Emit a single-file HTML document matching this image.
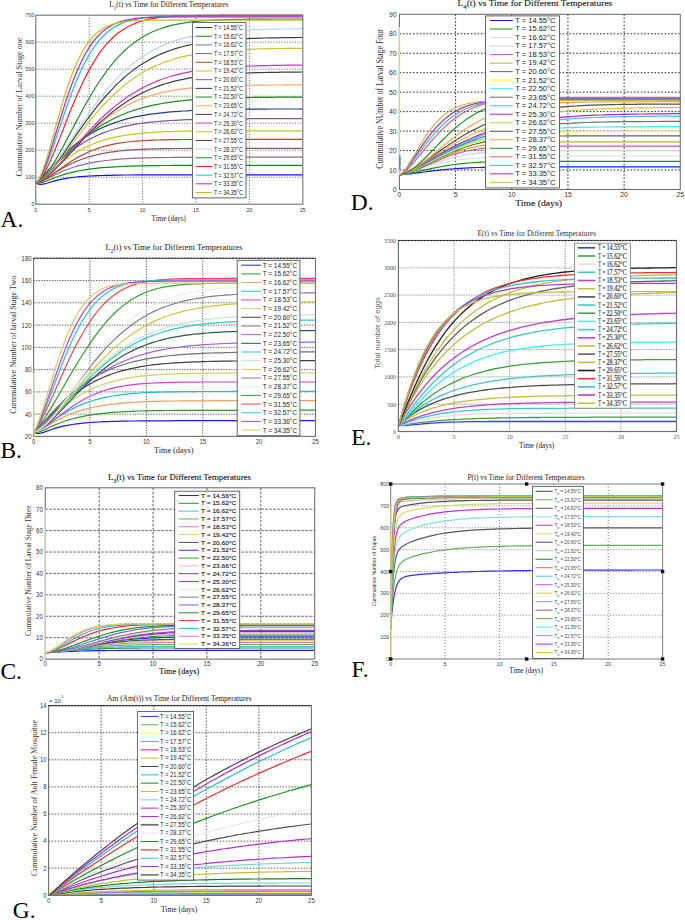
<!DOCTYPE html>
<html><head><meta charset="utf-8"><style>
html,body{margin:0;padding:0;background:#fff;}
svg{display:block;}
</style></head><body>
<svg width="685" height="920" viewBox="0 0 685 920" style="shape-rendering:auto">
<rect width="685" height="920" fill="#fff"/>
<path d="M89.2 15.2V204.2M142.6 15.2V204.2M196 15.2V204.2M249.4 15.2V204.2M35.8 177.2H302.8M35.8 150.2H302.8M35.8 123.2H302.8M35.8 96.2H302.8M35.8 69.2H302.8M35.8 42.2H302.8" stroke="#333" stroke-width="0.8" stroke-dasharray="1,1.7" fill="none"/>
<polyline points="35.8,182.6 36.9,183.4 37.9,183.9 39.0,184.2 40.1,184.3 41.1,184.3 42.2,184.2 43.3,184.0 44.3,183.8 45.4,183.6 46.5,183.3 50.8,182.0 55.0,180.8 59.3,179.7 63.6,178.8 67.8,178.1 72.1,177.5 76.4,177.0 80.7,176.6 84.9,176.3 89.2,176.0 93.5,175.8 97.7,175.6 102.0,175.5 106.3,175.4 110.6,175.3 114.8,175.2 119.1,175.1 123.4,175.0 127.6,175.0 131.9,175.0 136.2,174.9 140.5,174.9 144.7,174.9 149.0,174.9 153.3,174.8 157.6,174.8 161.8,174.8 166.1,174.8 170.4,174.8 174.6,174.8 178.9,174.8 183.2,174.8 187.5,174.8 191.7,174.8 196.0,174.8 200.3,174.8 204.5,174.8 208.8,174.8 213.1,174.8 217.4,174.8 221.6,174.8 225.9,174.8 230.2,174.8 234.4,174.8 238.7,174.8 243.0,174.8 247.3,174.8 251.5,174.8 255.8,174.8 260.1,174.8 264.4,174.8 268.6,174.8 272.9,174.8 277.2,174.8 281.4,174.8 285.7,174.8 290.0,174.8 294.3,174.8 298.5,174.8 302.8,174.8" stroke="#1010ff" stroke-width="1.2" fill="none" stroke-linejoin="round"/>
<polyline points="35.8,182.6 36.9,183.0 37.9,183.1 39.0,183.1 40.1,182.9 41.1,182.7 42.2,182.5 43.3,182.1 44.3,181.8 45.4,181.4 46.5,181.0 50.8,179.2 55.0,177.5 59.3,176.0 63.6,174.6 67.8,173.4 72.1,172.3 76.4,171.4 80.7,170.5 84.9,169.8 89.2,169.2 93.5,168.6 97.7,168.1 102.0,167.7 106.3,167.4 110.6,167.1 114.8,166.8 119.1,166.6 123.4,166.4 127.6,166.2 131.9,166.1 136.2,165.9 140.5,165.8 144.7,165.8 149.0,165.7 153.3,165.6 157.6,165.6 161.8,165.5 166.1,165.5 170.4,165.5 174.6,165.4 178.9,165.4 183.2,165.4 187.5,165.4 191.7,165.4 196.0,165.4 200.3,165.4 204.5,165.4 208.8,165.3 213.1,165.3 217.4,165.3 221.6,165.3 225.9,165.3 230.2,165.3 234.4,165.3 238.7,165.3 243.0,165.3 247.3,165.3 251.5,165.3 255.8,165.3 260.1,165.3 264.4,165.3 268.6,165.3 272.9,165.3 277.2,165.3 281.4,165.3 285.7,165.3 290.0,165.3 294.3,165.3 298.5,165.3 302.8,165.3" stroke="#109010" stroke-width="1.2" fill="none" stroke-linejoin="round"/>
<polyline points="35.8,182.6 36.9,182.7 37.9,182.6 39.0,182.3 40.1,182.0 41.1,181.6 42.2,181.2 43.3,180.7 44.3,180.2 45.4,179.7 46.5,179.1 50.8,176.9 55.0,174.7 59.3,172.7 63.6,170.8 67.8,169.2 72.1,167.7 76.4,166.3 80.7,165.1 84.9,164.1 89.2,163.1 93.5,162.3 97.7,161.6 102.0,161.0 106.3,160.5 110.6,160.0 114.8,159.6 119.1,159.2 123.4,158.9 127.6,158.7 131.9,158.4 136.2,158.2 140.5,158.1 144.7,157.9 149.0,157.8 153.3,157.7 157.6,157.6 161.8,157.6 166.1,157.5 170.4,157.5 174.6,157.4 178.9,157.4 183.2,157.4 187.5,157.3 191.7,157.3 196.0,157.3 200.3,157.3 204.5,157.3 208.8,157.3 213.1,157.3 217.4,157.3 221.6,157.2 225.9,157.2 230.2,157.2 234.4,157.2 238.7,157.2 243.0,157.2 247.3,157.2 251.5,157.2 255.8,157.2 260.1,157.2 264.4,157.2 268.6,157.2 272.9,157.2 277.2,157.2 281.4,157.2 285.7,157.2 290.0,157.2 294.3,157.2 298.5,157.2 302.8,157.2" stroke="#8c6c8c" stroke-width="1.2" fill="none" stroke-linejoin="round"/>
<polyline points="35.8,182.6 36.9,182.6 37.9,182.4 39.0,182.0 40.1,181.6 41.1,181.1 42.2,180.6 43.3,180.0 44.3,179.4 45.4,178.8 46.5,178.1 50.8,175.4 55.0,172.7 59.3,170.1 63.6,167.7 67.8,165.4 72.1,163.3 76.4,161.4 80.7,159.7 84.9,158.2 89.2,156.8 93.5,155.6 97.7,154.6 102.0,153.6 106.3,152.8 110.6,152.1 114.8,151.6 119.1,151.0 123.4,150.6 127.6,150.2 131.9,149.9 136.2,149.6 140.5,149.4 144.7,149.2 149.0,149.1 153.3,148.9 157.6,148.8 161.8,148.7 166.1,148.7 170.4,148.6 174.6,148.5 178.9,148.5 183.2,148.5 187.5,148.4 191.7,148.4 196.0,148.4 200.3,148.4 204.5,148.4 208.8,148.4 213.1,148.3 217.4,148.3 221.6,148.3 225.9,148.3 230.2,148.3 234.4,148.3 238.7,148.3 243.0,148.3 247.3,148.3 251.5,148.3 255.8,148.3 260.1,148.3 264.4,148.3 268.6,148.3 272.9,148.3 277.2,148.3 281.4,148.3 285.7,148.3 290.0,148.3 294.3,148.3 298.5,148.3 302.8,148.3" stroke="#8a5a5a" stroke-width="1.2" fill="none" stroke-linejoin="round"/>
<polyline points="35.8,182.6 36.9,182.6 37.9,182.4 39.0,182.1 40.1,181.7 41.1,181.3 42.2,180.8 43.3,180.3 44.3,179.7 45.4,179.0 46.5,178.4 50.8,175.6 55.0,172.6 59.3,169.5 63.6,166.5 67.8,163.6 72.1,160.8 76.4,158.2 80.7,155.9 84.9,153.7 89.2,151.7 93.5,150.0 97.7,148.4 102.0,147.0 106.3,145.9 110.6,144.8 114.8,143.9 119.1,143.2 123.4,142.5 127.6,142.0 131.9,141.5 136.2,141.1 140.5,140.8 144.7,140.5 149.0,140.3 153.3,140.1 157.6,140.0 161.8,139.9 166.1,139.8 170.4,139.7 174.6,139.6 178.9,139.6 183.2,139.5 187.5,139.5 191.7,139.5 196.0,139.5 200.3,139.4 204.5,139.4 208.8,139.4 213.1,139.4 217.4,139.4 221.6,139.4 225.9,139.4 230.2,139.4 234.4,139.4 238.7,139.4 243.0,139.4 247.3,139.4 251.5,139.4 255.8,139.4 260.1,139.4 264.4,139.4 268.6,139.4 272.9,139.4 277.2,139.4 281.4,139.4 285.7,139.4 290.0,139.4 294.3,139.4 298.5,139.4 302.8,139.4" stroke="#b04a28" stroke-width="1.2" fill="none" stroke-linejoin="round"/>
<polyline points="35.8,182.6 36.9,182.2 37.9,181.6 39.0,180.9 40.1,180.2 41.1,179.4 42.2,178.6 43.3,177.8 44.3,176.9 45.4,176.1 46.5,175.2 50.8,171.5 55.0,167.9 59.3,164.4 63.6,161.1 67.8,157.9 72.1,155.0 76.4,152.3 80.7,149.8 84.9,147.6 89.2,145.5 93.5,143.7 97.7,142.1 102.0,140.6 106.3,139.3 110.6,138.2 114.8,137.2 119.1,136.3 123.4,135.5 127.6,134.9 131.9,134.3 136.2,133.8 140.5,133.3 144.7,132.9 149.0,132.6 153.3,132.3 157.6,132.1 161.8,131.9 166.1,131.7 170.4,131.6 174.6,131.4 178.9,131.3 183.2,131.2 187.5,131.2 191.7,131.1 196.0,131.0 200.3,131.0 204.5,131.0 208.8,130.9 213.1,130.9 217.4,130.9 221.6,130.9 225.9,130.8 230.2,130.8 234.4,130.8 238.7,130.8 243.0,130.8 247.3,130.8 251.5,130.8 255.8,130.8 260.1,130.8 264.4,130.8 268.6,130.8 272.9,130.8 277.2,130.8 281.4,130.8 285.7,130.8 290.0,130.8 294.3,130.8 298.5,130.8 302.8,130.8" stroke="#c8c818" stroke-width="1.2" fill="none" stroke-linejoin="round"/>
<polyline points="35.8,182.6 36.9,182.0 37.9,181.2 39.0,180.4 40.1,179.5 41.1,178.5 42.2,177.5 43.3,176.5 44.3,175.5 45.4,174.4 46.5,173.4 50.8,169.2 55.0,165.1 59.3,161.1 63.6,157.3 67.8,153.8 72.1,150.4 76.4,147.3 80.7,144.5 84.9,141.8 89.2,139.4 93.5,137.2 97.7,135.2 102.0,133.4 106.3,131.8 110.6,130.3 114.8,129.0 119.1,127.8 123.4,126.7 127.6,125.8 131.9,124.9 136.2,124.2 140.5,123.5 144.7,122.9 149.0,122.4 153.3,121.9 157.6,121.5 161.8,121.1 166.1,120.8 170.4,120.5 174.6,120.3 178.9,120.1 183.2,119.9 187.5,119.7 191.7,119.6 196.0,119.4 200.3,119.3 204.5,119.2 208.8,119.2 213.1,119.1 217.4,119.0 221.6,119.0 225.9,118.9 230.2,118.9 234.4,118.8 238.7,118.8 243.0,118.8 247.3,118.8 251.5,118.7 255.8,118.7 260.1,118.7 264.4,118.7 268.6,118.7 272.9,118.7 277.2,118.7 281.4,118.7 285.7,118.6 290.0,118.6 294.3,118.6 298.5,118.6 302.8,118.6" stroke="#7a5a8a" stroke-width="1.2" fill="none" stroke-linejoin="round"/>
<polyline points="35.8,182.6 36.9,181.9 37.9,181.0 39.0,180.0 40.1,179.0 41.1,177.9 42.2,176.8 43.3,175.6 44.3,174.5 45.4,173.3 46.5,172.2 50.8,167.6 55.0,163.0 59.3,158.7 63.6,154.5 67.8,150.6 72.1,146.9 76.4,143.5 80.7,140.3 84.9,137.4 89.2,134.7 93.5,132.2 97.7,129.9 102.0,127.8 106.3,125.9 110.6,124.2 114.8,122.6 119.1,121.2 123.4,119.9 127.6,118.7 131.9,117.7 136.2,116.7 140.5,115.9 144.7,115.1 149.0,114.4 153.3,113.8 157.6,113.3 161.8,112.8 166.1,112.3 170.4,111.9 174.6,111.6 178.9,111.3 183.2,111.0 187.5,110.8 191.7,110.5 196.0,110.3 200.3,110.2 204.5,110.0 208.8,109.9 213.1,109.8 217.4,109.7 221.6,109.6 225.9,109.5 230.2,109.4 234.4,109.3 238.7,109.3 243.0,109.2 247.3,109.2 251.5,109.2 255.8,109.1 260.1,109.1 264.4,109.1 268.6,109.0 272.9,109.0 277.2,109.0 281.4,109.0 285.7,109.0 290.0,109.0 294.3,109.0 298.5,109.0 302.8,108.9" stroke="#223c8c" stroke-width="1.2" fill="none" stroke-linejoin="round"/>
<polyline points="35.8,182.6 36.9,182.2 37.9,181.5 39.0,180.8 40.1,179.9 41.1,179.1 42.2,178.1 43.3,177.2 44.3,176.2 45.4,175.2 46.5,174.1 50.8,169.9 55.0,165.5 59.3,161.0 63.6,156.7 67.8,152.5 72.1,148.4 76.4,144.4 80.7,140.7 84.9,137.2 89.2,133.8 93.5,130.7 97.7,127.8 102.0,125.1 106.3,122.5 110.6,120.2 114.8,118.0 119.1,116.0 123.4,114.2 127.6,112.5 131.9,111.0 136.2,109.6 140.5,108.3 144.7,107.2 149.0,106.1 153.3,105.2 157.6,104.3 161.8,103.5 166.1,102.8 170.4,102.2 174.6,101.6 178.9,101.1 183.2,100.7 187.5,100.2 191.7,99.9 196.0,99.5 200.3,99.3 204.5,99.0 208.8,98.8 213.1,98.6 217.4,98.4 221.6,98.2 225.9,98.1 230.2,97.9 234.4,97.8 238.7,97.7 243.0,97.6 247.3,97.6 251.5,97.5 255.8,97.4 260.1,97.4 264.4,97.3 268.6,97.3 272.9,97.3 277.2,97.2 281.4,97.2 285.7,97.2 290.0,97.2 294.3,97.1 298.5,97.1 302.8,97.1" stroke="#1a8a1a" stroke-width="1.2" fill="none" stroke-linejoin="round"/>
<polyline points="35.8,182.6 36.9,182.4 37.9,182.1 39.0,181.6 40.1,181.1 41.1,180.5 42.2,179.8 43.3,179.1 44.3,178.3 45.4,177.5 46.5,176.7 50.8,173.0 55.0,168.9 59.3,164.6 63.6,160.1 67.8,155.5 72.1,150.9 76.4,146.4 80.7,141.9 84.9,137.6 89.2,133.5 93.5,129.5 97.7,125.7 102.0,122.1 106.3,118.7 110.6,115.6 114.8,112.6 119.1,109.9 123.4,107.4 127.6,105.1 131.9,102.9 136.2,101.0 140.5,99.2 144.7,97.6 149.0,96.2 153.3,94.9 157.6,93.7 161.8,92.6 166.1,91.7 170.4,90.8 174.6,90.1 178.9,89.4 183.2,88.8 187.5,88.3 191.7,87.9 196.0,87.5 200.3,87.1 204.5,86.8 208.8,86.5 213.1,86.3 217.4,86.1 221.6,85.9 225.9,85.8 230.2,85.6 234.4,85.5 238.7,85.4 243.0,85.3 247.3,85.3 251.5,85.2 255.8,85.1 260.1,85.1 264.4,85.1 268.6,85.0 272.9,85.0 277.2,85.0 281.4,85.0 285.7,84.9 290.0,84.9 294.3,84.9 298.5,84.9 302.8,84.9" stroke="#ffa868" stroke-width="1.2" fill="none" stroke-linejoin="round"/>
<polyline points="35.8,182.6 36.9,182.4 37.9,182.1 39.0,181.6 40.1,181.1 41.1,180.6 42.2,179.9 43.3,179.2 44.3,178.5 45.4,177.7 46.5,176.9 50.8,173.3 55.0,169.3 59.3,165.1 63.6,160.6 67.8,156.0 72.1,151.4 76.4,146.7 80.7,142.1 84.9,137.6 89.2,133.2 93.5,128.9 97.7,124.8 102.0,120.9 106.3,117.1 110.6,113.5 114.8,110.1 119.1,106.9 123.4,103.9 127.6,101.1 131.9,98.5 136.2,96.0 140.5,93.8 144.7,91.7 149.0,89.8 153.3,88.0 157.6,86.4 161.8,84.9 166.1,83.5 170.4,82.3 174.6,81.2 178.9,80.2 183.2,79.3 187.5,78.4 191.7,77.7 196.0,77.0 200.3,76.4 204.5,75.9 208.8,75.4 213.1,75.0 217.4,74.6 221.6,74.3 225.9,74.0 230.2,73.7 234.4,73.5 238.7,73.3 243.0,73.1 247.3,73.0 251.5,72.8 255.8,72.7 260.1,72.6 264.4,72.5 268.6,72.4 272.9,72.3 277.2,72.3 281.4,72.2 285.7,72.2 290.0,72.1 294.3,72.1 298.5,72.1 302.8,72.0" stroke="#404040" stroke-width="1.2" fill="none" stroke-linejoin="round"/>
<polyline points="35.8,182.6 36.9,182.4 37.9,182.1 39.0,181.6 40.1,181.1 41.1,180.5 42.2,179.8 43.3,179.1 44.3,178.3 45.4,177.5 46.5,176.7 50.8,172.9 55.0,168.8 59.3,164.3 63.6,159.6 67.8,154.8 72.1,150.0 76.4,145.1 80.7,140.3 84.9,135.5 89.2,130.9 93.5,126.4 97.7,122.0 102.0,117.8 106.3,113.8 110.6,110.0 114.8,106.4 119.1,103.0 123.4,99.8 127.6,96.8 131.9,94.0 136.2,91.4 140.5,88.9 144.7,86.7 149.0,84.6 153.3,82.7 157.6,80.9 161.8,79.3 166.1,77.8 170.4,76.5 174.6,75.3 178.9,74.2 183.2,73.2 187.5,72.3 191.7,71.4 196.0,70.7 200.3,70.0 204.5,69.4 208.8,68.9 213.1,68.4 217.4,68.0 221.6,67.6 225.9,67.3 230.2,67.0 234.4,66.7 238.7,66.5 243.0,66.3 247.3,66.1 251.5,66.0 255.8,65.8 260.1,65.7 264.4,65.6 268.6,65.5 272.9,65.4 277.2,65.3 281.4,65.3 285.7,65.2 290.0,65.2 294.3,65.1 298.5,65.1 302.8,65.1" stroke="#cc33cc" stroke-width="1.2" fill="none" stroke-linejoin="round"/>
<polyline points="35.8,182.6 36.9,182.4 37.9,182.0 39.0,181.4 40.1,180.8 41.1,180.1 42.2,179.3 43.3,178.4 44.3,177.5 45.4,176.5 46.5,175.5 50.8,171.1 55.0,166.2 59.3,160.9 63.6,155.4 67.8,149.7 72.1,144.0 76.4,138.3 80.7,132.6 84.9,127.1 89.2,121.7 93.5,116.4 97.7,111.4 102.0,106.6 106.3,102.0 110.6,97.6 114.8,93.5 119.1,89.6 123.4,86.0 127.6,82.6 131.9,79.4 136.2,76.5 140.5,73.8 144.7,71.3 149.0,69.0 153.3,66.9 157.6,65.0 161.8,63.2 166.1,61.6 170.4,60.2 174.6,58.8 178.9,57.7 183.2,56.6 187.5,55.6 191.7,54.8 196.0,54.0 200.3,53.3 204.5,52.7 208.8,52.1 213.1,51.6 217.4,51.2 221.6,50.8 225.9,50.5 230.2,50.2 234.4,49.9 238.7,49.7 243.0,49.5 247.3,49.3 251.5,49.1 255.8,49.0 260.1,48.9 264.4,48.8 268.6,48.7 272.9,48.6 277.2,48.5 281.4,48.5 285.7,48.4 290.0,48.4 294.3,48.4 298.5,48.3 302.8,48.3" stroke="#c8c828" stroke-width="1.2" fill="none" stroke-linejoin="round"/>
<polyline points="35.8,182.6 36.9,182.4 37.9,181.9 39.0,181.3 40.1,180.6 41.1,179.9 42.2,179.0 43.3,178.1 44.3,177.1 45.4,176.1 46.5,175.0 50.8,170.2 55.0,164.8 59.3,159.1 63.6,153.2 67.8,147.1 72.1,140.9 76.4,134.7 80.7,128.6 84.9,122.6 89.2,116.8 93.5,111.1 97.7,105.7 102.0,100.5 106.3,95.5 110.6,90.8 114.8,86.3 119.1,82.1 123.4,78.2 127.6,74.6 131.9,71.1 136.2,68.0 140.5,65.1 144.7,62.4 149.0,59.9 153.3,57.6 157.6,55.5 161.8,53.6 166.1,51.9 170.4,50.3 174.6,48.9 178.9,47.6 183.2,46.5 187.5,45.4 191.7,44.5 196.0,43.6 200.3,42.9 204.5,42.2 208.8,41.6 213.1,41.1 217.4,40.6 221.6,40.2 225.9,39.9 230.2,39.5 234.4,39.3 238.7,39.0 243.0,38.8 247.3,38.6 251.5,38.4 255.8,38.3 260.1,38.1 264.4,38.0 268.6,37.9 272.9,37.9 277.2,37.8 281.4,37.7 285.7,37.7 290.0,37.6 294.3,37.6 298.5,37.5 302.8,37.5" stroke="#404040" stroke-width="1.2" fill="none" stroke-linejoin="round"/>
<polyline points="35.8,182.6 36.9,182.3 37.9,181.9 39.0,181.2 40.1,180.5 41.1,179.7 42.2,178.8 43.3,177.8 44.3,176.8 45.4,175.7 46.5,174.5 50.8,169.4 55.0,163.8 59.3,157.7 63.6,151.4 67.8,144.9 72.1,138.4 76.4,131.9 80.7,125.4 84.9,119.0 89.2,112.9 93.5,106.9 97.7,101.1 102.0,95.6 106.3,90.3 110.6,85.3 114.8,80.6 119.1,76.2 123.4,72.0 127.6,68.1 131.9,64.5 136.2,61.2 140.5,58.1 144.7,55.2 149.0,52.6 153.3,50.2 157.6,48.0 161.8,45.9 166.1,44.1 170.4,42.5 174.6,40.9 178.9,39.6 183.2,38.4 187.5,37.3 191.7,36.3 196.0,35.4 200.3,34.6 204.5,33.9 208.8,33.3 213.1,32.7 217.4,32.2 221.6,31.8 225.9,31.4 230.2,31.0 234.4,30.7 238.7,30.5 243.0,30.2 247.3,30.0 251.5,29.8 255.8,29.7 260.1,29.6 264.4,29.4 268.6,29.3 272.9,29.2 277.2,29.2 281.4,29.1 285.7,29.0 290.0,29.0 294.3,28.9 298.5,28.9 302.8,28.9" stroke="#b8d4fa" stroke-width="1.2" fill="none" stroke-linejoin="round"/>
<polyline points="35.8,182.6 36.9,182.4 37.9,181.9 39.0,181.3 40.1,180.5 41.1,179.6 42.2,178.6 43.3,177.6 44.3,176.4 45.4,175.1 46.5,173.8 50.8,167.8 55.0,161.0 59.3,153.5 63.6,145.7 67.8,137.6 72.1,129.5 76.4,121.4 80.7,113.3 84.9,105.5 89.2,98.0 93.5,90.8 97.7,84.0 102.0,77.6 106.3,71.6 110.6,66.0 114.8,60.9 119.1,56.2 123.4,51.8 127.6,47.9 131.9,44.4 136.2,41.2 140.5,38.3 144.7,35.8 149.0,33.5 153.3,31.5 157.6,29.8 161.8,28.2 166.1,26.9 170.4,25.7 174.6,24.7 178.9,23.8 183.2,23.1 187.5,22.4 191.7,21.9 196.0,21.4 200.3,21.0 204.5,20.6 208.8,20.4 213.1,20.1 217.4,19.9 221.6,19.8 225.9,19.6 230.2,19.5 234.4,19.4 238.7,19.3 243.0,19.3 247.3,19.2 251.5,19.2 255.8,19.1 260.1,19.1 264.4,19.1 268.6,19.1 272.9,19.0 277.2,19.0 281.4,19.0 285.7,19.0 290.0,19.0 294.3,19.0 298.5,19.0 302.8,19.0" stroke="#229022" stroke-width="1.2" fill="none" stroke-linejoin="round"/>
<polyline points="35.8,182.6 36.9,182.2 37.9,181.5 39.0,180.5 40.1,179.3 41.1,178.0 42.2,176.4 43.3,174.7 44.3,172.9 45.4,171.0 46.5,168.9 50.8,159.9 55.0,149.8 59.3,139.1 63.6,128.2 67.8,117.3 72.1,106.7 76.4,96.6 80.7,87.0 84.9,78.1 89.2,69.9 93.5,62.4 97.7,55.7 102.0,49.7 106.3,44.4 110.6,39.8 114.8,35.8 119.1,32.3 123.4,29.4 127.6,26.8 131.9,24.7 136.2,22.9 140.5,21.5 144.7,20.2 149.0,19.2 153.3,18.4 157.6,17.7 161.8,17.2 166.1,16.8 170.4,16.4 174.6,16.2 178.9,15.9 183.2,15.8 187.5,15.6 191.7,15.5 196.0,15.5 200.3,15.4 204.5,15.3 208.8,15.3 213.1,15.3 217.4,15.3 221.6,15.2 225.9,15.2 230.2,15.2 234.4,15.2 238.7,15.2 243.0,15.2 247.3,15.2 251.5,15.2 255.8,15.2 260.1,15.2 264.4,15.2 268.6,15.2 272.9,15.2 277.2,15.2 281.4,15.2 285.7,15.2 290.0,15.2 294.3,15.2 298.5,15.2 302.8,15.2" stroke="#ff2020" stroke-width="1.2" fill="none" stroke-linejoin="round"/>
<polyline points="35.8,182.6 36.9,182.1 37.9,181.2 39.0,179.9 40.1,178.4 41.1,176.6 42.2,174.6 43.3,172.5 44.3,170.1 45.4,167.7 46.5,165.1 50.8,153.7 55.0,141.4 59.3,128.6 63.6,115.8 67.8,103.5 72.1,91.9 76.4,81.1 80.7,71.3 84.9,62.5 89.2,54.8 93.5,48.0 97.7,42.2 102.0,37.3 106.3,33.2 110.6,29.7 114.8,26.9 119.1,24.6 123.4,22.7 127.6,21.2 131.9,20.0 136.2,19.1 140.5,18.3 144.7,17.7 149.0,17.3 153.3,17.0 157.6,16.7 161.8,16.5 166.1,16.4 170.4,16.3 174.6,16.2 178.9,16.2 183.2,16.1 187.5,16.1 191.7,16.1 196.0,16.0 200.3,16.0 204.5,16.0 208.8,16.0 213.1,16.0 217.4,16.0 221.6,16.0 225.9,16.0 230.2,16.0 234.4,16.0 238.7,16.0 243.0,16.0 247.3,16.0 251.5,16.0 255.8,16.0 260.1,16.0 264.4,16.0 268.6,16.0 272.9,16.0 277.2,16.0 281.4,16.0 285.7,16.0 290.0,16.0 294.3,16.0 298.5,16.0 302.8,16.0" stroke="#20c0c8" stroke-width="1.2" fill="none" stroke-linejoin="round"/>
<polyline points="35.8,182.6 36.9,182.1 37.9,181.0 39.0,179.5 40.1,177.7 41.1,175.7 42.2,173.4 43.3,171.0 44.3,168.3 45.4,165.5 46.5,162.6 50.8,149.8 55.0,136.0 59.3,122.0 63.6,108.3 67.8,95.4 72.1,83.4 76.4,72.5 80.7,62.9 84.9,54.5 89.2,47.4 93.5,41.3 97.7,36.2 102.0,32.1 106.3,28.7 110.6,26.0 114.8,23.8 119.1,22.1 123.4,20.8 127.6,19.8 131.9,19.0 136.2,18.4 140.5,18.0 144.7,17.7 149.0,17.4 153.3,17.2 157.6,17.1 161.8,17.0 166.1,17.0 170.4,16.9 174.6,16.9 178.9,16.9 183.2,16.9 187.5,16.8 191.7,16.8 196.0,16.8 200.3,16.8 204.5,16.8 208.8,16.8 213.1,16.8 217.4,16.8 221.6,16.8 225.9,16.8 230.2,16.8 234.4,16.8 238.7,16.8 243.0,16.8 247.3,16.8 251.5,16.8 255.8,16.8 260.1,16.8 264.4,16.8 268.6,16.8 272.9,16.8 277.2,16.8 281.4,16.8 285.7,16.8 290.0,16.8 294.3,16.8 298.5,16.8 302.8,16.8" stroke="#c020c8" stroke-width="1.2" fill="none" stroke-linejoin="round"/>
<polyline points="35.8,182.6 36.9,182.0 37.9,180.7 39.0,179.0 40.1,176.9 41.1,174.5 42.2,171.8 43.3,168.9 44.3,165.8 45.4,162.6 46.5,159.2 50.8,144.6 55.0,129.2 59.3,113.9 63.6,99.4 67.8,86.0 72.1,74.1 76.4,63.6 80.7,54.7 84.9,47.3 89.2,41.1 93.5,36.2 97.7,32.3 102.0,29.2 106.3,26.8 110.6,25.0 114.8,23.6 119.1,22.6 123.4,21.9 127.6,21.3 131.9,20.9 136.2,20.7 140.5,20.5 144.7,20.3 149.0,20.2 153.3,20.2 157.6,20.1 161.8,20.1 166.1,20.1 170.4,20.1 174.6,20.1 178.9,20.1 183.2,20.1 187.5,20.1 191.7,20.1 196.0,20.1 200.3,20.1 204.5,20.1 208.8,20.1 213.1,20.1 217.4,20.1 221.6,20.1 225.9,20.1 230.2,20.1 234.4,20.1 238.7,20.1 243.0,20.1 247.3,20.1 251.5,20.1 255.8,20.1 260.1,20.1 264.4,20.1 268.6,20.1 272.9,20.1 277.2,20.1 281.4,20.1 285.7,20.1 290.0,20.1 294.3,20.1 298.5,20.1 302.8,20.1" stroke="#c0c020" stroke-width="1.2" fill="none" stroke-linejoin="round"/>
<rect x="35.8" y="15.2" width="267" height="189" fill="none" stroke="#707070" stroke-width="1.1"/>
<text x="34.3" y="206.36" font-family='"Liberation Sans", sans-serif' font-size="6" text-anchor="end" fill="#333" textLength="2.9" lengthAdjust="spacingAndGlyphs">0</text>
<text x="34.3" y="179.36" font-family='"Liberation Sans", sans-serif' font-size="6" text-anchor="end" fill="#333" textLength="8.7" lengthAdjust="spacingAndGlyphs">100</text>
<text x="34.3" y="152.36" font-family='"Liberation Sans", sans-serif' font-size="6" text-anchor="end" fill="#333" textLength="8.7" lengthAdjust="spacingAndGlyphs">200</text>
<text x="34.3" y="125.36" font-family='"Liberation Sans", sans-serif' font-size="6" text-anchor="end" fill="#333" textLength="8.7" lengthAdjust="spacingAndGlyphs">300</text>
<text x="34.3" y="98.36" font-family='"Liberation Sans", sans-serif' font-size="6" text-anchor="end" fill="#333" textLength="8.7" lengthAdjust="spacingAndGlyphs">400</text>
<text x="34.3" y="71.36" font-family='"Liberation Sans", sans-serif' font-size="6" text-anchor="end" fill="#333" textLength="8.7" lengthAdjust="spacingAndGlyphs">500</text>
<text x="34.3" y="44.36" font-family='"Liberation Sans", sans-serif' font-size="6" text-anchor="end" fill="#333" textLength="8.7" lengthAdjust="spacingAndGlyphs">600</text>
<text x="34.3" y="17.36" font-family='"Liberation Sans", sans-serif' font-size="6" text-anchor="end" fill="#333" textLength="8.7" lengthAdjust="spacingAndGlyphs">700</text>
<text x="35.8" y="211.66" font-family='"Liberation Sans", sans-serif' font-size="6" text-anchor="middle" fill="#333" textLength="2.9" lengthAdjust="spacingAndGlyphs">0</text>
<text x="89.2" y="211.66" font-family='"Liberation Sans", sans-serif' font-size="6" text-anchor="middle" fill="#333" textLength="2.9" lengthAdjust="spacingAndGlyphs">5</text>
<text x="142.6" y="211.66" font-family='"Liberation Sans", sans-serif' font-size="6" text-anchor="middle" fill="#333" textLength="5.8" lengthAdjust="spacingAndGlyphs">10</text>
<text x="196" y="211.66" font-family='"Liberation Sans", sans-serif' font-size="6" text-anchor="middle" fill="#333" textLength="5.8" lengthAdjust="spacingAndGlyphs">15</text>
<text x="249.4" y="211.66" font-family='"Liberation Sans", sans-serif' font-size="6" text-anchor="middle" fill="#333" textLength="5.8" lengthAdjust="spacingAndGlyphs">20</text>
<text x="302.8" y="211.66" font-family='"Liberation Sans", sans-serif' font-size="6" text-anchor="middle" fill="#333" textLength="5.8" lengthAdjust="spacingAndGlyphs">25</text>
<rect x="192.4" y="22.4" width="53.6" height="175.5" fill="#fff" stroke="#555" stroke-width="0.9"/>
<line x1="195.5" y1="27.6" x2="212.2" y2="27.6" stroke="#1010ff" stroke-width="1"/>
<text x="213.9" y="30.05" font-family='"Liberation Sans", sans-serif' font-size="6.8" text-anchor="start" fill="#222" textLength="29" lengthAdjust="spacingAndGlyphs">T = 14.55°C</text>
<line x1="195.5" y1="36.28" x2="212.2" y2="36.28" stroke="#109010" stroke-width="1"/>
<text x="213.9" y="38.73" font-family='"Liberation Sans", sans-serif' font-size="6.8" text-anchor="start" fill="#222" textLength="29" lengthAdjust="spacingAndGlyphs">T = 15.62°C</text>
<line x1="195.5" y1="44.96" x2="212.2" y2="44.96" stroke="#8c6c8c" stroke-width="1"/>
<text x="213.9" y="47.41" font-family='"Liberation Sans", sans-serif' font-size="6.8" text-anchor="start" fill="#222" textLength="29" lengthAdjust="spacingAndGlyphs">T = 16.62°C</text>
<line x1="195.5" y1="53.64" x2="212.2" y2="53.64" stroke="#8a5a5a" stroke-width="1"/>
<text x="213.9" y="56.09" font-family='"Liberation Sans", sans-serif' font-size="6.8" text-anchor="start" fill="#222" textLength="29" lengthAdjust="spacingAndGlyphs">T = 17.57°C</text>
<line x1="195.5" y1="62.32" x2="212.2" y2="62.32" stroke="#b04a28" stroke-width="1"/>
<text x="213.9" y="64.77" font-family='"Liberation Sans", sans-serif' font-size="6.8" text-anchor="start" fill="#222" textLength="29" lengthAdjust="spacingAndGlyphs">T = 18.53°C</text>
<line x1="195.5" y1="71" x2="212.2" y2="71" stroke="#c8c818" stroke-width="1"/>
<text x="213.9" y="73.45" font-family='"Liberation Sans", sans-serif' font-size="6.8" text-anchor="start" fill="#222" textLength="29" lengthAdjust="spacingAndGlyphs">T = 19.42°C</text>
<line x1="195.5" y1="79.68" x2="212.2" y2="79.68" stroke="#7a5a8a" stroke-width="1"/>
<text x="213.9" y="82.13" font-family='"Liberation Sans", sans-serif' font-size="6.8" text-anchor="start" fill="#222" textLength="29" lengthAdjust="spacingAndGlyphs">T = 20.60°C</text>
<line x1="195.5" y1="88.36" x2="212.2" y2="88.36" stroke="#223c8c" stroke-width="1"/>
<text x="213.9" y="90.81" font-family='"Liberation Sans", sans-serif' font-size="6.8" text-anchor="start" fill="#222" textLength="29" lengthAdjust="spacingAndGlyphs">T = 21.52°C</text>
<line x1="195.5" y1="97.04" x2="212.2" y2="97.04" stroke="#1a8a1a" stroke-width="1"/>
<text x="213.9" y="99.49" font-family='"Liberation Sans", sans-serif' font-size="6.8" text-anchor="start" fill="#222" textLength="29" lengthAdjust="spacingAndGlyphs">T = 22.50°C</text>
<line x1="195.5" y1="105.72" x2="212.2" y2="105.72" stroke="#ffa868" stroke-width="1"/>
<text x="213.9" y="108.17" font-family='"Liberation Sans", sans-serif' font-size="6.8" text-anchor="start" fill="#222" textLength="29" lengthAdjust="spacingAndGlyphs">T = 23.65°C</text>
<line x1="195.5" y1="114.4" x2="212.2" y2="114.4" stroke="#404040" stroke-width="1"/>
<text x="213.9" y="116.85" font-family='"Liberation Sans", sans-serif' font-size="6.8" text-anchor="start" fill="#222" textLength="29" lengthAdjust="spacingAndGlyphs">T = 24.72°C</text>
<line x1="195.5" y1="123.08" x2="212.2" y2="123.08" stroke="#cc33cc" stroke-width="1"/>
<text x="213.9" y="125.53" font-family='"Liberation Sans", sans-serif' font-size="6.8" text-anchor="start" fill="#222" textLength="29" lengthAdjust="spacingAndGlyphs">T = 25.30°C</text>
<line x1="195.5" y1="131.76" x2="212.2" y2="131.76" stroke="#c8c828" stroke-width="1"/>
<text x="213.9" y="134.21" font-family='"Liberation Sans", sans-serif' font-size="6.8" text-anchor="start" fill="#222" textLength="29" lengthAdjust="spacingAndGlyphs">T = 26.62°C</text>
<line x1="195.5" y1="140.44" x2="212.2" y2="140.44" stroke="#404040" stroke-width="1"/>
<text x="213.9" y="142.89" font-family='"Liberation Sans", sans-serif' font-size="6.8" text-anchor="start" fill="#222" textLength="29" lengthAdjust="spacingAndGlyphs">T = 27.55°C</text>
<line x1="195.5" y1="149.12" x2="212.2" y2="149.12" stroke="#b8d4fa" stroke-width="1"/>
<text x="213.9" y="151.57" font-family='"Liberation Sans", sans-serif' font-size="6.8" text-anchor="start" fill="#222" textLength="29" lengthAdjust="spacingAndGlyphs">T = 28.37°C</text>
<line x1="195.5" y1="157.8" x2="212.2" y2="157.8" stroke="#229022" stroke-width="1"/>
<text x="213.9" y="160.25" font-family='"Liberation Sans", sans-serif' font-size="6.8" text-anchor="start" fill="#222" textLength="29" lengthAdjust="spacingAndGlyphs">T = 29.65°C</text>
<line x1="195.5" y1="166.48" x2="212.2" y2="166.48" stroke="#ff2020" stroke-width="1"/>
<text x="213.9" y="168.93" font-family='"Liberation Sans", sans-serif' font-size="6.8" text-anchor="start" fill="#222" textLength="29" lengthAdjust="spacingAndGlyphs">T = 31.55°C</text>
<line x1="195.5" y1="175.16" x2="212.2" y2="175.16" stroke="#20c0c8" stroke-width="1"/>
<text x="213.9" y="177.61" font-family='"Liberation Sans", sans-serif' font-size="6.8" text-anchor="start" fill="#222" textLength="29" lengthAdjust="spacingAndGlyphs">T = 32.57°C</text>
<line x1="195.5" y1="183.84" x2="212.2" y2="183.84" stroke="#c020c8" stroke-width="1"/>
<text x="213.9" y="186.29" font-family='"Liberation Sans", sans-serif' font-size="6.8" text-anchor="start" fill="#222" textLength="29" lengthAdjust="spacingAndGlyphs">T = 33.35°C</text>
<line x1="195.5" y1="192.52" x2="212.2" y2="192.52" stroke="#c0c020" stroke-width="1"/>
<text x="213.9" y="194.97" font-family='"Liberation Sans", sans-serif' font-size="6.8" text-anchor="start" fill="#222" textLength="29" lengthAdjust="spacingAndGlyphs">T = 34.35°C</text>
<text x="168.8" y="6.7" font-family='"Liberation Serif", serif' font-size="8.6" font-weight="normal" text-anchor="middle" fill="#222" textLength="119.2" lengthAdjust="spacingAndGlyphs">L<tspan font-size="6.19" dy="3.27">1</tspan><tspan dy="-3.27">(t) vs Time for Different Temperatures</tspan></text>
<text x="168.7" y="220.9" font-family='"Liberation Serif", serif' font-size="7.2" text-anchor="middle" fill="#222" textLength="34.2" lengthAdjust="spacingAndGlyphs">Time (days)</text>
<text transform="translate(21.5,107) rotate(-90)" font-family='"Liberation Serif", serif' font-size="7.6" text-anchor="middle" fill="#333" textLength="138.9" lengthAdjust="spacingAndGlyphs">Cummulative Number of Larval Stage one</text>
<text x="0.5" y="227.1" font-family='"Liberation Serif", serif' font-size="23.4" text-anchor="start" fill="#000">A.</text>
<path d="M89.98 258.3V436.4M146.36 258.3V436.4M202.74 258.3V436.4M259.12 258.3V436.4M33.6 414.14H315.5M33.6 391.88H315.5M33.6 369.61H315.5M33.6 347.35H315.5M33.6 325.09H315.5M33.6 302.82H315.5M33.6 280.56H315.5" stroke="#333" stroke-width="0.8" stroke-dasharray="1.3,1.3" fill="none"/>
<polyline points="33.6,431.9 34.7,432.7 35.9,433.1 37.0,433.4 38.1,433.4 39.2,433.4 40.4,433.2 41.5,432.9 42.6,432.6 43.7,432.3 44.9,431.9 49.4,430.3 53.9,428.7 58.4,427.4 62.9,426.2 67.4,425.3 71.9,424.5 76.4,423.9 81.0,423.3 85.5,422.9 90.0,422.5 94.5,422.2 99.0,422.0 103.5,421.7 108.0,421.6 112.5,421.4 117.0,421.3 121.6,421.2 126.1,421.1 130.6,421.0 135.1,421.0 139.6,420.9 144.1,420.9 148.6,420.9 153.1,420.8 157.6,420.8 162.1,420.8 166.7,420.8 171.2,420.8 175.7,420.7 180.2,420.7 184.7,420.7 189.2,420.7 193.7,420.7 198.2,420.7 202.7,420.7 207.3,420.7 211.8,420.7 216.3,420.7 220.8,420.7 225.3,420.7 229.8,420.7 234.3,420.7 238.8,420.7 243.3,420.7 247.8,420.7 252.4,420.7 256.9,420.7 261.4,420.7 265.9,420.7 270.4,420.7 274.9,420.7 279.4,420.7 283.9,420.7 288.4,420.7 292.9,420.7 297.5,420.7 302.0,420.7 306.5,420.7 311.0,420.7 315.5,420.7" stroke="#1a1aff" stroke-width="1.2" fill="none" stroke-linejoin="round"/>
<polyline points="33.6,431.9 34.7,432.3 35.9,432.4 37.0,432.3 38.1,432.2 39.2,431.9 40.4,431.5 41.5,431.1 42.6,430.6 43.7,430.2 44.9,429.6 49.4,427.5 53.9,425.4 58.4,423.5 62.9,421.8 67.4,420.3 71.9,419.0 76.4,417.8 81.0,416.8 85.5,415.9 90.0,415.1 94.5,414.4 99.0,413.8 103.5,413.3 108.0,412.8 112.5,412.4 117.0,412.1 121.6,411.8 126.1,411.6 130.6,411.4 135.1,411.2 139.6,411.0 144.1,410.9 148.6,410.8 153.1,410.7 157.6,410.6 162.1,410.6 166.7,410.5 171.2,410.5 175.7,410.4 180.2,410.4 184.7,410.4 189.2,410.3 193.7,410.3 198.2,410.3 202.7,410.3 207.3,410.3 211.8,410.3 216.3,410.3 220.8,410.3 225.3,410.3 229.8,410.3 234.3,410.3 238.8,410.3 243.3,410.3 247.8,410.2 252.4,410.2 256.9,410.2 261.4,410.2 265.9,410.2 270.4,410.2 274.9,410.2 279.4,410.2 283.9,410.2 288.4,410.2 292.9,410.2 297.5,410.2 302.0,410.2 306.5,410.2 311.0,410.2 315.5,410.2" stroke="#2a9a2a" stroke-width="1.2" fill="none" stroke-linejoin="round"/>
<polyline points="33.6,431.9 34.7,432.0 35.9,431.8 37.0,431.5 38.1,431.0 39.2,430.5 40.4,430.0 41.5,429.4 42.6,428.8 43.7,428.1 44.9,427.4 49.4,424.7 53.9,422.1 58.4,419.6 62.9,417.4 67.4,415.3 71.9,413.5 76.4,411.9 81.0,410.4 85.5,409.1 90.0,408.0 94.5,407.0 99.0,406.1 103.5,405.3 108.0,404.7 112.5,404.1 117.0,403.6 121.6,403.1 126.1,402.8 130.6,402.4 135.1,402.2 139.6,401.9 144.1,401.7 148.6,401.6 153.1,401.4 157.6,401.3 162.1,401.2 166.7,401.1 171.2,401.0 175.7,401.0 180.2,400.9 184.7,400.9 189.2,400.8 193.7,400.8 198.2,400.8 202.7,400.8 207.3,400.8 211.8,400.7 216.3,400.7 220.8,400.7 225.3,400.7 229.8,400.7 234.3,400.7 238.8,400.7 243.3,400.7 247.8,400.7 252.4,400.7 256.9,400.7 261.4,400.7 265.9,400.7 270.4,400.7 274.9,400.7 279.4,400.7 283.9,400.7 288.4,400.7 292.9,400.7 297.5,400.7 302.0,400.7 306.5,400.7 311.0,400.7 315.5,400.7" stroke="#f0a060" stroke-width="1.2" fill="none" stroke-linejoin="round"/>
<polyline points="33.6,431.9 34.7,431.9 35.9,431.6 37.0,431.2 38.1,430.7 39.2,430.1 40.4,429.4 41.5,428.8 42.6,428.0 43.7,427.3 44.9,426.5 49.4,423.4 53.9,420.2 58.4,417.1 62.9,414.3 67.4,411.6 71.9,409.1 76.4,406.9 81.0,404.9 85.5,403.1 90.0,401.5 94.5,400.1 99.0,398.8 103.5,397.7 108.0,396.8 112.5,396.0 117.0,395.3 121.6,394.7 126.1,394.1 130.6,393.7 135.1,393.3 139.6,393.0 144.1,392.7 148.6,392.5 153.1,392.3 157.6,392.2 162.1,392.0 166.7,391.9 171.2,391.8 175.7,391.8 180.2,391.7 184.7,391.6 189.2,391.6 193.7,391.6 198.2,391.5 202.7,391.5 207.3,391.5 211.8,391.5 216.3,391.5 220.8,391.5 225.3,391.5 229.8,391.5 234.3,391.4 238.8,391.4 243.3,391.4 247.8,391.4 252.4,391.4 256.9,391.4 261.4,391.4 265.9,391.4 270.4,391.4 274.9,391.4 279.4,391.4 283.9,391.4 288.4,391.4 292.9,391.4 297.5,391.4 302.0,391.4 306.5,391.4 311.0,391.4 315.5,391.4" stroke="#20c0c8" stroke-width="1.2" fill="none" stroke-linejoin="round"/>
<polyline points="33.6,431.9 34.7,431.8 35.9,431.4 37.0,431.0 38.1,430.5 39.2,430.0 40.4,429.4 41.5,428.8 42.6,428.1 43.7,427.4 44.9,426.6 49.4,423.5 53.9,420.1 58.4,416.6 62.9,413.2 67.4,409.9 71.9,406.7 76.4,403.7 81.0,401.0 85.5,398.5 90.0,396.2 94.5,394.2 99.0,392.4 103.5,390.8 108.0,389.4 112.5,388.2 117.0,387.2 121.6,386.3 126.1,385.6 130.6,384.9 135.1,384.4 139.6,383.9 144.1,383.6 148.6,383.3 153.1,383.0 157.6,382.8 162.1,382.6 166.7,382.5 171.2,382.4 175.7,382.3 180.2,382.2 184.7,382.2 189.2,382.1 193.7,382.1 198.2,382.1 202.7,382.0 207.3,382.0 211.8,382.0 216.3,382.0 220.8,382.0 225.3,382.0 229.8,382.0 234.3,382.0 238.8,382.0 243.3,382.0 247.8,382.0 252.4,382.0 256.9,382.0 261.4,382.0 265.9,382.0 270.4,382.0 274.9,382.0 279.4,382.0 283.9,382.0 288.4,382.0 292.9,382.0 297.5,382.0 302.0,382.0 306.5,382.0 311.0,382.0 315.5,382.0" stroke="#d040d8" stroke-width="1.2" fill="none" stroke-linejoin="round"/>
<polyline points="33.6,431.9 34.7,431.5 35.9,430.8 37.0,430.1 38.1,429.2 39.2,428.4 40.4,427.4 41.5,426.5 42.6,425.5 43.7,424.5 44.9,423.5 49.4,419.4 53.9,415.3 58.4,411.3 62.9,407.5 67.4,403.9 71.9,400.5 76.4,397.5 81.0,394.7 85.5,392.1 90.0,389.8 94.5,387.7 99.0,385.8 103.5,384.2 108.0,382.7 112.5,381.4 117.0,380.3 121.6,379.3 126.1,378.4 130.6,377.6 135.1,376.9 139.6,376.4 144.1,375.9 148.6,375.4 153.1,375.1 157.6,374.7 162.1,374.5 166.7,374.2 171.2,374.0 175.7,373.9 180.2,373.7 184.7,373.6 189.2,373.5 193.7,373.4 198.2,373.3 202.7,373.3 207.3,373.2 211.8,373.2 216.3,373.1 220.8,373.1 225.3,373.1 229.8,373.1 234.3,373.0 238.8,373.0 243.3,373.0 247.8,373.0 252.4,373.0 256.9,373.0 261.4,373.0 265.9,373.0 270.4,373.0 274.9,373.0 279.4,373.0 283.9,373.0 288.4,373.0 292.9,373.0 297.5,373.0 302.0,373.0 306.5,373.0 311.0,373.0 315.5,373.0" stroke="#d0d060" stroke-width="1.2" fill="none" stroke-linejoin="round"/>
<polyline points="33.6,431.9 34.7,431.3 35.9,430.4 37.0,429.5 38.1,428.5 39.2,427.4 40.4,426.3 41.5,425.2 42.6,424.0 43.7,422.9 44.9,421.7 49.4,417.0 53.9,412.5 58.4,408.0 62.9,403.8 67.4,399.8 71.9,396.1 76.4,392.7 81.0,389.5 85.5,386.6 90.0,383.9 94.5,381.4 99.0,379.2 103.5,377.2 108.0,375.4 112.5,373.7 117.0,372.3 121.6,370.9 126.1,369.8 130.6,368.7 135.1,367.8 139.6,366.9 144.1,366.2 148.6,365.5 153.1,364.9 157.6,364.4 162.1,363.9 166.7,363.5 171.2,363.2 175.7,362.9 180.2,362.6 184.7,362.3 189.2,362.1 193.7,361.9 198.2,361.8 202.7,361.6 207.3,361.5 211.8,361.4 216.3,361.3 220.8,361.2 225.3,361.2 229.8,361.1 234.3,361.0 238.8,361.0 243.3,361.0 247.8,360.9 252.4,360.9 256.9,360.9 261.4,360.8 265.9,360.8 270.4,360.8 274.9,360.8 279.4,360.8 283.9,360.8 288.4,360.8 292.9,360.8 297.5,360.7 302.0,360.7 306.5,360.7 311.0,360.7 315.5,360.7" stroke="#404040" stroke-width="1.2" fill="none" stroke-linejoin="round"/>
<polyline points="33.6,431.9 34.7,431.2 35.9,430.2 37.0,429.1 38.1,428.0 39.2,426.8 40.4,425.6 41.5,424.4 42.6,423.1 43.7,421.9 44.9,420.6 49.4,415.6 53.9,410.7 58.4,406.0 62.9,401.4 67.4,397.2 71.9,393.2 76.4,389.5 81.0,386.0 85.5,382.8 90.0,379.8 94.5,377.1 99.0,374.7 103.5,372.4 108.0,370.3 112.5,368.4 117.0,366.7 121.6,365.2 126.1,363.8 130.6,362.5 135.1,361.4 139.6,360.3 144.1,359.4 148.6,358.6 153.1,357.8 157.6,357.2 162.1,356.6 166.7,356.0 171.2,355.5 175.7,355.1 180.2,354.7 184.7,354.4 189.2,354.1 193.7,353.8 198.2,353.6 202.7,353.4 207.3,353.2 211.8,353.0 216.3,352.9 220.8,352.8 225.3,352.6 229.8,352.5 234.3,352.4 238.8,352.4 243.3,352.3 247.8,352.2 252.4,352.2 256.9,352.1 261.4,352.1 265.9,352.1 270.4,352.0 274.9,352.0 279.4,352.0 283.9,352.0 288.4,351.9 292.9,351.9 297.5,351.9 302.0,351.9 306.5,351.9 311.0,351.9 315.5,351.9" stroke="#707070" stroke-width="1.2" fill="none" stroke-linejoin="round"/>
<polyline points="33.6,431.9 34.7,431.5 35.9,430.8 37.0,430.0 38.1,429.2 39.2,428.2 40.4,427.3 41.5,426.3 42.6,425.2 43.7,424.2 44.9,423.1 49.4,418.6 53.9,414.0 58.4,409.3 62.9,404.8 67.4,400.3 71.9,396.0 76.4,391.9 81.0,388.0 85.5,384.3 90.0,380.8 94.5,377.5 99.0,374.4 103.5,371.6 108.0,368.9 112.5,366.4 117.0,364.2 121.6,362.1 126.1,360.2 130.6,358.4 135.1,356.8 139.6,355.3 144.1,354.0 148.6,352.8 153.1,351.7 157.6,350.7 162.1,349.8 166.7,349.0 171.2,348.2 175.7,347.6 180.2,347.0 184.7,346.4 189.2,345.9 193.7,345.5 198.2,345.1 202.7,344.8 207.3,344.5 211.8,344.2 216.3,344.0 220.8,343.7 225.3,343.5 229.8,343.4 234.3,343.2 238.8,343.1 243.3,343.0 247.8,342.9 252.4,342.8 256.9,342.7 261.4,342.6 265.9,342.6 270.4,342.5 274.9,342.5 279.4,342.4 283.9,342.4 288.4,342.3 292.9,342.3 297.5,342.3 302.0,342.3 306.5,342.2 311.0,342.2 315.5,342.2" stroke="#a060f0" stroke-width="1.2" fill="none" stroke-linejoin="round"/>
<polyline points="33.6,431.9 34.7,431.7 35.9,431.4 37.0,430.9 38.1,430.4 39.2,429.7 40.4,429.0 41.5,428.3 42.6,427.5 43.7,426.7 44.9,425.8 49.4,422.0 53.9,417.8 58.4,413.3 62.9,408.6 67.4,403.9 71.9,399.1 76.4,394.4 81.0,389.8 85.5,385.3 90.0,381.0 94.5,376.9 99.0,373.0 103.5,369.3 108.0,365.8 112.5,362.5 117.0,359.4 121.6,356.6 126.1,354.0 130.6,351.6 135.1,349.4 139.6,347.4 144.1,345.5 148.6,343.9 153.1,342.4 157.6,341.0 162.1,339.8 166.7,338.7 171.2,337.7 175.7,336.8 180.2,336.1 184.7,335.4 189.2,334.8 193.7,334.2 198.2,333.8 202.7,333.3 207.3,333.0 211.8,332.7 216.3,332.4 220.8,332.1 225.3,331.9 229.8,331.7 234.3,331.6 238.8,331.4 243.3,331.3 247.8,331.2 252.4,331.1 256.9,331.1 261.4,331.0 265.9,330.9 270.4,330.9 274.9,330.9 279.4,330.8 283.9,330.8 288.4,330.8 292.9,330.8 297.5,330.7 302.0,330.7 306.5,330.7 311.0,330.7 315.5,330.7" stroke="#2a6040" stroke-width="1.2" fill="none" stroke-linejoin="round"/>
<polyline points="33.6,431.9 34.7,431.7 35.9,431.3 37.0,430.7 38.1,430.1 39.2,429.4 40.4,428.6 41.5,427.8 42.6,426.9 43.7,426.0 44.9,425.1 49.4,420.9 53.9,416.4 58.4,411.6 62.9,406.6 67.4,401.6 71.9,396.6 76.4,391.6 81.0,386.8 85.5,382.1 90.0,377.5 94.5,373.1 99.0,369.0 103.5,365.0 108.0,361.2 112.5,357.7 117.0,354.4 121.6,351.3 126.1,348.4 130.6,345.8 135.1,343.3 139.6,341.0 144.1,338.9 148.6,337.0 153.1,335.3 157.6,333.7 162.1,332.2 166.7,330.9 171.2,329.7 175.7,328.6 180.2,327.7 184.7,326.8 189.2,326.0 193.7,325.3 198.2,324.7 202.7,324.1 207.3,323.6 211.8,323.2 216.3,322.8 220.8,322.5 225.3,322.2 229.8,321.9 234.3,321.7 238.8,321.5 243.3,321.3 247.8,321.1 252.4,321.0 256.9,320.9 261.4,320.7 265.9,320.7 270.4,320.6 274.9,320.5 279.4,320.4 283.9,320.4 288.4,320.3 292.9,320.3 297.5,320.3 302.0,320.2 306.5,320.2 311.0,320.2 315.5,320.2" stroke="#30c8c8" stroke-width="1.2" fill="none" stroke-linejoin="round"/>
<polyline points="33.6,431.9 34.7,431.6 35.9,431.1 37.0,430.4 38.1,429.7 39.2,428.9 40.4,428.0 41.5,427.1 42.6,426.1 43.7,425.1 44.9,424.1 49.4,419.6 53.9,414.8 58.4,409.8 62.9,404.7 67.4,399.6 71.9,394.5 76.4,389.4 81.0,384.6 85.5,379.8 90.0,375.2 94.5,370.8 99.0,366.6 103.5,362.7 108.0,358.9 112.5,355.3 117.0,352.0 121.6,348.9 126.1,345.9 130.6,343.2 135.1,340.7 139.6,338.3 144.1,336.1 148.6,334.1 153.1,332.3 157.6,330.6 162.1,329.0 166.7,327.6 171.2,326.3 175.7,325.1 180.2,324.0 184.7,323.0 189.2,322.2 193.7,321.3 198.2,320.6 202.7,320.0 207.3,319.4 211.8,318.8 216.3,318.4 220.8,317.9 225.3,317.5 229.8,317.2 234.3,316.9 238.8,316.6 243.3,316.4 247.8,316.1 252.4,316.0 256.9,315.8 261.4,315.6 265.9,315.5 270.4,315.4 274.9,315.3 279.4,315.2 283.9,315.1 288.4,315.0 292.9,315.0 297.5,314.9 302.0,314.8 306.5,314.8 311.0,314.8 315.5,314.7" stroke="#cce6cc" stroke-width="1.2" fill="none" stroke-linejoin="round"/>
<polyline points="33.6,431.9 34.7,431.7 35.9,431.3 37.0,430.8 38.1,430.2 39.2,429.5 40.4,428.7 41.5,427.9 42.6,427.0 43.7,426.1 44.9,425.1 49.4,420.8 53.9,416.0 58.4,410.9 62.9,405.6 67.4,400.1 71.9,394.5 76.4,389.0 81.0,383.5 85.5,378.2 90.0,372.9 94.5,367.9 99.0,363.0 103.5,358.3 108.0,353.8 112.5,349.6 117.0,345.6 121.6,341.9 126.1,338.4 130.6,335.1 135.1,332.0 139.6,329.2 144.1,326.6 148.6,324.1 153.1,321.9 157.6,319.9 162.1,318.0 166.7,316.3 171.2,314.8 175.7,313.4 180.2,312.1 184.7,310.9 189.2,309.9 193.7,309.0 198.2,308.1 202.7,307.4 207.3,306.7 211.8,306.1 216.3,305.6 220.8,305.1 225.3,304.7 229.8,304.3 234.3,304.0 238.8,303.7 243.3,303.4 247.8,303.2 252.4,303.0 256.9,302.8 261.4,302.7 265.9,302.5 270.4,302.4 274.9,302.3 279.4,302.2 283.9,302.2 288.4,302.1 292.9,302.0 297.5,302.0 302.0,302.0 306.5,301.9 311.0,301.9 315.5,301.9" stroke="#c8c840" stroke-width="1.2" fill="none" stroke-linejoin="round"/>
<polyline points="33.6,431.9 34.7,431.7 35.9,431.3 37.0,430.8 38.1,430.1 39.2,429.4 40.4,428.6 41.5,427.7 42.6,426.7 43.7,425.7 44.9,424.7 49.4,420.0 53.9,414.8 58.4,409.1 62.9,403.2 67.4,397.1 71.9,391.0 76.4,384.8 81.0,378.8 85.5,372.8 90.0,367.0 94.5,361.4 99.0,356.0 103.5,350.9 108.0,346.0 112.5,341.4 117.0,337.0 121.6,333.0 126.1,329.2 130.6,325.7 135.1,322.5 139.6,319.5 144.1,316.7 148.6,314.2 153.1,311.9 157.6,309.8 162.1,307.9 166.7,306.2 171.2,304.7 175.7,303.3 180.2,302.0 184.7,300.9 189.2,299.9 193.7,299.0 198.2,298.3 202.7,297.6 207.3,296.9 211.8,296.4 216.3,295.9 220.8,295.5 225.3,295.1 229.8,294.8 234.3,294.5 238.8,294.3 243.3,294.1 247.8,293.9 252.4,293.7 256.9,293.6 261.4,293.5 265.9,293.4 270.4,293.3 274.9,293.2 279.4,293.2 283.9,293.1 288.4,293.1 292.9,293.0 297.5,293.0 302.0,293.0 306.5,292.9 311.0,292.9 315.5,292.9" stroke="#808080" stroke-width="1.2" fill="none" stroke-linejoin="round"/>
<polyline points="33.6,431.9 34.7,431.8 35.9,431.4 37.0,431.0 38.1,430.4 39.2,429.8 40.4,429.0 41.5,428.2 42.6,427.3 43.7,426.4 44.9,425.4 49.4,420.9 53.9,415.6 58.4,409.9 62.9,403.8 67.4,397.5 71.9,391.0 76.4,384.4 81.0,377.9 85.5,371.4 90.0,365.1 94.5,359.0 99.0,353.1 103.5,347.4 108.0,342.1 112.5,337.0 117.0,332.2 121.6,327.8 126.1,323.7 130.6,319.9 135.1,316.3 139.6,313.1 144.1,310.2 148.6,307.5 153.1,305.1 157.6,302.9 162.1,300.9 166.7,299.1 171.2,297.5 175.7,296.1 180.2,294.9 184.7,293.8 189.2,292.8 193.7,292.0 198.2,291.2 202.7,290.6 207.3,290.0 211.8,289.5 216.3,289.1 220.8,288.7 225.3,288.4 229.8,288.2 234.3,287.9 238.8,287.7 243.3,287.6 247.8,287.4 252.4,287.3 256.9,287.2 261.4,287.1 265.9,287.0 270.4,287.0 274.9,286.9 279.4,286.9 283.9,286.8 288.4,286.8 292.9,286.8 297.5,286.8 302.0,286.8 306.5,286.7 311.0,286.7 315.5,286.7" stroke="#eeeeee" stroke-width="1.2" fill="none" stroke-linejoin="round"/>
<polyline points="33.6,431.9 34.7,431.1 35.9,430.0 37.0,428.7 38.1,427.3 39.2,425.8 40.4,424.3 41.5,422.7 42.6,421.1 43.7,419.5 44.9,417.7 49.4,410.6 53.9,403.1 58.4,395.5 62.9,387.7 67.4,379.9 71.9,372.2 76.4,364.6 81.0,357.2 85.5,350.1 90.0,343.3 94.5,336.9 99.0,330.8 103.5,325.2 108.0,320.0 112.5,315.2 117.0,310.8 121.6,306.9 126.1,303.4 130.6,300.3 135.1,297.5 139.6,295.1 144.1,293.0 148.6,291.3 153.1,289.8 157.6,288.5 162.1,287.4 166.7,286.6 171.2,285.9 175.7,285.3 180.2,284.8 184.7,284.5 189.2,284.2 193.7,283.9 198.2,283.8 202.7,283.6 207.3,283.5 211.8,283.5 216.3,283.4 220.8,283.4 225.3,283.3 229.8,283.3 234.3,283.3 238.8,283.3 243.3,283.3 247.8,283.3 252.4,283.3 256.9,283.3 261.4,283.3 265.9,283.3 270.4,283.3 274.9,283.3 279.4,283.3 283.9,283.3 288.4,283.3 292.9,283.3 297.5,283.3 302.0,283.3 306.5,283.3 311.0,283.3 315.5,283.3" stroke="#30a030" stroke-width="1.2" fill="none" stroke-linejoin="round"/>
<polyline points="33.6,431.9 34.7,430.9 35.9,429.5 37.0,427.8 38.1,426.0 39.2,424.0 40.4,421.9 41.5,419.8 42.6,417.6 43.7,415.3 44.9,413.0 49.4,403.3 53.9,393.2 58.4,383.0 62.9,372.9 67.4,363.0 71.9,353.6 76.4,344.6 81.0,336.3 85.5,328.5 90.0,321.5 94.5,315.1 99.0,309.4 103.5,304.4 108.0,300.0 112.5,296.2 117.0,292.9 121.6,290.1 126.1,287.8 130.6,285.9 135.1,284.3 139.6,283.0 144.1,282.0 148.6,281.2 153.1,280.5 157.6,280.0 162.1,279.6 166.7,279.3 171.2,279.1 175.7,278.9 180.2,278.8 184.7,278.7 189.2,278.6 193.7,278.6 198.2,278.5 202.7,278.5 207.3,278.5 211.8,278.5 216.3,278.5 220.8,278.5 225.3,278.4 229.8,278.4 234.3,278.4 238.8,278.4 243.3,278.4 247.8,278.4 252.4,278.4 256.9,278.4 261.4,278.4 265.9,278.4 270.4,278.4 274.9,278.4 279.4,278.4 283.9,278.4 288.4,278.4 292.9,278.4 297.5,278.4 302.0,278.4 306.5,278.4 311.0,278.4 315.5,278.4" stroke="#f04848" stroke-width="1.2" fill="none" stroke-linejoin="round"/>
<polyline points="33.6,431.9 34.7,430.9 35.9,429.3 37.0,427.4 38.1,425.3 39.2,423.0 40.4,420.6 41.5,418.1 42.6,415.4 43.7,412.7 44.9,409.9 49.4,398.1 53.9,386.0 58.4,374.0 62.9,362.3 67.4,351.3 71.9,341.1 76.4,331.7 81.0,323.3 85.5,315.9 90.0,309.5 94.5,303.9 99.0,299.2 103.5,295.3 108.0,292.0 112.5,289.3 117.0,287.2 121.6,285.4 126.1,284.1 130.6,283.0 135.1,282.2 139.6,281.6 144.1,281.1 148.6,280.8 153.1,280.5 157.6,280.3 162.1,280.2 166.7,280.1 171.2,280.0 175.7,280.0 180.2,279.9 184.7,279.9 189.2,279.9 193.7,279.9 198.2,279.9 202.7,279.9 207.3,279.9 211.8,279.9 216.3,279.9 220.8,279.9 225.3,279.9 229.8,279.9 234.3,279.9 238.8,279.9 243.3,279.9 247.8,279.9 252.4,279.9 256.9,279.9 261.4,279.9 265.9,279.9 270.4,279.9 274.9,279.9 279.4,279.9 283.9,279.9 288.4,279.9 292.9,279.9 297.5,279.9 302.0,279.9 306.5,279.9 311.0,279.9 315.5,279.9" stroke="#30c8c8" stroke-width="1.2" fill="none" stroke-linejoin="round"/>
<polyline points="33.6,431.9 34.7,430.8 35.9,429.0 37.0,426.9 38.1,424.5 39.2,421.9 40.4,419.2 41.5,416.3 42.6,413.3 43.7,410.2 44.9,407.1 49.4,394.0 53.9,380.6 58.4,367.5 62.9,355.1 67.4,343.6 71.9,333.2 76.4,324.0 81.0,315.9 85.5,309.0 90.0,303.2 94.5,298.4 99.0,294.5 103.5,291.3 108.0,288.8 112.5,286.9 117.0,285.4 121.6,284.2 126.1,283.3 130.6,282.7 135.1,282.3 139.6,281.9 144.1,281.7 148.6,281.5 153.1,281.4 157.6,281.3 162.1,281.3 166.7,281.2 171.2,281.2 175.7,281.2 180.2,281.2 184.7,281.2 189.2,281.2 193.7,281.2 198.2,281.2 202.7,281.2 207.3,281.2 211.8,281.2 216.3,281.2 220.8,281.2 225.3,281.2 229.8,281.2 234.3,281.2 238.8,281.2 243.3,281.2 247.8,281.2 252.4,281.2 256.9,281.2 261.4,281.2 265.9,281.2 270.4,281.2 274.9,281.2 279.4,281.2 283.9,281.2 288.4,281.2 292.9,281.2 297.5,281.2 302.0,281.2 306.5,281.2 311.0,281.2 315.5,281.2" stroke="#c040d0" stroke-width="1.2" fill="none" stroke-linejoin="round"/>
<polyline points="33.6,431.9 34.7,430.3 35.9,427.9 37.0,425.2 38.1,422.3 39.2,419.2 40.4,415.9 41.5,412.6 42.6,409.1 43.7,405.6 44.9,402.0 49.4,387.4 53.9,373.0 58.4,359.1 62.9,346.2 67.4,334.5 71.9,324.3 76.4,315.5 81.0,308.1 85.5,302.1 90.0,297.2 94.5,293.4 99.0,290.5 103.5,288.3 108.0,286.7 112.5,285.6 117.0,284.8 121.6,284.2 126.1,283.9 130.6,283.6 135.1,283.5 139.6,283.4 144.1,283.3 148.6,283.3 153.1,283.3 157.6,283.3 162.1,283.2 166.7,283.2 171.2,283.2 175.7,283.2 180.2,283.2 184.7,283.2 189.2,283.2 193.7,283.2 198.2,283.2 202.7,283.2 207.3,283.2 211.8,283.2 216.3,283.2 220.8,283.2 225.3,283.2 229.8,283.2 234.3,283.2 238.8,283.2 243.3,283.2 247.8,283.2 252.4,283.2 256.9,283.2 261.4,283.2 265.9,283.2 270.4,283.2 274.9,283.2 279.4,283.2 283.9,283.2 288.4,283.2 292.9,283.2 297.5,283.2 302.0,283.2 306.5,283.2 311.0,283.2 315.5,283.2" stroke="#d0d060" stroke-width="1.2" fill="none" stroke-linejoin="round"/>
<rect x="33.6" y="258.3" width="281.9" height="178.1" fill="none" stroke="#707070" stroke-width="1.1"/>
<line x1="33.7" y1="372.7" x2="33.7" y2="434" stroke="#d8d870" stroke-width="1.2"/>
<line x1="33.6" y1="258.3" x2="315.5" y2="258.3" stroke="#222" stroke-width="1.1" stroke-dasharray="2,1.2"/>
<text x="31.5" y="438.85" font-family='"Liberation Sans", sans-serif' font-size="6.8" text-anchor="end" fill="#333" textLength="6.6" lengthAdjust="spacingAndGlyphs">20</text>
<text x="31.5" y="416.59" font-family='"Liberation Sans", sans-serif' font-size="6.8" text-anchor="end" fill="#333" textLength="6.6" lengthAdjust="spacingAndGlyphs">40</text>
<text x="31.5" y="394.32" font-family='"Liberation Sans", sans-serif' font-size="6.8" text-anchor="end" fill="#333" textLength="6.6" lengthAdjust="spacingAndGlyphs">60</text>
<text x="31.5" y="372.06" font-family='"Liberation Sans", sans-serif' font-size="6.8" text-anchor="end" fill="#333" textLength="6.6" lengthAdjust="spacingAndGlyphs">80</text>
<text x="31.5" y="349.8" font-family='"Liberation Sans", sans-serif' font-size="6.8" text-anchor="end" fill="#333" textLength="9.9" lengthAdjust="spacingAndGlyphs">100</text>
<text x="31.5" y="327.54" font-family='"Liberation Sans", sans-serif' font-size="6.8" text-anchor="end" fill="#333" textLength="9.9" lengthAdjust="spacingAndGlyphs">120</text>
<text x="31.5" y="305.27" font-family='"Liberation Sans", sans-serif' font-size="6.8" text-anchor="end" fill="#333" textLength="9.9" lengthAdjust="spacingAndGlyphs">140</text>
<text x="31.5" y="283.01" font-family='"Liberation Sans", sans-serif' font-size="6.8" text-anchor="end" fill="#333" textLength="9.9" lengthAdjust="spacingAndGlyphs">160</text>
<text x="31.5" y="260.75" font-family='"Liberation Sans", sans-serif' font-size="6.8" text-anchor="end" fill="#333" textLength="9.9" lengthAdjust="spacingAndGlyphs">180</text>
<text x="33.6" y="444.15" font-family='"Liberation Sans", sans-serif' font-size="6.8" text-anchor="middle" fill="#333" textLength="3.3" lengthAdjust="spacingAndGlyphs">0</text>
<text x="89.98" y="444.15" font-family='"Liberation Sans", sans-serif' font-size="6.8" text-anchor="middle" fill="#333" textLength="3.3" lengthAdjust="spacingAndGlyphs">5</text>
<text x="146.36" y="444.15" font-family='"Liberation Sans", sans-serif' font-size="6.8" text-anchor="middle" fill="#333" textLength="6.6" lengthAdjust="spacingAndGlyphs">10</text>
<text x="202.74" y="444.15" font-family='"Liberation Sans", sans-serif' font-size="6.8" text-anchor="middle" fill="#333" textLength="6.6" lengthAdjust="spacingAndGlyphs">15</text>
<text x="259.12" y="444.15" font-family='"Liberation Sans", sans-serif' font-size="6.8" text-anchor="middle" fill="#333" textLength="6.6" lengthAdjust="spacingAndGlyphs">20</text>
<text x="315.5" y="444.15" font-family='"Liberation Sans", sans-serif' font-size="6.8" text-anchor="middle" fill="#333" textLength="6.6" lengthAdjust="spacingAndGlyphs">25</text>
<rect x="237.2" y="260.3" width="62.7" height="175.4" fill="#fff" stroke="#555" stroke-width="0.9"/>
<line x1="241.2" y1="265.2" x2="260.9" y2="265.2" stroke="#1a1aff" stroke-width="1"/>
<text x="262.8" y="267.65" font-family='"Liberation Sans", sans-serif' font-size="6.8" text-anchor="start" fill="#222" textLength="34.2" lengthAdjust="spacingAndGlyphs">T = 14.55°C</text>
<line x1="241.2" y1="273.88" x2="260.9" y2="273.88" stroke="#2a9a2a" stroke-width="1"/>
<text x="262.8" y="276.33" font-family='"Liberation Sans", sans-serif' font-size="6.8" text-anchor="start" fill="#222" textLength="34.2" lengthAdjust="spacingAndGlyphs">T = 15.62°C</text>
<line x1="241.2" y1="282.56" x2="260.9" y2="282.56" stroke="#f0a060" stroke-width="1"/>
<text x="262.8" y="285.01" font-family='"Liberation Sans", sans-serif' font-size="6.8" text-anchor="start" fill="#222" textLength="34.2" lengthAdjust="spacingAndGlyphs">T = 16.62°C</text>
<line x1="241.2" y1="291.24" x2="260.9" y2="291.24" stroke="#20c0c8" stroke-width="1"/>
<text x="262.8" y="293.69" font-family='"Liberation Sans", sans-serif' font-size="6.8" text-anchor="start" fill="#222" textLength="34.2" lengthAdjust="spacingAndGlyphs">T = 17.57°C</text>
<line x1="241.2" y1="299.92" x2="260.9" y2="299.92" stroke="#d040d8" stroke-width="1"/>
<text x="262.8" y="302.37" font-family='"Liberation Sans", sans-serif' font-size="6.8" text-anchor="start" fill="#222" textLength="34.2" lengthAdjust="spacingAndGlyphs">T = 18.53°C</text>
<line x1="241.2" y1="308.6" x2="260.9" y2="308.6" stroke="#d0d060" stroke-width="1"/>
<text x="262.8" y="311.05" font-family='"Liberation Sans", sans-serif' font-size="6.8" text-anchor="start" fill="#222" textLength="34.2" lengthAdjust="spacingAndGlyphs">T = 19.42°C</text>
<line x1="241.2" y1="317.28" x2="260.9" y2="317.28" stroke="#404040" stroke-width="1"/>
<text x="262.8" y="319.73" font-family='"Liberation Sans", sans-serif' font-size="6.8" text-anchor="start" fill="#222" textLength="34.2" lengthAdjust="spacingAndGlyphs">T = 20.60°C</text>
<line x1="241.2" y1="325.96" x2="260.9" y2="325.96" stroke="#707070" stroke-width="1"/>
<text x="262.8" y="328.41" font-family='"Liberation Sans", sans-serif' font-size="6.8" text-anchor="start" fill="#222" textLength="34.2" lengthAdjust="spacingAndGlyphs">T = 21.52°C</text>
<line x1="241.2" y1="334.64" x2="260.9" y2="334.64" stroke="#a060f0" stroke-width="1"/>
<text x="262.8" y="337.09" font-family='"Liberation Sans", sans-serif' font-size="6.8" text-anchor="start" fill="#222" textLength="34.2" lengthAdjust="spacingAndGlyphs">T = 22.50°C</text>
<line x1="241.2" y1="343.32" x2="260.9" y2="343.32" stroke="#2a6040" stroke-width="1"/>
<text x="262.8" y="345.77" font-family='"Liberation Sans", sans-serif' font-size="6.8" text-anchor="start" fill="#222" textLength="34.2" lengthAdjust="spacingAndGlyphs">T = 23.65°C</text>
<line x1="241.2" y1="352" x2="260.9" y2="352" stroke="#30c8c8" stroke-width="1"/>
<text x="262.8" y="354.45" font-family='"Liberation Sans", sans-serif' font-size="6.8" text-anchor="start" fill="#222" textLength="34.2" lengthAdjust="spacingAndGlyphs">T = 24.72°C</text>
<line x1="241.2" y1="360.68" x2="260.9" y2="360.68" stroke="#cce6cc" stroke-width="1"/>
<text x="262.8" y="363.13" font-family='"Liberation Sans", sans-serif' font-size="6.8" text-anchor="start" fill="#222" textLength="34.2" lengthAdjust="spacingAndGlyphs">T = 25.30°C</text>
<line x1="241.2" y1="369.36" x2="260.9" y2="369.36" stroke="#c8c840" stroke-width="1"/>
<text x="262.8" y="371.81" font-family='"Liberation Sans", sans-serif' font-size="6.8" text-anchor="start" fill="#222" textLength="34.2" lengthAdjust="spacingAndGlyphs">T = 26.62°C</text>
<line x1="241.2" y1="378.04" x2="260.9" y2="378.04" stroke="#808080" stroke-width="1"/>
<text x="262.8" y="380.49" font-family='"Liberation Sans", sans-serif' font-size="6.8" text-anchor="start" fill="#222" textLength="34.2" lengthAdjust="spacingAndGlyphs">T = 27.55°C</text>
<line x1="241.2" y1="386.72" x2="260.9" y2="386.72" stroke="#eeeeee" stroke-width="1"/>
<text x="262.8" y="389.17" font-family='"Liberation Sans", sans-serif' font-size="6.8" text-anchor="start" fill="#222" textLength="34.2" lengthAdjust="spacingAndGlyphs">T = 28.37°C</text>
<line x1="241.2" y1="395.4" x2="260.9" y2="395.4" stroke="#30a030" stroke-width="1"/>
<text x="262.8" y="397.85" font-family='"Liberation Sans", sans-serif' font-size="6.8" text-anchor="start" fill="#222" textLength="34.2" lengthAdjust="spacingAndGlyphs">T = 29.65°C</text>
<line x1="241.2" y1="404.08" x2="260.9" y2="404.08" stroke="#f04848" stroke-width="1"/>
<text x="262.8" y="406.53" font-family='"Liberation Sans", sans-serif' font-size="6.8" text-anchor="start" fill="#222" textLength="34.2" lengthAdjust="spacingAndGlyphs">T = 31.55°C</text>
<line x1="241.2" y1="412.76" x2="260.9" y2="412.76" stroke="#30c8c8" stroke-width="1"/>
<text x="262.8" y="415.21" font-family='"Liberation Sans", sans-serif' font-size="6.8" text-anchor="start" fill="#222" textLength="34.2" lengthAdjust="spacingAndGlyphs">T = 32.57°C</text>
<line x1="241.2" y1="421.44" x2="260.9" y2="421.44" stroke="#c040d0" stroke-width="1"/>
<text x="262.8" y="423.89" font-family='"Liberation Sans", sans-serif' font-size="6.8" text-anchor="start" fill="#222" textLength="34.2" lengthAdjust="spacingAndGlyphs">T = 33.36°C</text>
<line x1="241.2" y1="430.12" x2="260.9" y2="430.12" stroke="#d0d060" stroke-width="1"/>
<text x="262.8" y="432.57" font-family='"Liberation Sans", sans-serif' font-size="6.8" text-anchor="start" fill="#222" textLength="34.2" lengthAdjust="spacingAndGlyphs">T = 34.35°C</text>
<text x="174" y="249.9" font-family='"Liberation Serif", serif' font-size="8.8" font-weight="normal" text-anchor="middle" fill="#222" textLength="137.2" lengthAdjust="spacingAndGlyphs">L<tspan font-size="6.34" dy="3.34">2</tspan><tspan dy="-3.34">(t) vs Time for Different Temperatures</tspan></text>
<text x="173.8" y="453" font-family='"Liberation Serif", serif' font-size="8.2" text-anchor="middle" fill="#222" textLength="39.4" lengthAdjust="spacingAndGlyphs">Time (days)</text>
<text transform="translate(16.4,344.7) rotate(-90)" font-family='"Liberation Serif", serif' font-size="7.8" text-anchor="middle" fill="#333" textLength="138" lengthAdjust="spacingAndGlyphs">Cummulative Number of larval Stage Two</text>
<text x="0.5" y="458.2" font-family='"Liberation Serif", serif' font-size="23.4" text-anchor="start" fill="#000">B.</text>
<path d="M99.18 487.8V659.1M153.06 487.8V659.1M206.94 487.8V659.1M260.82 487.8V659.1M45.3 637.69H314.7M45.3 616.27H314.7M45.3 594.86H314.7M45.3 573.45H314.7M45.3 552.04H314.7M45.3 530.62H314.7M45.3 509.21H314.7" stroke="#333" stroke-width="0.8" stroke-dasharray="2.5,1.5" fill="none"/>
<polyline points="45.3,652.7 46.4,652.6 47.5,652.6 48.5,652.6 49.6,652.5 50.7,652.5 51.8,652.4 52.8,652.3 53.9,652.3 55.0,652.2 56.1,652.2 60.4,651.9 64.7,651.7 69.0,651.5 73.3,651.3 77.6,651.2 81.9,651.0 86.2,650.9 90.6,650.8 94.9,650.7 99.2,650.7 103.5,650.6 107.8,650.5 112.1,650.5 116.4,650.5 120.7,650.4 125.0,650.4 129.4,650.4 133.7,650.4 138.0,650.4 142.3,650.4 146.6,650.3 150.9,650.3 155.2,650.3 159.5,650.3 163.8,650.3 168.1,650.3 172.5,650.3 176.8,650.3 181.1,650.3 185.4,650.3 189.7,650.3 194.0,650.3 198.3,650.3 202.6,650.3 206.9,650.3 211.3,650.3 215.6,650.3 219.9,650.3 224.2,650.3 228.5,650.3 232.8,650.3 237.1,650.3 241.4,650.3 245.7,650.3 250.0,650.3 254.4,650.3 258.7,650.3 263.0,650.3 267.3,650.3 271.6,650.3 275.9,650.3 280.2,650.3 284.5,650.3 288.8,650.3 293.1,650.3 297.5,650.3 301.8,650.3 306.1,650.3 310.4,650.3 314.7,650.3" stroke="#1a1aff" stroke-width="1.2" fill="none" stroke-linejoin="round"/>
<polyline points="45.3,652.7 46.4,652.6 47.5,652.6 48.5,652.5 49.6,652.4 50.7,652.4 51.8,652.3 52.8,652.2 53.9,652.1 55.0,652.0 56.1,651.9 60.4,651.5 64.7,651.0 69.0,650.6 73.3,650.3 77.6,649.9 81.9,649.6 86.2,649.4 90.6,649.1 94.9,648.9 99.2,648.8 103.5,648.6 107.8,648.5 112.1,648.4 116.4,648.3 120.7,648.2 125.0,648.2 129.4,648.1 133.7,648.1 138.0,648.1 142.3,648.0 146.6,648.0 150.9,648.0 155.2,648.0 159.5,648.0 163.8,648.0 168.1,648.0 172.5,648.0 176.8,648.0 181.1,648.0 185.4,648.0 189.7,648.0 194.0,648.0 198.3,648.0 202.6,648.0 206.9,648.0 211.3,648.0 215.6,648.0 219.9,648.0 224.2,648.0 228.5,648.0 232.8,648.0 237.1,648.0 241.4,648.0 245.7,648.0 250.0,648.0 254.4,648.0 258.7,648.0 263.0,648.0 267.3,648.0 271.6,648.0 275.9,648.0 280.2,648.0 284.5,648.0 288.8,648.0 293.1,648.0 297.5,648.0 301.8,648.0 306.1,648.0 310.4,648.0 314.7,648.0" stroke="#2a9a2a" stroke-width="1.2" fill="none" stroke-linejoin="round"/>
<polyline points="45.3,652.7 46.4,652.6 47.5,652.6 48.5,652.5 49.6,652.5 50.7,652.4 51.8,652.3 52.8,652.2 53.9,652.1 55.0,651.9 56.1,651.8 60.4,651.3 64.7,650.8 69.0,650.3 73.3,649.8 77.6,649.4 81.9,648.9 86.2,648.6 90.6,648.2 94.9,647.9 99.2,647.7 103.5,647.5 107.8,647.3 112.1,647.1 116.4,647.0 120.7,646.9 125.0,646.8 129.4,646.7 133.7,646.7 138.0,646.6 142.3,646.6 146.6,646.6 150.9,646.5 155.2,646.5 159.5,646.5 163.8,646.5 168.1,646.5 172.5,646.5 176.8,646.5 181.1,646.5 185.4,646.5 189.7,646.5 194.0,646.5 198.3,646.5 202.6,646.5 206.9,646.5 211.3,646.5 215.6,646.5 219.9,646.5 224.2,646.5 228.5,646.5 232.8,646.5 237.1,646.5 241.4,646.5 245.7,646.5 250.0,646.5 254.4,646.5 258.7,646.5 263.0,646.5 267.3,646.5 271.6,646.5 275.9,646.5 280.2,646.5 284.5,646.5 288.8,646.5 293.1,646.5 297.5,646.5 301.8,646.5 306.1,646.5 310.4,646.5 314.7,646.5" stroke="#40c8d0" stroke-width="1.2" fill="none" stroke-linejoin="round"/>
<polyline points="45.3,652.7 46.4,652.6 47.5,652.6 48.5,652.5 49.6,652.4 50.7,652.3 51.8,652.2 52.8,652.1 53.9,652.0 55.0,651.9 56.1,651.7 60.4,651.2 64.7,650.6 69.0,650.0 73.3,649.4 77.6,648.8 81.9,648.3 86.2,647.8 90.6,647.3 94.9,646.9 99.2,646.6 103.5,646.2 107.8,646.0 112.1,645.7 116.4,645.5 120.7,645.3 125.0,645.2 129.4,645.1 133.7,645.0 138.0,644.9 142.3,644.8 146.6,644.8 150.9,644.7 155.2,644.7 159.5,644.6 163.8,644.6 168.1,644.6 172.5,644.6 176.8,644.6 181.1,644.6 185.4,644.6 189.7,644.6 194.0,644.6 198.3,644.5 202.6,644.5 206.9,644.5 211.3,644.5 215.6,644.5 219.9,644.5 224.2,644.5 228.5,644.5 232.8,644.5 237.1,644.5 241.4,644.5 245.7,644.5 250.0,644.5 254.4,644.5 258.7,644.5 263.0,644.5 267.3,644.5 271.6,644.5 275.9,644.5 280.2,644.5 284.5,644.5 288.8,644.5 293.1,644.5 297.5,644.5 301.8,644.5 306.1,644.5 310.4,644.5 314.7,644.5" stroke="#60b060" stroke-width="1.2" fill="none" stroke-linejoin="round"/>
<polyline points="45.3,652.7 46.4,652.7 47.5,652.6 48.5,652.5 49.6,652.5 50.7,652.4 51.8,652.3 52.8,652.1 53.9,652.0 55.0,651.9 56.1,651.8 60.4,651.2 64.7,650.5 69.0,649.8 73.3,649.1 77.6,648.4 81.9,647.7 86.2,647.1 90.6,646.5 94.9,645.9 99.2,645.4 103.5,645.0 107.8,644.6 112.1,644.2 116.4,643.9 120.7,643.7 125.0,643.4 129.4,643.2 133.7,643.1 138.0,643.0 142.3,642.8 146.6,642.8 150.9,642.7 155.2,642.6 159.5,642.6 163.8,642.5 168.1,642.5 172.5,642.5 176.8,642.5 181.1,642.4 185.4,642.4 189.7,642.4 194.0,642.4 198.3,642.4 202.6,642.4 206.9,642.4 211.3,642.4 215.6,642.4 219.9,642.4 224.2,642.4 228.5,642.4 232.8,642.4 237.1,642.4 241.4,642.4 245.7,642.4 250.0,642.4 254.4,642.4 258.7,642.4 263.0,642.4 267.3,642.4 271.6,642.4 275.9,642.4 280.2,642.4 284.5,642.4 288.8,642.4 293.1,642.4 297.5,642.4 301.8,642.4 306.1,642.4 310.4,642.4 314.7,642.4" stroke="#e070e0" stroke-width="1.2" fill="none" stroke-linejoin="round"/>
<polyline points="45.3,652.7 46.4,652.7 47.5,652.6 48.5,652.5 49.6,652.5 50.7,652.4 51.8,652.3 52.8,652.1 53.9,652.0 55.0,651.9 56.1,651.7 60.4,651.1 64.7,650.4 69.0,649.7 73.3,648.9 77.6,648.2 81.9,647.4 86.2,646.7 90.6,646.0 94.9,645.4 99.2,644.8 103.5,644.3 107.8,643.8 112.1,643.3 116.4,643.0 120.7,642.6 125.0,642.3 129.4,642.0 133.7,641.8 138.0,641.6 142.3,641.5 146.6,641.3 150.9,641.2 155.2,641.1 159.5,641.0 163.8,641.0 168.1,640.9 172.5,640.9 176.8,640.8 181.1,640.8 185.4,640.8 189.7,640.8 194.0,640.7 198.3,640.7 202.6,640.7 206.9,640.7 211.3,640.7 215.6,640.7 219.9,640.7 224.2,640.7 228.5,640.7 232.8,640.7 237.1,640.7 241.4,640.7 245.7,640.7 250.0,640.7 254.4,640.7 258.7,640.7 263.0,640.7 267.3,640.7 271.6,640.7 275.9,640.7 280.2,640.7 284.5,640.7 288.8,640.7 293.1,640.7 297.5,640.7 301.8,640.7 306.1,640.7 310.4,640.7 314.7,640.7" stroke="#d8d860" stroke-width="1.2" fill="none" stroke-linejoin="round"/>
<polyline points="45.3,652.7 46.4,652.7 47.5,652.6 48.5,652.6 49.6,652.5 50.7,652.4 51.8,652.3 52.8,652.2 53.9,652.1 55.0,652.0 56.1,651.9 60.4,651.3 64.7,650.6 69.0,649.9 73.3,649.1 77.6,648.3 81.9,647.5 86.2,646.7 90.6,645.9 94.9,645.2 99.2,644.5 103.5,643.8 107.8,643.2 112.1,642.7 116.4,642.2 120.7,641.8 125.0,641.4 129.4,641.0 133.7,640.7 138.0,640.5 142.3,640.2 146.6,640.1 150.9,639.9 155.2,639.8 159.5,639.7 163.8,639.6 168.1,639.5 172.5,639.4 176.8,639.4 181.1,639.3 185.4,639.3 189.7,639.3 194.0,639.3 198.3,639.2 202.6,639.2 206.9,639.2 211.3,639.2 215.6,639.2 219.9,639.2 224.2,639.2 228.5,639.2 232.8,639.2 237.1,639.2 241.4,639.2 245.7,639.2 250.0,639.2 254.4,639.2 258.7,639.2 263.0,639.2 267.3,639.2 271.6,639.2 275.9,639.2 280.2,639.2 284.5,639.2 288.8,639.2 293.1,639.2 297.5,639.2 301.8,639.2 306.1,639.2 310.4,639.2 314.7,639.2" stroke="#505050" stroke-width="1.2" fill="none" stroke-linejoin="round"/>
<polyline points="45.3,652.7 46.4,652.7 47.5,652.6 48.5,652.6 49.6,652.5 50.7,652.4 51.8,652.3 52.8,652.2 53.9,652.1 55.0,652.0 56.1,651.9 60.4,651.2 64.7,650.5 69.0,649.7 73.3,648.9 77.6,648.0 81.9,647.2 86.2,646.3 90.6,645.4 94.9,644.6 99.2,643.8 103.5,643.0 107.8,642.3 112.1,641.7 116.4,641.1 120.7,640.5 125.0,640.0 129.4,639.6 133.7,639.2 138.0,638.8 142.3,638.5 146.6,638.3 150.9,638.0 155.2,637.8 159.5,637.7 163.8,637.5 168.1,637.4 172.5,637.3 176.8,637.2 181.1,637.1 185.4,637.1 189.7,637.0 194.0,637.0 198.3,637.0 202.6,636.9 206.9,636.9 211.3,636.9 215.6,636.9 219.9,636.9 224.2,636.9 228.5,636.9 232.8,636.8 237.1,636.8 241.4,636.8 245.7,636.8 250.0,636.8 254.4,636.8 258.7,636.8 263.0,636.8 267.3,636.8 271.6,636.8 275.9,636.8 280.2,636.8 284.5,636.8 288.8,636.8 293.1,636.8 297.5,636.8 301.8,636.8 306.1,636.8 310.4,636.8 314.7,636.8" stroke="#3030f0" stroke-width="1.2" fill="none" stroke-linejoin="round"/>
<polyline points="45.3,652.7 46.4,652.7 47.5,652.6 48.5,652.6 49.6,652.5 50.7,652.5 51.8,652.4 52.8,652.3 53.9,652.2 55.0,652.1 56.1,652.0 60.4,651.4 64.7,650.8 69.0,650.0 73.3,649.2 77.6,648.3 81.9,647.4 86.2,646.4 90.6,645.5 94.9,644.6 99.2,643.7 103.5,642.8 107.8,642.0 112.1,641.2 116.4,640.5 120.7,639.8 125.0,639.2 129.4,638.7 133.7,638.2 138.0,637.7 142.3,637.3 146.6,637.0 150.9,636.7 155.2,636.4 159.5,636.2 163.8,636.0 168.1,635.9 172.5,635.7 176.8,635.6 181.1,635.5 185.4,635.4 189.7,635.4 194.0,635.3 198.3,635.3 202.6,635.2 206.9,635.2 211.3,635.2 215.6,635.2 219.9,635.2 224.2,635.2 228.5,635.1 232.8,635.1 237.1,635.1 241.4,635.1 245.7,635.1 250.0,635.1 254.4,635.1 258.7,635.1 263.0,635.1 267.3,635.1 271.6,635.1 275.9,635.1 280.2,635.1 284.5,635.1 288.8,635.1 293.1,635.1 297.5,635.1 301.8,635.1 306.1,635.1 310.4,635.1 314.7,635.1" stroke="#30a030" stroke-width="1.2" fill="none" stroke-linejoin="round"/>
<polyline points="45.3,652.7 46.4,652.7 47.5,652.6 48.5,652.6 49.6,652.5 50.7,652.5 51.8,652.4 52.8,652.3 53.9,652.2 55.0,652.1 56.1,652.0 60.4,651.4 64.7,650.8 69.0,650.0 73.3,649.1 77.6,648.2 81.9,647.3 86.2,646.3 90.6,645.3 94.9,644.3 99.2,643.4 103.5,642.4 107.8,641.5 112.1,640.7 116.4,639.9 120.7,639.2 125.0,638.5 129.4,637.8 133.7,637.3 138.0,636.8 142.3,636.3 146.6,635.9 150.9,635.5 155.2,635.2 159.5,634.9 163.8,634.7 168.1,634.5 172.5,634.3 176.8,634.1 181.1,634.0 185.4,633.9 189.7,633.8 194.0,633.7 198.3,633.7 202.6,633.6 206.9,633.6 211.3,633.5 215.6,633.5 219.9,633.5 224.2,633.5 228.5,633.5 232.8,633.4 237.1,633.4 241.4,633.4 245.7,633.4 250.0,633.4 254.4,633.4 258.7,633.4 263.0,633.4 267.3,633.4 271.6,633.4 275.9,633.4 280.2,633.4 284.5,633.4 288.8,633.4 293.1,633.4 297.5,633.4 301.8,633.4 306.1,633.4 310.4,633.4 314.7,633.4" stroke="#ffb0d0" stroke-width="1.2" fill="none" stroke-linejoin="round"/>
<polyline points="45.3,652.7 46.4,652.7 47.5,652.6 48.5,652.6 49.6,652.5 50.7,652.5 51.8,652.4 52.8,652.3 53.9,652.2 55.0,652.1 56.1,652.0 60.4,651.4 64.7,650.7 69.0,649.9 73.3,649.0 77.6,648.1 81.9,647.1 86.2,646.0 90.6,645.0 94.9,644.0 99.2,642.9 103.5,641.9 107.8,641.0 112.1,640.1 116.4,639.2 120.7,638.4 125.0,637.6 129.4,636.9 133.7,636.3 138.0,635.7 142.3,635.2 146.6,634.7 150.9,634.3 155.2,633.9 159.5,633.6 163.8,633.3 168.1,633.0 172.5,632.8 176.8,632.6 181.1,632.5 185.4,632.3 189.7,632.2 194.0,632.1 198.3,632.0 202.6,632.0 206.9,631.9 211.3,631.9 215.6,631.8 219.9,631.8 224.2,631.8 228.5,631.8 232.8,631.8 237.1,631.7 241.4,631.7 245.7,631.7 250.0,631.7 254.4,631.7 258.7,631.7 263.0,631.7 267.3,631.7 271.6,631.7 275.9,631.7 280.2,631.7 284.5,631.7 288.8,631.7 293.1,631.7 297.5,631.7 301.8,631.7 306.1,631.7 310.4,631.7 314.7,631.7" stroke="#4050a0" stroke-width="1.2" fill="none" stroke-linejoin="round"/>
<polyline points="45.3,652.7 46.4,652.7 47.5,652.6 48.5,652.6 49.6,652.5 50.7,652.5 51.8,652.4 52.8,652.3 53.9,652.2 55.0,652.1 56.1,652.0 60.4,651.4 64.7,650.7 69.0,649.9 73.3,649.1 77.6,648.1 81.9,647.1 86.2,646.1 90.6,645.0 94.9,644.0 99.2,642.9 103.5,641.9 107.8,640.9 112.1,640.0 116.4,639.0 120.7,638.2 125.0,637.4 129.4,636.6 133.7,635.9 138.0,635.2 142.3,634.7 146.6,634.1 150.9,633.6 155.2,633.2 159.5,632.8 163.8,632.5 168.1,632.2 172.5,631.9 176.8,631.7 181.1,631.5 185.4,631.3 189.7,631.2 194.0,631.0 198.3,630.9 202.6,630.8 206.9,630.8 211.3,630.7 215.6,630.6 219.9,630.6 224.2,630.6 228.5,630.5 232.8,630.5 237.1,630.5 241.4,630.5 245.7,630.5 250.0,630.4 254.4,630.4 258.7,630.4 263.0,630.4 267.3,630.4 271.6,630.4 275.9,630.4 280.2,630.4 284.5,630.4 288.8,630.4 293.1,630.4 297.5,630.4 301.8,630.4 306.1,630.4 310.4,630.4 314.7,630.4" stroke="#b030d0" stroke-width="1.2" fill="none" stroke-linejoin="round"/>
<polyline points="45.3,652.7 46.4,652.7 47.5,652.6 48.5,652.6 49.6,652.5 50.7,652.5 51.8,652.4 52.8,652.3 53.9,652.2 55.0,652.1 56.1,651.9 60.4,651.4 64.7,650.6 69.0,649.8 73.3,648.9 77.6,647.9 81.9,646.8 86.2,645.7 90.6,644.6 94.9,643.4 99.2,642.3 103.5,641.2 107.8,640.1 112.1,639.1 116.4,638.1 120.7,637.1 125.0,636.2 129.4,635.4 133.7,634.6 138.0,633.8 142.3,633.2 146.6,632.6 150.9,632.0 155.2,631.5 159.5,631.0 163.8,630.6 168.1,630.3 172.5,630.0 176.8,629.7 181.1,629.4 185.4,629.2 189.7,629.0 194.0,628.9 198.3,628.7 202.6,628.6 206.9,628.5 211.3,628.4 215.6,628.4 219.9,628.3 224.2,628.3 228.5,628.2 232.8,628.2 237.1,628.2 241.4,628.1 245.7,628.1 250.0,628.1 254.4,628.1 258.7,628.1 263.0,628.1 267.3,628.1 271.6,628.1 275.9,628.1 280.2,628.1 284.5,628.1 288.8,628.1 293.1,628.1 297.5,628.1 301.8,628.1 306.1,628.1 310.4,628.1 314.7,628.1" stroke="#d8ecd8" stroke-width="1.2" fill="none" stroke-linejoin="round"/>
<polyline points="45.3,652.7 46.4,652.7 47.5,652.6 48.5,652.6 49.6,652.5 50.7,652.4 51.8,652.4 52.8,652.3 53.9,652.1 55.0,652.0 56.1,651.9 60.4,651.2 64.7,650.4 69.0,649.5 73.3,648.5 77.6,647.4 81.9,646.3 86.2,645.1 90.6,643.9 94.9,642.6 99.2,641.4 103.5,640.3 107.8,639.1 112.1,638.0 116.4,636.9 120.7,635.9 125.0,635.0 129.4,634.1 133.7,633.3 138.0,632.6 142.3,631.9 146.6,631.3 150.9,630.7 155.2,630.2 159.5,629.8 163.8,629.4 168.1,629.0 172.5,628.7 176.8,628.4 181.1,628.2 185.4,628.0 189.7,627.8 194.0,627.7 198.3,627.6 202.6,627.5 206.9,627.4 211.3,627.3 215.6,627.2 219.9,627.2 224.2,627.2 228.5,627.1 232.8,627.1 237.1,627.1 241.4,627.1 245.7,627.0 250.0,627.0 254.4,627.0 258.7,627.0 263.0,627.0 267.3,627.0 271.6,627.0 275.9,627.0 280.2,627.0 284.5,627.0 288.8,627.0 293.1,627.0 297.5,627.0 301.8,627.0 306.1,627.0 310.4,627.0 314.7,627.0" stroke="#808080" stroke-width="1.2" fill="none" stroke-linejoin="round"/>
<polyline points="45.3,652.7 46.4,652.7 47.5,652.6 48.5,652.6 49.6,652.5 50.7,652.4 51.8,652.2 52.8,652.1 53.9,652.0 55.0,651.8 56.1,651.6 60.4,650.8 64.7,649.7 69.0,648.6 73.3,647.3 77.6,645.9 81.9,644.5 86.2,643.0 90.6,641.5 94.9,640.1 99.2,638.7 103.5,637.4 107.8,636.1 112.1,634.9 116.4,633.8 120.7,632.7 125.0,631.8 129.4,631.0 133.7,630.2 138.0,629.5 142.3,628.9 146.6,628.4 150.9,627.9 155.2,627.5 159.5,627.2 163.8,626.9 168.1,626.6 172.5,626.4 176.8,626.2 181.1,626.1 185.4,626.0 189.7,625.9 194.0,625.8 198.3,625.7 202.6,625.7 206.9,625.6 211.3,625.6 215.6,625.6 219.9,625.6 224.2,625.5 228.5,625.5 232.8,625.5 237.1,625.5 241.4,625.5 245.7,625.5 250.0,625.5 254.4,625.5 258.7,625.5 263.0,625.5 267.3,625.5 271.6,625.5 275.9,625.5 280.2,625.5 284.5,625.5 288.8,625.5 293.1,625.5 297.5,625.5 301.8,625.5 306.1,625.5 310.4,625.5 314.7,625.5" stroke="#6070f0" stroke-width="1.2" fill="none" stroke-linejoin="round"/>
<polyline points="45.3,652.7 46.4,652.6 47.5,652.6 48.5,652.5 49.6,652.3 50.7,652.2 51.8,652.0 52.8,651.8 53.9,651.6 55.0,651.3 56.1,651.1 60.4,649.9 64.7,648.6 69.0,647.1 73.3,645.5 77.6,643.9 81.9,642.2 86.2,640.6 90.6,639.0 94.9,637.5 99.2,636.1 103.5,634.8 107.8,633.5 112.1,632.4 116.4,631.4 120.7,630.4 125.0,629.6 129.4,628.9 133.7,628.2 138.0,627.7 142.3,627.2 146.6,626.8 150.9,626.5 155.2,626.2 159.5,625.9 163.8,625.7 168.1,625.5 172.5,625.4 176.8,625.3 181.1,625.2 185.4,625.1 189.7,625.1 194.0,625.0 198.3,625.0 202.6,624.9 206.9,624.9 211.3,624.9 215.6,624.9 219.9,624.9 224.2,624.9 228.5,624.9 232.8,624.9 237.1,624.9 241.4,624.8 245.7,624.8 250.0,624.8 254.4,624.8 258.7,624.8 263.0,624.8 267.3,624.8 271.6,624.8 275.9,624.8 280.2,624.8 284.5,624.8 288.8,624.8 293.1,624.8 297.5,624.8 301.8,624.8 306.1,624.8 310.4,624.8 314.7,624.8" stroke="#209020" stroke-width="1.2" fill="none" stroke-linejoin="round"/>
<polyline points="45.3,652.7 46.4,652.6 47.5,652.4 48.5,652.2 49.6,652.0 50.7,651.7 51.8,651.3 52.8,651.0 53.9,650.6 55.0,650.2 56.1,649.7 60.4,647.8 64.7,645.7 69.0,643.6 73.3,641.4 77.6,639.3 81.9,637.4 86.2,635.5 90.6,633.9 94.9,632.4 99.2,631.0 103.5,629.9 107.8,628.8 112.1,628.0 116.4,627.3 120.7,626.7 125.0,626.2 129.4,625.7 133.7,625.4 138.0,625.1 142.3,624.9 146.6,624.8 150.9,624.6 155.2,624.5 159.5,624.4 163.8,624.4 168.1,624.3 172.5,624.3 176.8,624.3 181.1,624.3 185.4,624.2 189.7,624.2 194.0,624.2 198.3,624.2 202.6,624.2 206.9,624.2 211.3,624.2 215.6,624.2 219.9,624.2 224.2,624.2 228.5,624.2 232.8,624.2 237.1,624.2 241.4,624.2 245.7,624.2 250.0,624.2 254.4,624.2 258.7,624.2 263.0,624.2 267.3,624.2 271.6,624.2 275.9,624.2 280.2,624.2 284.5,624.2 288.8,624.2 293.1,624.2 297.5,624.2 301.8,624.2 306.1,624.2 310.4,624.2 314.7,624.2" stroke="#f03030" stroke-width="1.2" fill="none" stroke-linejoin="round"/>
<polyline points="45.3,652.7 46.4,652.6 47.5,652.4 48.5,652.1 49.6,651.8 50.7,651.4 51.8,650.9 52.8,650.5 53.9,650.0 55.0,649.5 56.1,648.9 60.4,646.5 64.7,644.0 69.0,641.4 73.3,638.9 77.6,636.6 81.9,634.5 86.2,632.7 90.6,631.0 94.9,629.7 99.2,628.5 103.5,627.5 107.8,626.7 112.1,626.1 116.4,625.6 120.7,625.2 125.0,624.9 129.4,624.6 133.7,624.5 138.0,624.3 142.3,624.2 146.6,624.2 150.9,624.1 155.2,624.1 159.5,624.0 163.8,624.0 168.1,624.0 172.5,624.0 176.8,624.0 181.1,624.0 185.4,624.0 189.7,624.0 194.0,624.0 198.3,624.0 202.6,624.0 206.9,624.0 211.3,624.0 215.6,624.0 219.9,624.0 224.2,624.0 228.5,624.0 232.8,624.0 237.1,624.0 241.4,624.0 245.7,624.0 250.0,624.0 254.4,624.0 258.7,624.0 263.0,624.0 267.3,624.0 271.6,624.0 275.9,624.0 280.2,624.0 284.5,624.0 288.8,624.0 293.1,624.0 297.5,624.0 301.8,624.0 306.1,624.0 310.4,624.0 314.7,624.0" stroke="#30c0c0" stroke-width="1.2" fill="none" stroke-linejoin="round"/>
<polyline points="45.3,652.7 46.4,652.5 47.5,652.3 48.5,651.9 49.6,651.5 50.7,651.0 51.8,650.5 52.8,649.9 53.9,649.3 55.0,648.6 56.1,648.0 60.4,645.1 64.7,642.2 69.0,639.3 73.3,636.7 77.6,634.3 81.9,632.2 86.2,630.4 90.6,628.9 94.9,627.6 99.2,626.7 103.5,625.9 107.8,625.3 112.1,624.8 116.4,624.5 120.7,624.2 125.0,624.0 129.4,623.9 133.7,623.8 138.0,623.7 142.3,623.7 146.6,623.6 150.9,623.6 155.2,623.6 159.5,623.6 163.8,623.6 168.1,623.6 172.5,623.6 176.8,623.6 181.1,623.6 185.4,623.6 189.7,623.6 194.0,623.6 198.3,623.6 202.6,623.6 206.9,623.6 211.3,623.6 215.6,623.6 219.9,623.6 224.2,623.6 228.5,623.6 232.8,623.6 237.1,623.6 241.4,623.6 245.7,623.6 250.0,623.6 254.4,623.6 258.7,623.6 263.0,623.6 267.3,623.6 271.6,623.6 275.9,623.6 280.2,623.6 284.5,623.6 288.8,623.6 293.1,623.6 297.5,623.6 301.8,623.6 306.1,623.6 310.4,623.6 314.7,623.6" stroke="#e070e0" stroke-width="1.2" fill="none" stroke-linejoin="round"/>
<polyline points="45.3,652.7 46.4,652.5 47.5,652.2 48.5,651.8 49.6,651.4 50.7,650.8 51.8,650.2 52.8,649.6 53.9,648.9 55.0,648.2 56.1,647.5 60.4,644.4 64.7,641.2 69.0,638.3 73.3,635.5 77.6,633.1 81.9,631.1 86.2,629.4 90.6,628.0 94.9,626.9 99.2,626.1 103.5,625.4 107.8,625.0 112.1,624.6 116.4,624.3 120.7,624.2 125.0,624.0 129.4,623.9 133.7,623.9 138.0,623.8 142.3,623.8 146.6,623.8 150.9,623.8 155.2,623.8 159.5,623.8 163.8,623.8 168.1,623.8 172.5,623.8 176.8,623.8 181.1,623.8 185.4,623.8 189.7,623.8 194.0,623.8 198.3,623.8 202.6,623.8 206.9,623.8 211.3,623.8 215.6,623.8 219.9,623.8 224.2,623.8 228.5,623.8 232.8,623.8 237.1,623.8 241.4,623.8 245.7,623.8 250.0,623.8 254.4,623.8 258.7,623.8 263.0,623.8 267.3,623.8 271.6,623.8 275.9,623.8 280.2,623.8 284.5,623.8 288.8,623.8 293.1,623.8 297.5,623.8 301.8,623.8 306.1,623.8 310.4,623.8 314.7,623.8" stroke="#d8d860" stroke-width="1.2" fill="none" stroke-linejoin="round"/>
<rect x="45.3" y="487.8" width="269.4" height="171.3" fill="none" stroke="#707070" stroke-width="1.1"/>
<line x1="45.4" y1="509" x2="45.4" y2="658.5" stroke="#d8d870" stroke-width="1.2"/>
<text x="42.8" y="661.48" font-family='"Liberation Sans", sans-serif' font-size="6.6" text-anchor="end" fill="#333" textLength="3.4" lengthAdjust="spacingAndGlyphs">0</text>
<text x="42.8" y="640.06" font-family='"Liberation Sans", sans-serif' font-size="6.6" text-anchor="end" fill="#333" textLength="6.8" lengthAdjust="spacingAndGlyphs">10</text>
<text x="42.8" y="618.65" font-family='"Liberation Sans", sans-serif' font-size="6.6" text-anchor="end" fill="#333" textLength="6.8" lengthAdjust="spacingAndGlyphs">20</text>
<text x="42.8" y="597.24" font-family='"Liberation Sans", sans-serif' font-size="6.6" text-anchor="end" fill="#333" textLength="6.8" lengthAdjust="spacingAndGlyphs">30</text>
<text x="42.8" y="575.83" font-family='"Liberation Sans", sans-serif' font-size="6.6" text-anchor="end" fill="#333" textLength="6.8" lengthAdjust="spacingAndGlyphs">40</text>
<text x="42.8" y="554.41" font-family='"Liberation Sans", sans-serif' font-size="6.6" text-anchor="end" fill="#333" textLength="6.8" lengthAdjust="spacingAndGlyphs">50</text>
<text x="42.8" y="533" font-family='"Liberation Sans", sans-serif' font-size="6.6" text-anchor="end" fill="#333" textLength="6.8" lengthAdjust="spacingAndGlyphs">60</text>
<text x="42.8" y="511.59" font-family='"Liberation Sans", sans-serif' font-size="6.6" text-anchor="end" fill="#333" textLength="6.8" lengthAdjust="spacingAndGlyphs">70</text>
<text x="42.8" y="490.18" font-family='"Liberation Sans", sans-serif' font-size="6.6" text-anchor="end" fill="#333" textLength="6.8" lengthAdjust="spacingAndGlyphs">80</text>
<text x="45.3" y="666.18" font-family='"Liberation Sans", sans-serif' font-size="6.6" text-anchor="middle" fill="#333" textLength="3.4" lengthAdjust="spacingAndGlyphs">0</text>
<text x="99.18" y="666.18" font-family='"Liberation Sans", sans-serif' font-size="6.6" text-anchor="middle" fill="#333" textLength="3.4" lengthAdjust="spacingAndGlyphs">5</text>
<text x="153.06" y="666.18" font-family='"Liberation Sans", sans-serif' font-size="6.6" text-anchor="middle" fill="#333" textLength="6.8" lengthAdjust="spacingAndGlyphs">10</text>
<text x="206.94" y="666.18" font-family='"Liberation Sans", sans-serif' font-size="6.6" text-anchor="middle" fill="#333" textLength="6.8" lengthAdjust="spacingAndGlyphs">15</text>
<text x="260.82" y="666.18" font-family='"Liberation Sans", sans-serif' font-size="6.6" text-anchor="middle" fill="#333" textLength="6.8" lengthAdjust="spacingAndGlyphs">20</text>
<text x="314.7" y="666.18" font-family='"Liberation Sans", sans-serif' font-size="6.6" text-anchor="middle" fill="#333" textLength="6.8" lengthAdjust="spacingAndGlyphs">25</text>
<rect x="174.7" y="491.2" width="65" height="157.2" fill="#fff" stroke="#555" stroke-width="0.9"/>
<line x1="178.6" y1="495.5" x2="198.7" y2="495.5" stroke="#1a1aff" stroke-width="1"/>
<text x="201" y="497.66" font-family='"Liberation Sans", sans-serif' font-size="6" text-anchor="start" fill="#111" textLength="35.3" lengthAdjust="spacingAndGlyphs" stroke="#111" stroke-width="0.1">T =  14.56°C</text>
<line x1="178.6" y1="503.32" x2="198.7" y2="503.32" stroke="#2a9a2a" stroke-width="1"/>
<text x="201" y="505.48" font-family='"Liberation Sans", sans-serif' font-size="6" text-anchor="start" fill="#111" textLength="35.3" lengthAdjust="spacingAndGlyphs" stroke="#111" stroke-width="0.1">T =  15.62°C</text>
<line x1="178.6" y1="511.14" x2="198.7" y2="511.14" stroke="#40c8d0" stroke-width="1"/>
<text x="201" y="513.3" font-family='"Liberation Sans", sans-serif' font-size="6" text-anchor="start" fill="#111" textLength="35.3" lengthAdjust="spacingAndGlyphs" stroke="#111" stroke-width="0.1">T =  16.62°C</text>
<line x1="178.6" y1="518.96" x2="198.7" y2="518.96" stroke="#60b060" stroke-width="1"/>
<text x="201" y="521.12" font-family='"Liberation Sans", sans-serif' font-size="6" text-anchor="start" fill="#111" textLength="35.3" lengthAdjust="spacingAndGlyphs" stroke="#111" stroke-width="0.1">T =  17.57°C</text>
<line x1="178.6" y1="526.78" x2="198.7" y2="526.78" stroke="#e070e0" stroke-width="1"/>
<text x="201" y="528.94" font-family='"Liberation Sans", sans-serif' font-size="6" text-anchor="start" fill="#111" textLength="35.3" lengthAdjust="spacingAndGlyphs" stroke="#111" stroke-width="0.1">T =  18.53°C</text>
<line x1="178.6" y1="534.6" x2="198.7" y2="534.6" stroke="#d8d860" stroke-width="1"/>
<text x="201" y="536.76" font-family='"Liberation Sans", sans-serif' font-size="6" text-anchor="start" fill="#111" textLength="35.3" lengthAdjust="spacingAndGlyphs" stroke="#111" stroke-width="0.1">T =  19.42°C</text>
<line x1="178.6" y1="542.42" x2="198.7" y2="542.42" stroke="#505050" stroke-width="1"/>
<text x="201" y="544.58" font-family='"Liberation Sans", sans-serif' font-size="6" text-anchor="start" fill="#111" textLength="35.3" lengthAdjust="spacingAndGlyphs" stroke="#111" stroke-width="0.1">T =  20.60°C</text>
<line x1="178.6" y1="550.24" x2="198.7" y2="550.24" stroke="#3030f0" stroke-width="1"/>
<text x="201" y="552.4" font-family='"Liberation Sans", sans-serif' font-size="6" text-anchor="start" fill="#111" textLength="35.3" lengthAdjust="spacingAndGlyphs" stroke="#111" stroke-width="0.1">T =  21.52°C</text>
<line x1="178.6" y1="558.06" x2="198.7" y2="558.06" stroke="#30a030" stroke-width="1"/>
<text x="201" y="560.22" font-family='"Liberation Sans", sans-serif' font-size="6" text-anchor="start" fill="#111" textLength="35.3" lengthAdjust="spacingAndGlyphs" stroke="#111" stroke-width="0.1">T =  22.50°C</text>
<line x1="178.6" y1="565.88" x2="198.7" y2="565.88" stroke="#ffb0d0" stroke-width="1"/>
<text x="201" y="568.04" font-family='"Liberation Sans", sans-serif' font-size="6" text-anchor="start" fill="#111" textLength="35.3" lengthAdjust="spacingAndGlyphs" stroke="#111" stroke-width="0.1">T =  23.66°C</text>
<line x1="178.6" y1="573.7" x2="198.7" y2="573.7" stroke="#4050a0" stroke-width="1"/>
<text x="201" y="575.86" font-family='"Liberation Sans", sans-serif' font-size="6" text-anchor="start" fill="#111" textLength="35.3" lengthAdjust="spacingAndGlyphs" stroke="#111" stroke-width="0.1">T =  24.72°C</text>
<line x1="178.6" y1="581.52" x2="198.7" y2="581.52" stroke="#b030d0" stroke-width="1"/>
<text x="201" y="583.68" font-family='"Liberation Sans", sans-serif' font-size="6" text-anchor="start" fill="#111" textLength="35.3" lengthAdjust="spacingAndGlyphs" stroke="#111" stroke-width="0.1">T =  25.30°C</text>
<line x1="178.6" y1="589.34" x2="198.7" y2="589.34" stroke="#d8ecd8" stroke-width="1"/>
<text x="201" y="591.5" font-family='"Liberation Sans", sans-serif' font-size="6" text-anchor="start" fill="#111" textLength="35.3" lengthAdjust="spacingAndGlyphs" stroke="#111" stroke-width="0.1">T =  26.62°C</text>
<line x1="178.6" y1="597.16" x2="198.7" y2="597.16" stroke="#808080" stroke-width="1"/>
<text x="201" y="599.32" font-family='"Liberation Sans", sans-serif' font-size="6" text-anchor="start" fill="#111" textLength="35.3" lengthAdjust="spacingAndGlyphs" stroke="#111" stroke-width="0.1">T =  27.55°C</text>
<line x1="178.6" y1="604.98" x2="198.7" y2="604.98" stroke="#6070f0" stroke-width="1"/>
<text x="201" y="607.14" font-family='"Liberation Sans", sans-serif' font-size="6" text-anchor="start" fill="#111" textLength="35.3" lengthAdjust="spacingAndGlyphs" stroke="#111" stroke-width="0.1">T =  28.37°C</text>
<line x1="178.6" y1="612.8" x2="198.7" y2="612.8" stroke="#209020" stroke-width="1"/>
<text x="201" y="614.96" font-family='"Liberation Sans", sans-serif' font-size="6" text-anchor="start" fill="#111" textLength="35.3" lengthAdjust="spacingAndGlyphs" stroke="#111" stroke-width="0.1">T =  29.65°C</text>
<line x1="178.6" y1="620.62" x2="198.7" y2="620.62" stroke="#f03030" stroke-width="1"/>
<text x="201" y="622.78" font-family='"Liberation Sans", sans-serif' font-size="6" text-anchor="start" fill="#111" textLength="35.3" lengthAdjust="spacingAndGlyphs" stroke="#111" stroke-width="0.1">T =  31.55°C</text>
<line x1="178.6" y1="628.44" x2="198.7" y2="628.44" stroke="#30c0c0" stroke-width="1"/>
<text x="201" y="630.6" font-family='"Liberation Sans", sans-serif' font-size="6" text-anchor="start" fill="#111" textLength="35.3" lengthAdjust="spacingAndGlyphs" stroke="#111" stroke-width="0.1">T =  32.57°C</text>
<line x1="178.6" y1="636.26" x2="198.7" y2="636.26" stroke="#e070e0" stroke-width="1"/>
<text x="201" y="638.42" font-family='"Liberation Sans", sans-serif' font-size="6" text-anchor="start" fill="#111" textLength="35.3" lengthAdjust="spacingAndGlyphs" stroke="#111" stroke-width="0.1">T =  33.35°C</text>
<line x1="178.6" y1="644.08" x2="198.7" y2="644.08" stroke="#d8d860" stroke-width="1"/>
<text x="201" y="646.24" font-family='"Liberation Sans", sans-serif' font-size="6" text-anchor="start" fill="#111" textLength="35.3" lengthAdjust="spacingAndGlyphs" stroke="#111" stroke-width="0.1">T =  34.36°C</text>
<text x="179.4" y="480" font-family='"Liberation Serif", serif' font-size="7.4" font-weight="normal" text-anchor="middle" fill="#1a1a1a" stroke="#1a1a1a" stroke-width="0.12" textLength="142.9" lengthAdjust="spacingAndGlyphs">L<tspan font-size="5.33" dy="2.81">3</tspan><tspan dy="-2.81">(t) vs Time for Different Temperatures</tspan></text>
<text x="179.1" y="674" font-family='"Liberation Serif", serif' font-size="7.3" text-anchor="middle" fill="#222" textLength="40.4" lengthAdjust="spacingAndGlyphs" stroke="#222" stroke-width="0.12">Time (days)</text>
<text transform="translate(30.6,570.8) rotate(-90)" font-family='"Liberation Serif", serif' font-size="7.6" text-anchor="middle" fill="#333" textLength="130.5" lengthAdjust="spacingAndGlyphs">Cummulative Number of Larval Stage Three</text>
<text x="0.5" y="678.9" font-family='"Liberation Serif", serif' font-size="23.4" text-anchor="start" fill="#000">C.</text>
<path d="M455.58 14.3V189.5M511.76 14.3V189.5M567.94 14.3V189.5M624.12 14.3V189.5M399.4 170.03H680.3M399.4 150.57H680.3M399.4 131.1H680.3M399.4 111.63H680.3M399.4 92.17H680.3M399.4 72.7H680.3M399.4 53.23H680.3M399.4 33.77H680.3" stroke="#2a2a2a" stroke-width="1.0" stroke-dasharray="1.6,1.8" fill="none"/>
<polyline points="399.4,174.7 400.5,174.7 401.6,174.6 402.8,174.6 403.9,174.5 405.0,174.4 406.1,174.3 407.3,174.2 408.4,174.0 409.5,173.9 410.6,173.8 415.1,173.2 419.6,172.6 424.1,172.0 428.6,171.4 433.1,170.9 437.6,170.3 442.1,169.9 446.6,169.4 451.1,169.0 455.6,168.7 460.1,168.4 464.6,168.1 469.1,167.9 473.6,167.7 478.1,167.5 482.5,167.4 487.0,167.3 491.5,167.2 496.0,167.1 500.5,167.0 505.0,167.0 509.5,167.0 514.0,166.9 518.5,166.9 523.0,166.9 527.5,166.9 532.0,166.9 536.5,166.8 541.0,166.8 545.5,166.8 550.0,166.8 554.5,166.8 559.0,166.8 563.4,166.8 567.9,166.8 572.4,166.8 576.9,166.8 581.4,166.8 585.9,166.8 590.4,166.8 594.9,166.8 599.4,166.8 603.9,166.8 608.4,166.8 612.9,166.8 617.4,166.8 621.9,166.8 626.4,166.8 630.9,166.8 635.4,166.8 639.9,166.8 644.3,166.8 648.8,166.8 653.3,166.8 657.8,166.8 662.3,166.8 666.8,166.8 671.3,166.8 675.8,166.8 680.3,166.8" stroke="#1a1aff" stroke-width="1.2" fill="none" stroke-linejoin="round"/>
<polyline points="399.4,174.7 400.5,174.7 401.6,174.6 402.8,174.5 403.9,174.3 405.0,174.2 406.1,174.0 407.3,173.8 408.4,173.6 409.5,173.4 410.6,173.2 415.1,172.3 419.6,171.2 424.1,170.2 428.6,169.2 433.1,168.2 437.6,167.3 442.1,166.5 446.6,165.7 451.1,165.0 455.6,164.4 460.1,163.9 464.6,163.4 469.1,163.0 473.6,162.7 478.1,162.4 482.5,162.2 487.0,162.0 491.5,161.8 496.0,161.7 500.5,161.6 505.0,161.5 509.5,161.5 514.0,161.4 518.5,161.4 523.0,161.4 527.5,161.3 532.0,161.3 536.5,161.3 541.0,161.3 545.5,161.3 550.0,161.3 554.5,161.3 559.0,161.3 563.4,161.3 567.9,161.3 572.4,161.3 576.9,161.3 581.4,161.3 585.9,161.3 590.4,161.3 594.9,161.3 599.4,161.3 603.9,161.3 608.4,161.3 612.9,161.3 617.4,161.3 621.9,161.3 626.4,161.3 630.9,161.3 635.4,161.3 639.9,161.3 644.3,161.3 648.8,161.3 653.3,161.3 657.8,161.3 662.3,161.3 666.8,161.3 671.3,161.3 675.8,161.3 680.3,161.3" stroke="#209020" stroke-width="1.2" fill="none" stroke-linejoin="round"/>
<polyline points="399.4,174.7 400.5,174.5 401.6,174.3 402.8,174.0 403.9,173.7 405.0,173.4 406.1,173.1 407.3,172.7 408.4,172.4 409.5,172.0 410.6,171.6 415.1,170.2 419.6,168.7 424.1,167.3 428.6,166.0 433.1,164.8 437.6,163.7 442.1,162.7 446.6,161.8 451.1,161.0 455.6,160.3 460.1,159.7 464.6,159.1 469.1,158.7 473.6,158.3 478.1,157.9 482.5,157.6 487.0,157.3 491.5,157.1 496.0,156.9 500.5,156.8 505.0,156.6 509.5,156.5 514.0,156.4 518.5,156.4 523.0,156.3 527.5,156.2 532.0,156.2 536.5,156.2 541.0,156.1 545.5,156.1 550.0,156.1 554.5,156.1 559.0,156.1 563.4,156.0 567.9,156.0 572.4,156.0 576.9,156.0 581.4,156.0 585.9,156.0 590.4,156.0 594.9,156.0 599.4,156.0 603.9,156.0 608.4,156.0 612.9,156.0 617.4,156.0 621.9,156.0 626.4,156.0 630.9,156.0 635.4,156.0 639.9,156.0 644.3,156.0 648.8,156.0 653.3,156.0 657.8,156.0 662.3,156.0 666.8,156.0 671.3,156.0 675.8,156.0 680.3,156.0" stroke="#e0e0e0" stroke-width="1.2" fill="none" stroke-linejoin="round"/>
<polyline points="399.4,174.7 400.5,174.6 401.6,174.5 402.8,174.3 403.9,174.0 405.0,173.7 406.1,173.4 407.3,173.1 408.4,172.8 409.5,172.4 410.6,172.1 415.1,170.5 419.6,168.8 424.1,167.0 428.6,165.3 433.1,163.7 437.6,162.1 442.1,160.6 446.6,159.3 451.1,158.1 455.6,157.0 460.1,156.0 464.6,155.2 469.1,154.4 473.6,153.8 478.1,153.2 482.5,152.8 487.0,152.4 491.5,152.0 496.0,151.8 500.5,151.5 505.0,151.3 509.5,151.2 514.0,151.0 518.5,150.9 523.0,150.9 527.5,150.8 532.0,150.7 536.5,150.7 541.0,150.7 545.5,150.6 550.0,150.6 554.5,150.6 559.0,150.6 563.4,150.6 567.9,150.6 572.4,150.6 576.9,150.6 581.4,150.6 585.9,150.6 590.4,150.6 594.9,150.6 599.4,150.6 603.9,150.6 608.4,150.6 612.9,150.6 617.4,150.6 621.9,150.6 626.4,150.6 630.9,150.6 635.4,150.6 639.9,150.6 644.3,150.6 648.8,150.6 653.3,150.6 657.8,150.6 662.3,150.6 666.8,150.6 671.3,150.6 675.8,150.6 680.3,150.6" stroke="#c8dcc8" stroke-width="1.2" fill="none" stroke-linejoin="round"/>
<polyline points="399.4,174.7 400.5,174.7 401.6,174.5 402.8,174.4 403.9,174.2 405.0,173.9 406.1,173.7 407.3,173.4 408.4,173.1 409.5,172.7 410.6,172.3 415.1,170.7 419.6,168.8 424.1,166.7 428.6,164.7 433.1,162.6 437.6,160.6 442.1,158.7 446.6,156.9 451.1,155.3 455.6,153.9 460.1,152.6 464.6,151.5 469.1,150.5 473.6,149.7 478.1,149.0 482.5,148.4 487.0,148.0 491.5,147.6 496.0,147.3 500.5,147.0 505.0,146.8 509.5,146.7 514.0,146.5 518.5,146.5 523.0,146.4 527.5,146.3 532.0,146.3 536.5,146.3 541.0,146.2 545.5,146.2 550.0,146.2 554.5,146.2 559.0,146.2 563.4,146.2 567.9,146.2 572.4,146.2 576.9,146.2 581.4,146.2 585.9,146.2 590.4,146.2 594.9,146.2 599.4,146.2 603.9,146.2 608.4,146.2 612.9,146.2 617.4,146.2 621.9,146.2 626.4,146.2 630.9,146.2 635.4,146.2 639.9,146.2 644.3,146.2 648.8,146.2 653.3,146.2 657.8,146.2 662.3,146.2 666.8,146.2 671.3,146.2 675.8,146.2 680.3,146.2" stroke="#d050d0" stroke-width="1.2" fill="none" stroke-linejoin="round"/>
<polyline points="399.4,174.7 400.5,174.6 401.6,174.5 402.8,174.3 403.9,174.1 405.0,173.9 406.1,173.6 407.3,173.3 408.4,172.9 409.5,172.5 410.6,172.2 415.1,170.4 419.6,168.4 424.1,166.2 428.6,164.0 433.1,161.8 437.6,159.6 442.1,157.6 446.6,155.6 451.1,153.8 455.6,152.1 460.1,150.6 464.6,149.3 469.1,148.1 473.6,147.1 478.1,146.2 482.5,145.4 487.0,144.8 491.5,144.2 496.0,143.8 500.5,143.4 505.0,143.1 509.5,142.8 514.0,142.6 518.5,142.5 523.0,142.3 527.5,142.2 532.0,142.2 536.5,142.1 541.0,142.0 545.5,142.0 550.0,142.0 554.5,142.0 559.0,141.9 563.4,141.9 567.9,141.9 572.4,141.9 576.9,141.9 581.4,141.9 585.9,141.9 590.4,141.9 594.9,141.9 599.4,141.9 603.9,141.9 608.4,141.9 612.9,141.9 617.4,141.9 621.9,141.9 626.4,141.9 630.9,141.9 635.4,141.9 639.9,141.9 644.3,141.9 648.8,141.9 653.3,141.9 657.8,141.9 662.3,141.9 666.8,141.9 671.3,141.9 675.8,141.9 680.3,141.9" stroke="#b8b820" stroke-width="1.2" fill="none" stroke-linejoin="round"/>
<polyline points="399.4,174.7 400.5,174.6 401.6,174.5 402.8,174.3 403.9,174.0 405.0,173.7 406.1,173.4 407.3,173.1 408.4,172.7 409.5,172.3 410.6,171.9 415.1,170.0 419.6,167.9 424.1,165.7 428.6,163.4 433.1,161.1 437.6,158.8 442.1,156.6 446.6,154.5 451.1,152.5 455.6,150.6 460.1,148.9 464.6,147.3 469.1,145.8 473.6,144.5 478.1,143.3 482.5,142.3 487.0,141.3 491.5,140.5 496.0,139.8 500.5,139.2 505.0,138.6 509.5,138.2 514.0,137.8 518.5,137.4 523.0,137.1 527.5,136.9 532.0,136.7 536.5,136.5 541.0,136.4 545.5,136.3 550.0,136.2 554.5,136.1 559.0,136.0 563.4,136.0 567.9,135.9 572.4,135.9 576.9,135.9 581.4,135.9 585.9,135.8 590.4,135.8 594.9,135.8 599.4,135.8 603.9,135.8 608.4,135.8 612.9,135.8 617.4,135.8 621.9,135.8 626.4,135.8 630.9,135.8 635.4,135.8 639.9,135.8 644.3,135.8 648.8,135.8 653.3,135.8 657.8,135.8 662.3,135.8 666.8,135.8 671.3,135.8 675.8,135.8 680.3,135.8" stroke="#606060" stroke-width="1.2" fill="none" stroke-linejoin="round"/>
<polyline points="399.4,174.7 400.5,174.6 401.6,174.4 402.8,174.1 403.9,173.9 405.0,173.5 406.1,173.2 407.3,172.8 408.4,172.3 409.5,171.9 410.6,171.5 415.1,169.5 419.6,167.3 424.1,165.0 428.6,162.7 433.1,160.4 437.6,158.1 442.1,155.9 446.6,153.7 451.1,151.7 455.6,149.7 460.1,147.9 464.6,146.2 469.1,144.6 473.6,143.2 478.1,141.9 482.5,140.7 487.0,139.6 491.5,138.6 496.0,137.7 500.5,136.9 505.0,136.2 509.5,135.5 514.0,135.0 518.5,134.5 523.0,134.1 527.5,133.7 532.0,133.4 536.5,133.1 541.0,132.8 545.5,132.6 550.0,132.4 554.5,132.3 559.0,132.1 563.4,132.0 567.9,131.9 572.4,131.8 576.9,131.8 581.4,131.7 585.9,131.7 590.4,131.6 594.9,131.6 599.4,131.5 603.9,131.5 608.4,131.5 612.9,131.5 617.4,131.5 621.9,131.5 626.4,131.4 630.9,131.4 635.4,131.4 639.9,131.4 644.3,131.4 648.8,131.4 653.3,131.4 657.8,131.4 662.3,131.4 666.8,131.4 671.3,131.4 675.8,131.4 680.3,131.4" stroke="#ffff20" stroke-width="1.2" fill="none" stroke-linejoin="round"/>
<polyline points="399.4,174.7 400.5,174.6 401.6,174.4 402.8,174.1 403.9,173.8 405.0,173.4 406.1,173.0 407.3,172.6 408.4,172.2 409.5,171.7 410.6,171.2 415.1,169.1 419.6,166.9 424.1,164.6 428.6,162.2 433.1,159.8 437.6,157.4 442.1,155.1 446.6,152.9 451.1,150.7 455.6,148.7 460.1,146.7 464.6,144.9 469.1,143.2 473.6,141.6 478.1,140.1 482.5,138.8 487.0,137.5 491.5,136.4 496.0,135.3 500.5,134.4 505.0,133.5 509.5,132.7 514.0,132.0 518.5,131.4 523.0,130.8 527.5,130.3 532.0,129.9 536.5,129.5 541.0,129.1 545.5,128.8 550.0,128.5 554.5,128.3 559.0,128.1 563.4,127.9 567.9,127.7 572.4,127.6 576.9,127.4 581.4,127.3 585.9,127.2 590.4,127.2 594.9,127.1 599.4,127.0 603.9,127.0 608.4,126.9 612.9,126.9 617.4,126.9 621.9,126.8 626.4,126.8 630.9,126.8 635.4,126.8 639.9,126.8 644.3,126.7 648.8,126.7 653.3,126.7 657.8,126.7 662.3,126.7 666.8,126.7 671.3,126.7 675.8,126.7 680.3,126.7" stroke="#40f0f0" stroke-width="1.2" fill="none" stroke-linejoin="round"/>
<polyline points="399.4,174.7 400.5,174.6 401.6,174.3 402.8,174.0 403.9,173.6 405.0,173.2 406.1,172.8 407.3,172.4 408.4,171.9 409.5,171.4 410.6,170.9 415.1,168.8 419.6,166.5 424.1,164.1 428.6,161.6 433.1,159.2 437.6,156.7 442.1,154.4 446.6,152.0 451.1,149.8 455.6,147.7 460.1,145.6 464.6,143.7 469.1,141.9 473.6,140.1 478.1,138.5 482.5,137.0 487.0,135.6 491.5,134.3 496.0,133.1 500.5,132.0 505.0,130.9 509.5,130.0 514.0,129.1 518.5,128.3 523.0,127.6 527.5,127.0 532.0,126.4 536.5,125.8 541.0,125.3 545.5,124.9 550.0,124.5 554.5,124.1 559.0,123.8 563.4,123.5 567.9,123.3 572.4,123.1 576.9,122.8 581.4,122.7 585.9,122.5 590.4,122.4 594.9,122.2 599.4,122.1 603.9,122.0 608.4,121.9 612.9,121.9 617.4,121.8 621.9,121.7 626.4,121.7 630.9,121.6 635.4,121.6 639.9,121.6 644.3,121.5 648.8,121.5 653.3,121.5 657.8,121.5 662.3,121.4 666.8,121.4 671.3,121.4 675.8,121.4 680.3,121.4" stroke="#707070" stroke-width="1.2" fill="none" stroke-linejoin="round"/>
<polyline points="399.4,174.7 400.5,174.5 401.6,174.2 402.8,173.9 403.9,173.5 405.0,173.1 406.1,172.7 407.3,172.2 408.4,171.7 409.5,171.2 410.6,170.7 415.1,168.4 419.6,166.0 424.1,163.6 428.6,161.1 433.1,158.5 437.6,156.0 442.1,153.6 446.6,151.2 451.1,148.9 455.6,146.6 460.1,144.5 464.6,142.5 469.1,140.5 473.6,138.7 478.1,136.9 482.5,135.3 487.0,133.7 491.5,132.3 496.0,130.9 500.5,129.6 505.0,128.5 509.5,127.4 514.0,126.4 518.5,125.4 523.0,124.6 527.5,123.8 532.0,123.1 536.5,122.4 541.0,121.8 545.5,121.2 550.0,120.7 554.5,120.2 559.0,119.8 563.4,119.4 567.9,119.1 572.4,118.7 576.9,118.4 581.4,118.2 585.9,117.9 590.4,117.7 594.9,117.5 599.4,117.4 603.9,117.2 608.4,117.1 612.9,116.9 617.4,116.8 621.9,116.7 626.4,116.6 630.9,116.6 635.4,116.5 639.9,116.4 644.3,116.4 648.8,116.3 653.3,116.3 657.8,116.2 662.3,116.2 666.8,116.2 671.3,116.1 675.8,116.1 680.3,116.1" stroke="#40c8d0" stroke-width="1.2" fill="none" stroke-linejoin="round"/>
<polyline points="399.4,174.7 400.5,174.5 401.6,174.2 402.8,173.9 403.9,173.5 405.0,173.1 406.1,172.6 407.3,172.1 408.4,171.6 409.5,171.1 410.6,170.5 415.1,168.2 419.6,165.7 424.1,163.2 428.6,160.6 433.1,157.9 437.6,155.3 442.1,152.8 446.6,150.3 451.1,147.9 455.6,145.6 460.1,143.3 464.6,141.2 469.1,139.2 473.6,137.3 478.1,135.4 482.5,133.7 487.0,132.1 491.5,130.6 496.0,129.2 500.5,127.9 505.0,126.6 509.5,125.5 514.0,124.5 518.5,123.5 523.0,122.6 527.5,121.7 532.0,121.0 536.5,120.3 541.0,119.6 545.5,119.1 550.0,118.5 554.5,118.0 559.0,117.6 563.4,117.2 567.9,116.8 572.4,116.5 576.9,116.2 581.4,115.9 585.9,115.6 590.4,115.4 594.9,115.2 599.4,115.0 603.9,114.9 608.4,114.7 612.9,114.6 617.4,114.5 621.9,114.4 626.4,114.3 630.9,114.2 635.4,114.1 639.9,114.0 644.3,114.0 648.8,113.9 653.3,113.9 657.8,113.8 662.3,113.8 666.8,113.8 671.3,113.7 675.8,113.7 680.3,113.7" stroke="#b020d0" stroke-width="1.2" fill="none" stroke-linejoin="round"/>
<polyline points="399.4,174.7 400.5,174.5 401.6,174.2 402.8,173.9 403.9,173.4 405.0,173.0 406.1,172.5 407.3,172.0 408.4,171.4 409.5,170.9 410.6,170.3 415.1,167.8 419.6,165.1 424.1,162.3 428.6,159.5 433.1,156.6 437.6,153.8 442.1,151.0 446.6,148.3 451.1,145.6 455.6,143.1 460.1,140.6 464.6,138.2 469.1,136.0 473.6,133.8 478.1,131.8 482.5,129.9 487.0,128.1 491.5,126.4 496.0,124.9 500.5,123.4 505.0,122.0 509.5,120.7 514.0,119.6 518.5,118.5 523.0,117.5 527.5,116.5 532.0,115.7 536.5,114.9 541.0,114.2 545.5,113.5 550.0,112.9 554.5,112.4 559.0,111.9 563.4,111.4 567.9,111.0 572.4,110.6 576.9,110.3 581.4,110.0 585.9,109.7 590.4,109.4 594.9,109.2 599.4,109.0 603.9,108.8 608.4,108.7 612.9,108.5 617.4,108.4 621.9,108.3 626.4,108.2 630.9,108.1 635.4,108.0 639.9,107.9 644.3,107.8 648.8,107.8 653.3,107.7 657.8,107.7 662.3,107.6 666.8,107.6 671.3,107.6 675.8,107.5 680.3,107.5" stroke="#c8c840" stroke-width="1.2" fill="none" stroke-linejoin="round"/>
<polyline points="399.4,174.7 400.5,174.6 401.6,174.3 402.8,174.0 403.9,173.6 405.0,173.1 406.1,172.7 407.3,172.2 408.4,171.6 409.5,171.0 410.6,170.4 415.1,167.8 419.6,165.0 424.1,162.0 428.6,158.8 433.1,155.7 437.6,152.5 442.1,149.3 446.6,146.2 451.1,143.2 455.6,140.3 460.1,137.5 464.6,134.8 469.1,132.3 473.6,129.9 478.1,127.7 482.5,125.5 487.0,123.6 491.5,121.7 496.0,120.0 500.5,118.5 505.0,117.0 509.5,115.7 514.0,114.5 518.5,113.4 523.0,112.4 527.5,111.5 532.0,110.6 536.5,109.9 541.0,109.2 545.5,108.6 550.0,108.1 554.5,107.6 559.0,107.2 563.4,106.8 567.9,106.4 572.4,106.1 576.9,105.9 581.4,105.6 585.9,105.4 590.4,105.2 594.9,105.1 599.4,104.9 603.9,104.8 608.4,104.7 612.9,104.6 617.4,104.5 621.9,104.4 626.4,104.4 630.9,104.3 635.4,104.3 639.9,104.2 644.3,104.2 648.8,104.2 653.3,104.1 657.8,104.1 662.3,104.1 666.8,104.1 671.3,104.1 675.8,104.1 680.3,104.1" stroke="#505050" stroke-width="1.2" fill="none" stroke-linejoin="round"/>
<polyline points="399.4,174.7 400.5,174.6 401.6,174.4 402.8,174.2 403.9,173.8 405.0,173.5 406.1,173.0 407.3,172.6 408.4,172.0 409.5,171.5 410.6,170.9 415.1,168.2 419.6,165.1 424.1,161.7 428.6,158.2 433.1,154.5 437.6,150.7 442.1,146.9 446.6,143.2 451.1,139.6 455.6,136.2 460.1,132.9 464.6,129.7 469.1,126.8 473.6,124.1 478.1,121.6 482.5,119.2 487.0,117.1 491.5,115.2 496.0,113.5 500.5,111.9 505.0,110.6 509.5,109.3 514.0,108.3 518.5,107.3 523.0,106.5 527.5,105.8 532.0,105.1 536.5,104.6 541.0,104.1 545.5,103.7 550.0,103.4 554.5,103.1 559.0,102.9 563.4,102.7 567.9,102.5 572.4,102.4 576.9,102.3 581.4,102.2 585.9,102.1 590.4,102.0 594.9,102.0 599.4,101.9 603.9,101.9 608.4,101.9 612.9,101.8 617.4,101.8 621.9,101.8 626.4,101.8 630.9,101.8 635.4,101.8 639.9,101.8 644.3,101.8 648.8,101.8 653.3,101.8 657.8,101.7 662.3,101.7 666.8,101.7 671.3,101.7 675.8,101.7 680.3,101.7" stroke="#f0a050" stroke-width="1.2" fill="none" stroke-linejoin="round"/>
<polyline points="399.4,174.7 400.5,174.6 401.6,174.4 402.8,174.2 403.9,173.8 405.0,173.4 406.1,172.9 407.3,172.3 408.4,171.7 409.5,171.1 410.6,170.3 415.1,167.1 419.6,163.2 424.1,159.0 428.6,154.5 433.1,149.8 437.6,145.2 442.1,140.5 446.6,136.1 451.1,131.8 455.6,127.8 460.1,124.1 464.6,120.6 469.1,117.6 473.6,114.8 478.1,112.3 482.5,110.1 487.0,108.2 491.5,106.6 496.0,105.2 500.5,104.0 505.0,103.0 509.5,102.2 514.0,101.5 518.5,100.9 523.0,100.5 527.5,100.1 532.0,99.8 536.5,99.6 541.0,99.4 545.5,99.2 550.0,99.1 554.5,99.0 559.0,98.9 563.4,98.9 567.9,98.8 572.4,98.8 576.9,98.8 581.4,98.8 585.9,98.8 590.4,98.8 594.9,98.7 599.4,98.7 603.9,98.7 608.4,98.7 612.9,98.7 617.4,98.7 621.9,98.7 626.4,98.7 630.9,98.7 635.4,98.7 639.9,98.7 644.3,98.7 648.8,98.7 653.3,98.7 657.8,98.7 662.3,98.7 666.8,98.7 671.3,98.7 675.8,98.7 680.3,98.7" stroke="#209020" stroke-width="1.2" fill="none" stroke-linejoin="round"/>
<polyline points="399.4,174.7 400.5,174.4 401.6,173.9 402.8,173.2 403.9,172.4 405.0,171.5 406.1,170.5 407.3,169.5 408.4,168.4 409.5,167.2 410.6,166.0 415.1,160.9 419.6,155.4 424.1,149.8 428.6,144.4 433.1,139.1 437.6,134.1 442.1,129.4 446.6,125.2 451.1,121.3 455.6,117.9 460.1,114.8 464.6,112.1 469.1,109.7 473.6,107.7 478.1,105.9 482.5,104.4 487.0,103.2 491.5,102.1 496.0,101.2 500.5,100.5 505.0,99.8 509.5,99.3 514.0,98.9 518.5,98.6 523.0,98.3 527.5,98.1 532.0,97.9 536.5,97.8 541.0,97.7 545.5,97.6 550.0,97.5 554.5,97.5 559.0,97.4 563.4,97.4 567.9,97.4 572.4,97.3 576.9,97.3 581.4,97.3 585.9,97.3 590.4,97.3 594.9,97.3 599.4,97.3 603.9,97.3 608.4,97.3 612.9,97.3 617.4,97.3 621.9,97.3 626.4,97.3 630.9,97.3 635.4,97.3 639.9,97.3 644.3,97.3 648.8,97.3 653.3,97.3 657.8,97.3 662.3,97.3 666.8,97.3 671.3,97.3 675.8,97.3 680.3,97.3" stroke="#f06060" stroke-width="1.2" fill="none" stroke-linejoin="round"/>
<polyline points="399.4,174.7 400.5,174.3 401.6,173.7 402.8,172.9 403.9,171.9 405.0,170.8 406.1,169.7 407.3,168.4 408.4,167.1 409.5,165.8 410.6,164.4 415.1,158.5 419.6,152.4 424.1,146.4 428.6,140.6 433.1,135.1 437.6,130.0 442.1,125.4 446.6,121.3 451.1,117.7 455.6,114.6 460.1,111.8 464.6,109.5 469.1,107.5 473.6,105.8 478.1,104.4 482.5,103.3 487.0,102.3 491.5,101.6 496.0,100.9 500.5,100.4 505.0,100.0 509.5,99.7 514.0,99.4 518.5,99.2 523.0,99.1 527.5,99.0 532.0,98.9 536.5,98.8 541.0,98.7 545.5,98.7 550.0,98.7 554.5,98.6 559.0,98.6 563.4,98.6 567.9,98.6 572.4,98.6 576.9,98.6 581.4,98.6 585.9,98.6 590.4,98.6 594.9,98.6 599.4,98.6 603.9,98.6 608.4,98.6 612.9,98.6 617.4,98.6 621.9,98.6 626.4,98.6 630.9,98.6 635.4,98.6 639.9,98.6 644.3,98.6 648.8,98.6 653.3,98.6 657.8,98.6 662.3,98.6 666.8,98.6 671.3,98.6 675.8,98.6 680.3,98.6" stroke="#30c0d0" stroke-width="1.2" fill="none" stroke-linejoin="round"/>
<polyline points="399.4,174.7 400.5,174.3 401.6,173.5 402.8,172.5 403.9,171.4 405.0,170.1 406.1,168.8 407.3,167.4 408.4,165.9 409.5,164.3 410.6,162.7 415.1,156.1 419.6,149.3 424.1,142.8 428.6,136.6 433.1,130.9 437.6,125.9 442.1,121.4 446.6,117.4 451.1,114.1 455.6,111.3 460.1,108.9 464.6,106.9 469.1,105.3 473.6,104.0 478.1,102.9 482.5,102.1 487.0,101.4 491.5,100.9 496.0,100.5 500.5,100.2 505.0,99.9 509.5,99.7 514.0,99.6 518.5,99.5 523.0,99.4 527.5,99.3 532.0,99.3 536.5,99.3 541.0,99.2 545.5,99.2 550.0,99.2 554.5,99.2 559.0,99.2 563.4,99.2 567.9,99.2 572.4,99.2 576.9,99.2 581.4,99.2 585.9,99.2 590.4,99.2 594.9,99.2 599.4,99.2 603.9,99.2 608.4,99.2 612.9,99.2 617.4,99.2 621.9,99.2 626.4,99.2 630.9,99.2 635.4,99.2 639.9,99.2 644.3,99.2 648.8,99.2 653.3,99.2 657.8,99.2 662.3,99.2 666.8,99.2 671.3,99.2 675.8,99.2 680.3,99.2" stroke="#b020d0" stroke-width="1.2" fill="none" stroke-linejoin="round"/>
<polyline points="399.4,174.7 400.5,174.3 401.6,173.4 402.8,172.4 403.9,171.1 405.0,169.7 406.1,168.2 407.3,166.6 408.4,164.9 409.5,163.1 410.6,161.3 415.1,153.7 419.6,146.0 424.1,138.7 428.6,132.0 433.1,126.1 437.6,120.9 442.1,116.6 446.6,113.0 451.1,110.1 455.6,107.7 460.1,105.9 464.6,104.5 469.1,103.4 473.6,102.5 478.1,101.9 482.5,101.5 487.0,101.1 491.5,100.9 496.0,100.7 500.5,100.6 505.0,100.5 509.5,100.5 514.0,100.4 518.5,100.4 523.0,100.4 527.5,100.4 532.0,100.4 536.5,100.4 541.0,100.3 545.5,100.3 550.0,100.3 554.5,100.3 559.0,100.3 563.4,100.3 567.9,100.3 572.4,100.3 576.9,100.3 581.4,100.3 585.9,100.3 590.4,100.3 594.9,100.3 599.4,100.3 603.9,100.3 608.4,100.3 612.9,100.3 617.4,100.3 621.9,100.3 626.4,100.3 630.9,100.3 635.4,100.3 639.9,100.3 644.3,100.3 648.8,100.3 653.3,100.3 657.8,100.3 662.3,100.3 666.8,100.3 671.3,100.3 675.8,100.3 680.3,100.3" stroke="#c0c040" stroke-width="1.2" fill="none" stroke-linejoin="round"/>
<rect x="399.4" y="14.3" width="280.9" height="175.2" fill="none" stroke="#707070" stroke-width="1.1"/>
<line x1="399.5" y1="27" x2="399.5" y2="175" stroke="#d8d870" stroke-width="1.2"/>
<line x1="399.9" y1="154.7" x2="399.9" y2="170.4" stroke="#5050e0" stroke-width="1"/>
<line x1="399.9" y1="158" x2="399.9" y2="165" stroke="#40a040" stroke-width="1"/>
<text x="396.5" y="192.09" font-family='"Liberation Sans", sans-serif' font-size="7.2" text-anchor="end" fill="#333" textLength="3.8" lengthAdjust="spacingAndGlyphs">0</text>
<text x="396.5" y="172.63" font-family='"Liberation Sans", sans-serif' font-size="7.2" text-anchor="end" fill="#333" textLength="7.6" lengthAdjust="spacingAndGlyphs">10</text>
<text x="396.5" y="153.16" font-family='"Liberation Sans", sans-serif' font-size="7.2" text-anchor="end" fill="#333" textLength="7.6" lengthAdjust="spacingAndGlyphs">20</text>
<text x="396.5" y="133.69" font-family='"Liberation Sans", sans-serif' font-size="7.2" text-anchor="end" fill="#333" textLength="7.6" lengthAdjust="spacingAndGlyphs">30</text>
<text x="396.5" y="114.23" font-family='"Liberation Sans", sans-serif' font-size="7.2" text-anchor="end" fill="#333" textLength="7.6" lengthAdjust="spacingAndGlyphs">40</text>
<text x="396.5" y="94.76" font-family='"Liberation Sans", sans-serif' font-size="7.2" text-anchor="end" fill="#333" textLength="7.6" lengthAdjust="spacingAndGlyphs">50</text>
<text x="396.5" y="75.29" font-family='"Liberation Sans", sans-serif' font-size="7.2" text-anchor="end" fill="#333" textLength="7.6" lengthAdjust="spacingAndGlyphs">60</text>
<text x="396.5" y="55.83" font-family='"Liberation Sans", sans-serif' font-size="7.2" text-anchor="end" fill="#333" textLength="7.6" lengthAdjust="spacingAndGlyphs">70</text>
<text x="396.5" y="36.36" font-family='"Liberation Sans", sans-serif' font-size="7.2" text-anchor="end" fill="#333" textLength="7.6" lengthAdjust="spacingAndGlyphs">80</text>
<text x="396.5" y="16.89" font-family='"Liberation Sans", sans-serif' font-size="7.2" text-anchor="end" fill="#333" textLength="7.6" lengthAdjust="spacingAndGlyphs">90</text>
<text x="399.4" y="197.49" font-family='"Liberation Sans", sans-serif' font-size="7.2" text-anchor="middle" fill="#333" textLength="3.8" lengthAdjust="spacingAndGlyphs">0</text>
<text x="455.58" y="197.49" font-family='"Liberation Sans", sans-serif' font-size="7.2" text-anchor="middle" fill="#333" textLength="3.8" lengthAdjust="spacingAndGlyphs">5</text>
<text x="511.76" y="197.49" font-family='"Liberation Sans", sans-serif' font-size="7.2" text-anchor="middle" fill="#333" textLength="7.6" lengthAdjust="spacingAndGlyphs">10</text>
<text x="567.94" y="197.49" font-family='"Liberation Sans", sans-serif' font-size="7.2" text-anchor="middle" fill="#333" textLength="7.6" lengthAdjust="spacingAndGlyphs">15</text>
<text x="624.12" y="197.49" font-family='"Liberation Sans", sans-serif' font-size="7.2" text-anchor="middle" fill="#333" textLength="7.6" lengthAdjust="spacingAndGlyphs">20</text>
<text x="680.3" y="197.49" font-family='"Liberation Sans", sans-serif' font-size="7.2" text-anchor="middle" fill="#333" textLength="7.6" lengthAdjust="spacingAndGlyphs">25</text>
<rect x="485.5" y="15.9" width="74" height="172" fill="#fff" stroke="#555" stroke-width="0.9"/>
<line x1="489.9" y1="20.5" x2="512.8" y2="20.5" stroke="#1a1aff" stroke-width="1"/>
<text x="515.2" y="22.88" font-family='"Liberation Sans", sans-serif' font-size="6.6" text-anchor="start" fill="#222" textLength="40.3" lengthAdjust="spacingAndGlyphs">T =  14.55°C</text>
<line x1="489.9" y1="29.02" x2="512.8" y2="29.02" stroke="#209020" stroke-width="1"/>
<text x="515.2" y="31.4" font-family='"Liberation Sans", sans-serif' font-size="6.6" text-anchor="start" fill="#222" textLength="40.3" lengthAdjust="spacingAndGlyphs">T =  15.62°C</text>
<line x1="489.9" y1="37.54" x2="512.8" y2="37.54" stroke="#e0e0e0" stroke-width="1"/>
<text x="515.2" y="39.92" font-family='"Liberation Sans", sans-serif' font-size="6.6" text-anchor="start" fill="#222" textLength="40.3" lengthAdjust="spacingAndGlyphs">T =  16.62°C</text>
<line x1="489.9" y1="46.06" x2="512.8" y2="46.06" stroke="#c8dcc8" stroke-width="1"/>
<text x="515.2" y="48.44" font-family='"Liberation Sans", sans-serif' font-size="6.6" text-anchor="start" fill="#222" textLength="40.3" lengthAdjust="spacingAndGlyphs">T =  17.57°C</text>
<line x1="489.9" y1="54.58" x2="512.8" y2="54.58" stroke="#d050d0" stroke-width="1"/>
<text x="515.2" y="56.96" font-family='"Liberation Sans", sans-serif' font-size="6.6" text-anchor="start" fill="#222" textLength="40.3" lengthAdjust="spacingAndGlyphs">T =  18.53°C</text>
<line x1="489.9" y1="63.1" x2="512.8" y2="63.1" stroke="#b8b820" stroke-width="1"/>
<text x="515.2" y="65.48" font-family='"Liberation Sans", sans-serif' font-size="6.6" text-anchor="start" fill="#222" textLength="40.3" lengthAdjust="spacingAndGlyphs">T =  19.42°C</text>
<line x1="489.9" y1="71.62" x2="512.8" y2="71.62" stroke="#606060" stroke-width="1"/>
<text x="515.2" y="74" font-family='"Liberation Sans", sans-serif' font-size="6.6" text-anchor="start" fill="#222" textLength="40.3" lengthAdjust="spacingAndGlyphs">T =  20.60°C</text>
<line x1="489.9" y1="80.14" x2="512.8" y2="80.14" stroke="#ffff20" stroke-width="1"/>
<text x="515.2" y="82.52" font-family='"Liberation Sans", sans-serif' font-size="6.6" text-anchor="start" fill="#222" textLength="40.3" lengthAdjust="spacingAndGlyphs">T =  21.52°C</text>
<line x1="489.9" y1="88.66" x2="512.8" y2="88.66" stroke="#40f0f0" stroke-width="1"/>
<text x="515.2" y="91.04" font-family='"Liberation Sans", sans-serif' font-size="6.6" text-anchor="start" fill="#222" textLength="40.3" lengthAdjust="spacingAndGlyphs">T =  22.50°C</text>
<line x1="489.9" y1="97.18" x2="512.8" y2="97.18" stroke="#707070" stroke-width="1"/>
<text x="515.2" y="99.56" font-family='"Liberation Sans", sans-serif' font-size="6.6" text-anchor="start" fill="#222" textLength="40.3" lengthAdjust="spacingAndGlyphs">T =  23.65°C</text>
<line x1="489.9" y1="105.7" x2="512.8" y2="105.7" stroke="#40c8d0" stroke-width="1"/>
<text x="515.2" y="108.08" font-family='"Liberation Sans", sans-serif' font-size="6.6" text-anchor="start" fill="#222" textLength="40.3" lengthAdjust="spacingAndGlyphs">T =  24.72°C</text>
<line x1="489.9" y1="114.22" x2="512.8" y2="114.22" stroke="#b020d0" stroke-width="1"/>
<text x="515.2" y="116.6" font-family='"Liberation Sans", sans-serif' font-size="6.6" text-anchor="start" fill="#222" textLength="40.3" lengthAdjust="spacingAndGlyphs">T =  25.30°C</text>
<line x1="489.9" y1="122.74" x2="512.8" y2="122.74" stroke="#c8c840" stroke-width="1"/>
<text x="515.2" y="125.12" font-family='"Liberation Sans", sans-serif' font-size="6.6" text-anchor="start" fill="#222" textLength="40.3" lengthAdjust="spacingAndGlyphs">T =  26.62°C</text>
<line x1="489.9" y1="131.26" x2="512.8" y2="131.26" stroke="#505050" stroke-width="1"/>
<text x="515.2" y="133.64" font-family='"Liberation Sans", sans-serif' font-size="6.6" text-anchor="start" fill="#222" textLength="40.3" lengthAdjust="spacingAndGlyphs">T =  27.55°C</text>
<line x1="489.9" y1="139.78" x2="512.8" y2="139.78" stroke="#f0a050" stroke-width="1"/>
<text x="515.2" y="142.16" font-family='"Liberation Sans", sans-serif' font-size="6.6" text-anchor="start" fill="#222" textLength="40.3" lengthAdjust="spacingAndGlyphs">T =  28.37°C</text>
<line x1="489.9" y1="148.3" x2="512.8" y2="148.3" stroke="#209020" stroke-width="1"/>
<text x="515.2" y="150.68" font-family='"Liberation Sans", sans-serif' font-size="6.6" text-anchor="start" fill="#222" textLength="40.3" lengthAdjust="spacingAndGlyphs">T =  29.65°C</text>
<line x1="489.9" y1="156.82" x2="512.8" y2="156.82" stroke="#f06060" stroke-width="1"/>
<text x="515.2" y="159.2" font-family='"Liberation Sans", sans-serif' font-size="6.6" text-anchor="start" fill="#222" textLength="40.3" lengthAdjust="spacingAndGlyphs">T =  31.55°C</text>
<line x1="489.9" y1="165.34" x2="512.8" y2="165.34" stroke="#30c0d0" stroke-width="1"/>
<text x="515.2" y="167.72" font-family='"Liberation Sans", sans-serif' font-size="6.6" text-anchor="start" fill="#222" textLength="40.3" lengthAdjust="spacingAndGlyphs">T =  32.57°C</text>
<line x1="489.9" y1="173.86" x2="512.8" y2="173.86" stroke="#b020d0" stroke-width="1"/>
<text x="515.2" y="176.24" font-family='"Liberation Sans", sans-serif' font-size="6.6" text-anchor="start" fill="#222" textLength="40.3" lengthAdjust="spacingAndGlyphs">T =  33.35°C</text>
<line x1="489.9" y1="182.38" x2="512.8" y2="182.38" stroke="#c0c040" stroke-width="1"/>
<text x="515.2" y="184.76" font-family='"Liberation Sans", sans-serif' font-size="6.6" text-anchor="start" fill="#222" textLength="40.3" lengthAdjust="spacingAndGlyphs">T =  34.35°C</text>
<text x="534.9" y="6.4" font-family='"Liberation Serif", serif' font-size="7.8" font-weight="normal" text-anchor="middle" fill="#1a1a1a" stroke="#1a1a1a" stroke-width="0.12" textLength="154.8" lengthAdjust="spacingAndGlyphs">L<tspan font-size="5.62" dy="2.96">4</tspan><tspan dy="-2.96">(t) vs Time for Different Temperatures</tspan></text>
<text x="538.6" y="205.7" font-family='"Liberation Serif", serif' font-size="7.6" text-anchor="middle" fill="#222" textLength="46.7" lengthAdjust="spacingAndGlyphs" stroke="#222" stroke-width="0.12">Time (days)</text>
<text transform="translate(383,99) rotate(-90)" font-family='"Liberation Serif", serif' font-size="9.4" text-anchor="middle" fill="#333" textLength="139.7" lengthAdjust="spacingAndGlyphs">Cummulative NUmber of Larval Stage Four</text>
<text x="350.8" y="210" font-family='"Liberation Serif", serif' font-size="23.4" text-anchor="start" fill="#000">D.</text>
<path d="M454.02 240.5V431.5M509.64 240.5V431.5M565.26 240.5V431.5M620.88 240.5V431.5M398.4 404.21H676.5M398.4 376.93H676.5M398.4 349.64H676.5M398.4 322.36H676.5M398.4 295.07H676.5M398.4 267.79H676.5" stroke="#888" stroke-width="0.8" stroke-dasharray="1.5,1" fill="none"/>
<polyline points="398.4,425.8 399.5,425.7 400.6,425.7 401.7,425.6 402.8,425.6 404.0,425.5 405.1,425.4 406.2,425.3 407.3,425.3 408.4,425.2 409.5,425.1 414.0,424.7 418.4,424.3 422.9,423.9 427.3,423.5 431.8,423.2 436.2,422.9 440.7,422.6 445.1,422.4 449.6,422.2 454.0,422.1 458.5,421.9 462.9,421.8 467.4,421.7 471.8,421.7 476.3,421.6 480.7,421.6 485.2,421.6 489.6,421.5 494.1,421.5 498.5,421.5 503.0,421.5 507.4,421.5 511.9,421.5 516.3,421.5 520.8,421.5 525.2,421.5 529.7,421.5 534.1,421.5 538.6,421.5 543.0,421.5 547.5,421.5 551.9,421.5 556.4,421.5 560.8,421.5 565.3,421.5 569.7,421.5 574.2,421.5 578.6,421.5 583.1,421.5 587.5,421.5 592.0,421.5 596.4,421.5 600.9,421.5 605.3,421.5 609.8,421.5 614.2,421.5 618.7,421.5 623.1,421.5 627.6,421.5 632.0,421.5 636.5,421.5 640.9,421.5 645.4,421.5 649.8,421.5 654.3,421.5 658.7,421.5 663.2,421.5 667.6,421.5 672.1,421.5 676.5,421.5" stroke="#3a3af0" stroke-width="1.3" fill="none" stroke-linejoin="round"/>
<polyline points="398.4,425.8 399.5,425.6 400.6,425.4 401.7,425.3 402.8,425.1 404.0,424.9 405.1,424.7 406.2,424.5 407.3,424.4 408.4,424.2 409.5,424.0 414.0,423.4 418.4,422.8 422.9,422.3 427.3,421.8 431.8,421.3 436.2,420.9 440.7,420.5 445.1,420.2 449.6,419.9 454.0,419.6 458.5,419.4 462.9,419.1 467.4,418.9 471.8,418.8 476.3,418.6 480.7,418.4 485.2,418.3 489.6,418.2 494.1,418.1 498.5,418.0 503.0,417.9 507.4,417.8 511.9,417.8 516.3,417.7 520.8,417.6 525.2,417.6 529.7,417.5 534.1,417.5 538.6,417.5 543.0,417.4 547.5,417.4 551.9,417.4 556.4,417.4 560.8,417.3 565.3,417.3 569.7,417.3 574.2,417.3 578.6,417.3 583.1,417.3 587.5,417.3 592.0,417.2 596.4,417.2 600.9,417.2 605.3,417.2 609.8,417.2 614.2,417.2 618.7,417.2 623.1,417.2 627.6,417.2 632.0,417.2 636.5,417.2 640.9,417.2 645.4,417.2 649.8,417.2 654.3,417.2 658.7,417.2 663.2,417.2 667.6,417.2 672.1,417.2 676.5,417.2" stroke="#40a040" stroke-width="1.3" fill="none" stroke-linejoin="round"/>
<polyline points="398.4,425.8 399.5,425.6 400.6,425.3 401.7,425.1 402.8,424.8 404.0,424.5 405.1,424.2 406.2,423.9 407.3,423.6 408.4,423.3 409.5,423.0 414.0,421.9 418.4,420.8 422.9,419.9 427.3,419.0 431.8,418.2 436.2,417.5 440.7,416.9 445.1,416.4 449.6,415.9 454.0,415.5 458.5,415.1 462.9,414.8 467.4,414.6 471.8,414.4 476.3,414.2 480.7,414.0 485.2,413.9 489.6,413.8 494.1,413.7 498.5,413.6 503.0,413.5 507.4,413.5 511.9,413.4 516.3,413.4 520.8,413.4 525.2,413.3 529.7,413.3 534.1,413.3 538.6,413.3 543.0,413.3 547.5,413.3 551.9,413.2 556.4,413.2 560.8,413.2 565.3,413.2 569.7,413.2 574.2,413.2 578.6,413.2 583.1,413.2 587.5,413.2 592.0,413.2 596.4,413.2 600.9,413.2 605.3,413.2 609.8,413.2 614.2,413.2 618.7,413.2 623.1,413.2 627.6,413.2 632.0,413.2 636.5,413.2 640.9,413.2 645.4,413.2 649.8,413.2 654.3,413.2 658.7,413.2 663.2,413.2 667.6,413.2 672.1,413.2 676.5,413.2" stroke="#e0e0e0" stroke-width="1.3" fill="none" stroke-linejoin="round"/>
<polyline points="398.4,425.8 399.5,425.4 400.6,425.0 401.7,424.5 402.8,424.1 404.0,423.7 405.1,423.3 406.2,422.8 407.3,422.4 408.4,422.0 409.5,421.6 414.0,420.1 418.4,418.7 422.9,417.5 427.3,416.3 431.8,415.3 436.2,414.5 440.7,413.7 445.1,413.0 449.6,412.4 454.0,411.8 458.5,411.4 462.9,410.9 467.4,410.6 471.8,410.3 476.3,410.0 480.7,409.7 485.2,409.5 489.6,409.4 494.1,409.2 498.5,409.1 503.0,408.9 507.4,408.8 511.9,408.7 516.3,408.7 520.8,408.6 525.2,408.5 529.7,408.5 534.1,408.4 538.6,408.4 543.0,408.4 547.5,408.3 551.9,408.3 556.4,408.3 560.8,408.3 565.3,408.3 569.7,408.2 574.2,408.2 578.6,408.2 583.1,408.2 587.5,408.2 592.0,408.2 596.4,408.2 600.9,408.2 605.3,408.2 609.8,408.2 614.2,408.2 618.7,408.2 623.1,408.2 627.6,408.2 632.0,408.2 636.5,408.2 640.9,408.2 645.4,408.2 649.8,408.2 654.3,408.2 658.7,408.2 663.2,408.2 667.6,408.2 672.1,408.2 676.5,408.2" stroke="#40c8c8" stroke-width="1.3" fill="none" stroke-linejoin="round"/>
<polyline points="398.4,425.8 399.5,425.2 400.6,424.6 401.7,424.1 402.8,423.5 404.0,423.0 405.1,422.4 406.2,421.9 407.3,421.4 408.4,420.9 409.5,420.4 414.0,418.6 418.4,416.9 422.9,415.4 427.3,414.1 431.8,412.9 436.2,411.8 440.7,410.8 445.1,409.9 449.6,409.1 454.0,408.4 458.5,407.7 462.9,407.2 467.4,406.6 471.8,406.2 476.3,405.8 480.7,405.4 485.2,405.0 489.6,404.7 494.1,404.5 498.5,404.2 503.0,404.0 507.4,403.8 511.9,403.6 516.3,403.5 520.8,403.3 525.2,403.2 529.7,403.1 534.1,403.0 538.6,402.9 543.0,402.8 547.5,402.7 551.9,402.6 556.4,402.6 560.8,402.5 565.3,402.5 569.7,402.4 574.2,402.4 578.6,402.4 583.1,402.3 587.5,402.3 592.0,402.3 596.4,402.3 600.9,402.2 605.3,402.2 609.8,402.2 614.2,402.2 618.7,402.2 623.1,402.2 627.6,402.2 632.0,402.2 636.5,402.1 640.9,402.1 645.4,402.1 649.8,402.1 654.3,402.1 658.7,402.1 663.2,402.1 667.6,402.1 672.1,402.1 676.5,402.1" stroke="#c040d0" stroke-width="1.3" fill="none" stroke-linejoin="round"/>
<polyline points="398.4,425.8 399.5,424.8 400.6,423.9 401.7,423.0 402.8,422.2 404.0,421.4 405.1,420.7 406.2,420.0 407.3,419.3 408.4,418.6 409.5,418.0 414.0,415.6 418.4,413.5 422.9,411.6 427.3,409.9 431.8,408.4 436.2,407.1 440.7,405.9 445.1,404.8 449.6,403.9 454.0,403.0 458.5,402.2 462.9,401.5 467.4,400.9 471.8,400.3 476.3,399.8 480.7,399.4 485.2,399.0 489.6,398.6 494.1,398.2 498.5,397.9 503.0,397.7 507.4,397.4 511.9,397.2 516.3,397.0 520.8,396.8 525.2,396.6 529.7,396.5 534.1,396.3 538.6,396.2 543.0,396.1 547.5,396.0 551.9,395.9 556.4,395.8 560.8,395.8 565.3,395.7 569.7,395.6 574.2,395.6 578.6,395.5 583.1,395.5 587.5,395.4 592.0,395.4 596.4,395.4 600.9,395.3 605.3,395.3 609.8,395.3 614.2,395.3 618.7,395.2 623.1,395.2 627.6,395.2 632.0,395.2 636.5,395.2 640.9,395.2 645.4,395.1 649.8,395.1 654.3,395.1 658.7,395.1 663.2,395.1 667.6,395.1 672.1,395.1 676.5,395.1" stroke="#c0c040" stroke-width="1.3" fill="none" stroke-linejoin="round"/>
<polyline points="398.4,425.8 399.5,424.6 400.6,423.6 401.7,422.6 402.8,421.6 404.0,420.6 405.1,419.7 406.2,418.8 407.3,417.9 408.4,417.1 409.5,416.3 414.0,413.2 418.4,410.4 422.9,407.9 427.3,405.7 431.8,403.6 436.2,401.8 440.7,400.1 445.1,398.6 449.6,397.3 454.0,396.0 458.5,394.9 462.9,393.9 467.4,392.9 471.8,392.1 476.3,391.3 480.7,390.6 485.2,390.0 489.6,389.4 494.1,388.9 498.5,388.4 503.0,388.0 507.4,387.6 511.9,387.3 516.3,386.9 520.8,386.6 525.2,386.4 529.7,386.1 534.1,385.9 538.6,385.7 543.0,385.5 547.5,385.4 551.9,385.2 556.4,385.1 560.8,384.9 565.3,384.8 569.7,384.7 574.2,384.6 578.6,384.5 583.1,384.4 587.5,384.4 592.0,384.3 596.4,384.2 600.9,384.2 605.3,384.1 609.8,384.1 614.2,384.1 618.7,384.0 623.1,384.0 627.6,384.0 632.0,383.9 636.5,383.9 640.9,383.9 645.4,383.9 649.8,383.8 654.3,383.8 658.7,383.8 663.2,383.8 667.6,383.8 672.1,383.8 676.5,383.7" stroke="#505050" stroke-width="1.3" fill="none" stroke-linejoin="round"/>
<polyline points="398.4,425.8 399.5,424.6 400.6,423.4 401.7,422.3 402.8,421.2 404.0,420.2 405.1,419.1 406.2,418.1 407.3,417.1 408.4,416.2 409.5,415.2 414.0,411.6 418.4,408.4 422.9,405.4 427.3,402.6 431.8,400.1 436.2,397.8 440.7,395.7 445.1,393.8 449.6,392.0 454.0,390.4 458.5,389.0 462.9,387.6 467.4,386.4 471.8,385.2 476.3,384.2 480.7,383.3 485.2,382.4 489.6,381.6 494.1,380.9 498.5,380.2 503.0,379.6 507.4,379.0 511.9,378.5 516.3,378.1 520.8,377.6 525.2,377.2 529.7,376.9 534.1,376.5 538.6,376.2 543.0,376.0 547.5,375.7 551.9,375.5 556.4,375.3 560.8,375.1 565.3,374.9 569.7,374.7 574.2,374.6 578.6,374.4 583.1,374.3 587.5,374.2 592.0,374.1 596.4,374.0 600.9,373.9 605.3,373.8 609.8,373.7 614.2,373.7 618.7,373.6 623.1,373.6 627.6,373.5 632.0,373.5 636.5,373.4 640.9,373.4 645.4,373.3 649.8,373.3 654.3,373.3 658.7,373.2 663.2,373.2 667.6,373.2 672.1,373.2 676.5,373.1" stroke="#40c8c8" stroke-width="1.3" fill="none" stroke-linejoin="round"/>
<polyline points="398.4,425.8 399.5,424.8 400.6,423.6 401.7,422.5 402.8,421.3 404.0,420.2 405.1,419.0 406.2,417.9 407.3,416.7 408.4,415.6 409.5,414.5 414.0,410.1 418.4,406.0 422.9,402.1 427.3,398.6 431.8,395.2 436.2,392.2 440.7,389.3 445.1,386.7 449.6,384.3 454.0,382.1 458.5,380.1 462.9,378.2 467.4,376.5 471.8,375.0 476.3,373.6 480.7,372.3 485.2,371.1 489.6,370.0 494.1,369.0 498.5,368.1 503.0,367.3 507.4,366.6 511.9,365.9 516.3,365.3 520.8,364.7 525.2,364.2 529.7,363.8 534.1,363.4 538.6,363.0 543.0,362.7 547.5,362.3 551.9,362.1 556.4,361.8 560.8,361.6 565.3,361.4 569.7,361.2 574.2,361.0 578.6,360.9 583.1,360.7 587.5,360.6 592.0,360.5 596.4,360.4 600.9,360.3 605.3,360.2 609.8,360.1 614.2,360.1 618.7,360.0 623.1,360.0 627.6,359.9 632.0,359.9 636.5,359.8 640.9,359.8 645.4,359.7 649.8,359.7 654.3,359.7 658.7,359.7 663.2,359.6 667.6,359.6 672.1,359.6 676.5,359.6" stroke="#40a040" stroke-width="1.3" fill="none" stroke-linejoin="round"/>
<polyline points="398.4,425.8 399.5,424.8 400.6,423.6 401.7,422.4 402.8,421.1 404.0,419.8 405.1,418.5 406.2,417.1 407.3,415.8 408.4,414.5 409.5,413.1 414.0,407.9 418.4,402.8 422.9,398.0 427.3,393.5 431.8,389.2 436.2,385.3 440.7,381.6 445.1,378.1 449.6,375.0 454.0,372.0 458.5,369.3 462.9,366.9 467.4,364.6 471.8,362.5 476.3,360.6 480.7,358.9 485.2,357.3 489.6,355.8 494.1,354.5 498.5,353.3 503.0,352.2 507.4,351.2 511.9,350.3 516.3,349.5 520.8,348.8 525.2,348.1 529.7,347.5 534.1,347.0 538.6,346.5 543.0,346.0 547.5,345.6 551.9,345.2 556.4,344.9 560.8,344.6 565.3,344.4 569.7,344.1 574.2,343.9 578.6,343.7 583.1,343.5 587.5,343.4 592.0,343.2 596.4,343.1 600.9,343.0 605.3,342.9 609.8,342.8 614.2,342.7 618.7,342.7 623.1,342.6 627.6,342.5 632.0,342.5 636.5,342.4 640.9,342.4 645.4,342.4 649.8,342.3 654.3,342.3 658.7,342.3 663.2,342.3 667.6,342.2 672.1,342.2 676.5,342.2" stroke="#40f0f0" stroke-width="1.3" fill="none" stroke-linejoin="round"/>
<polyline points="398.4,425.8 399.5,424.5 400.6,423.0 401.7,421.5 402.8,420.0 404.0,418.4 405.1,416.9 406.2,415.3 407.3,413.8 408.4,412.3 409.5,410.8 414.0,404.9 418.4,399.2 422.9,393.9 427.3,388.8 431.8,384.0 436.2,379.6 440.7,375.4 445.1,371.5 449.6,367.8 454.0,364.4 458.5,361.3 462.9,358.3 467.4,355.6 471.8,353.1 476.3,350.7 480.7,348.5 485.2,346.5 489.6,344.6 494.1,342.9 498.5,341.3 503.0,339.8 507.4,338.5 511.9,337.2 516.3,336.0 520.8,335.0 525.2,334.0 529.7,333.1 534.1,332.2 538.6,331.4 543.0,330.7 547.5,330.1 551.9,329.5 556.4,328.9 560.8,328.4 565.3,327.9 569.7,327.5 574.2,327.1 578.6,326.7 583.1,326.4 587.5,326.1 592.0,325.8 596.4,325.6 600.9,325.3 605.3,325.1 609.8,324.9 614.2,324.7 618.7,324.5 623.1,324.4 627.6,324.2 632.0,324.1 636.5,324.0 640.9,323.9 645.4,323.8 649.8,323.7 654.3,323.6 658.7,323.5 663.2,323.5 667.6,323.4 672.1,323.3 676.5,323.3" stroke="#40c8c8" stroke-width="1.3" fill="none" stroke-linejoin="round"/>
<polyline points="398.4,425.8 399.5,423.7 400.6,421.7 401.7,419.7 402.8,417.8 404.0,415.9 405.1,414.0 406.2,412.2 407.3,410.4 408.4,408.6 409.5,406.9 414.0,400.2 418.4,394.0 422.9,388.3 427.3,382.9 431.8,378.0 436.2,373.3 440.7,369.0 445.1,365.0 449.6,361.3 454.0,357.9 458.5,354.7 462.9,351.7 467.4,348.9 471.8,346.3 476.3,343.9 480.7,341.7 485.2,339.6 489.6,337.7 494.1,335.9 498.5,334.2 503.0,332.6 507.4,331.2 511.9,329.9 516.3,328.6 520.8,327.4 525.2,326.4 529.7,325.4 534.1,324.4 538.6,323.6 543.0,322.7 547.5,322.0 551.9,321.3 556.4,320.6 560.8,320.0 565.3,319.5 569.7,319.0 574.2,318.5 578.6,318.0 583.1,317.6 587.5,317.2 592.0,316.9 596.4,316.5 600.9,316.2 605.3,315.9 609.8,315.6 614.2,315.4 618.7,315.1 623.1,314.9 627.6,314.7 632.0,314.5 636.5,314.4 640.9,314.2 645.4,314.0 649.8,313.9 654.3,313.8 658.7,313.7 663.2,313.5 667.6,313.4 672.1,313.3 676.5,313.2" stroke="#c040d0" stroke-width="1.3" fill="none" stroke-linejoin="round"/>
<polyline points="398.4,425.8 399.5,423.4 400.6,421.0 401.7,418.7 402.8,416.4 404.0,414.1 405.1,411.9 406.2,409.7 407.3,407.5 408.4,405.4 409.5,403.3 414.0,395.3 418.4,387.9 422.9,381.0 427.3,374.5 431.8,368.5 436.2,363.0 440.7,357.8 445.1,353.0 449.6,348.6 454.0,344.4 458.5,340.6 462.9,337.0 467.4,333.7 471.8,330.6 476.3,327.8 480.7,325.1 485.2,322.7 489.6,320.4 494.1,318.3 498.5,316.3 503.0,314.5 507.4,312.8 511.9,311.3 516.3,309.8 520.8,308.5 525.2,307.2 529.7,306.1 534.1,305.0 538.6,304.0 543.0,303.1 547.5,302.2 551.9,301.4 556.4,300.7 560.8,300.0 565.3,299.4 569.7,298.8 574.2,298.3 578.6,297.8 583.1,297.3 587.5,296.9 592.0,296.5 596.4,296.1 600.9,295.8 605.3,295.4 609.8,295.2 614.2,294.9 618.7,294.6 623.1,294.4 627.6,294.2 632.0,294.0 636.5,293.8 640.9,293.6 645.4,293.5 649.8,293.3 654.3,293.2 658.7,293.0 663.2,292.9 667.6,292.8 672.1,292.7 676.5,292.6" stroke="#c0c040" stroke-width="1.3" fill="none" stroke-linejoin="round"/>
<polyline points="398.4,425.8 399.5,423.4 400.6,420.9 401.7,418.5 402.8,416.0 404.0,413.6 405.1,411.2 406.2,408.8 407.3,406.5 408.4,404.1 409.5,401.8 414.0,393.0 418.4,384.8 422.9,377.0 427.3,369.8 431.8,363.1 436.2,356.9 440.7,351.1 445.1,345.7 449.6,340.7 454.0,336.1 458.5,331.8 462.9,327.8 467.4,324.1 471.8,320.7 476.3,317.6 480.7,314.6 485.2,311.9 489.6,309.5 494.1,307.2 498.5,305.0 503.0,303.1 507.4,301.2 511.9,299.6 516.3,298.0 520.8,296.6 525.2,295.3 529.7,294.0 534.1,292.9 538.6,291.9 543.0,290.9 547.5,290.1 551.9,289.2 556.4,288.5 560.8,287.8 565.3,287.2 569.7,286.6 574.2,286.0 578.6,285.5 583.1,285.1 587.5,284.7 592.0,284.3 596.4,283.9 600.9,283.6 605.3,283.3 609.8,283.0 614.2,282.7 618.7,282.5 623.1,282.3 627.6,282.1 632.0,281.9 636.5,281.7 640.9,281.6 645.4,281.4 649.8,281.3 654.3,281.2 658.7,281.1 663.2,281.0 667.6,280.9 672.1,280.8 676.5,280.7" stroke="#606060" stroke-width="1.3" fill="none" stroke-linejoin="round"/>
<polyline points="398.4,425.8 399.5,423.4 400.6,420.9 401.7,418.3 402.8,415.8 404.0,413.2 405.1,410.6 406.2,408.1 407.3,405.6 408.4,403.1 409.5,400.7 414.0,391.2 418.4,382.2 422.9,373.9 427.3,366.1 431.8,358.8 436.2,352.0 440.7,345.8 445.1,340.0 449.6,334.6 454.0,329.7 458.5,325.1 462.9,320.9 467.4,317.1 471.8,313.5 476.3,310.2 480.7,307.2 485.2,304.4 489.6,301.9 494.1,299.5 498.5,297.4 503.0,295.4 507.4,293.6 511.9,291.9 516.3,290.4 520.8,289.0 525.2,287.8 529.7,286.6 534.1,285.5 538.6,284.6 543.0,283.7 547.5,282.8 551.9,282.1 556.4,281.4 560.8,280.8 565.3,280.2 569.7,279.7 574.2,279.2 578.6,278.8 583.1,278.4 587.5,278.0 592.0,277.7 596.4,277.4 600.9,277.1 605.3,276.9 609.8,276.6 614.2,276.4 618.7,276.2 623.1,276.1 627.6,275.9 632.0,275.8 636.5,275.6 640.9,275.5 645.4,275.4 649.8,275.3 654.3,275.2 658.7,275.1 663.2,275.0 667.6,275.0 672.1,274.9 676.5,274.9" stroke="#c0c040" stroke-width="1.3" fill="none" stroke-linejoin="round"/>
<polyline points="398.4,425.8 399.5,423.3 400.6,420.6 401.7,417.8 402.8,415.0 404.0,412.2 405.1,409.4 406.2,406.6 407.3,403.8 408.4,401.1 409.5,398.4 414.0,388.0 418.4,378.2 422.9,369.0 427.3,360.5 431.8,352.6 436.2,345.3 440.7,338.6 445.1,332.4 449.6,326.7 454.0,321.4 458.5,316.6 462.9,312.2 467.4,308.2 471.8,304.5 476.3,301.1 480.7,298.1 485.2,295.3 489.6,292.7 494.1,290.4 498.5,288.2 503.0,286.3 507.4,284.5 511.9,282.9 516.3,281.5 520.8,280.1 525.2,278.9 529.7,277.8 534.1,276.9 538.6,275.9 543.0,275.1 547.5,274.4 551.9,273.7 556.4,273.1 560.8,272.5 565.3,272.0 569.7,271.6 574.2,271.2 578.6,270.8 583.1,270.5 587.5,270.2 592.0,269.9 596.4,269.6 600.9,269.4 605.3,269.2 609.8,269.0 614.2,268.9 618.7,268.7 623.1,268.6 627.6,268.5 632.0,268.3 636.5,268.2 640.9,268.1 645.4,268.1 649.8,268.0 654.3,267.9 658.7,267.9 663.2,267.8 667.6,267.8 672.1,267.7 676.5,267.7" stroke="#202020" stroke-width="1.3" fill="none" stroke-linejoin="round"/>
<polyline points="398.4,425.8 399.5,422.2 400.6,418.7 401.7,415.1 402.8,411.6 404.0,408.2 405.1,404.8 406.2,401.6 407.3,398.3 408.4,395.2 409.5,392.1 414.0,380.5 418.4,369.9 422.9,360.3 427.3,351.6 431.8,343.7 436.2,336.6 440.7,330.2 445.1,324.4 449.6,319.1 454.0,314.4 458.5,310.2 462.9,306.4 467.4,302.9 471.8,299.8 476.3,297.0 480.7,294.5 485.2,292.2 489.6,290.2 494.1,288.4 498.5,286.8 503.0,285.3 507.4,284.0 511.9,282.8 516.3,281.7 520.8,280.7 525.2,279.9 529.7,279.1 534.1,278.4 538.6,277.8 543.0,277.2 547.5,276.7 551.9,276.3 556.4,275.9 560.8,275.5 565.3,275.2 569.7,274.9 574.2,274.6 578.6,274.4 583.1,274.2 587.5,274.0 592.0,273.8 596.4,273.7 600.9,273.5 605.3,273.4 609.8,273.3 614.2,273.2 618.7,273.1 623.1,273.0 627.6,273.0 632.0,272.9 636.5,272.8 640.9,272.8 645.4,272.7 649.8,272.7 654.3,272.7 658.7,272.6 663.2,272.6 667.6,272.6 672.1,272.6 676.5,272.5" stroke="#f03030" stroke-width="1.3" fill="none" stroke-linejoin="round"/>
<polyline points="398.4,425.8 399.5,422.0 400.6,418.1 401.7,414.4 402.8,410.7 404.0,407.0 405.1,403.5 406.2,400.0 407.3,396.6 408.4,393.3 409.5,390.1 414.0,378.0 418.4,367.2 422.9,357.4 427.3,348.7 431.8,341.0 436.2,334.0 440.7,327.8 445.1,322.3 449.6,317.4 454.0,313.0 458.5,309.1 462.9,305.6 467.4,302.5 471.8,299.7 476.3,297.3 480.7,295.1 485.2,293.2 489.6,291.4 494.1,289.9 498.5,288.6 503.0,287.4 507.4,286.3 511.9,285.3 516.3,284.5 520.8,283.8 525.2,283.1 529.7,282.5 534.1,282.0 538.6,281.5 543.0,281.1 547.5,280.7 551.9,280.4 556.4,280.1 560.8,279.9 565.3,279.7 569.7,279.5 574.2,279.3 578.6,279.1 583.1,279.0 587.5,278.9 592.0,278.8 596.4,278.7 600.9,278.6 605.3,278.5 609.8,278.4 614.2,278.4 618.7,278.3 623.1,278.3 627.6,278.2 632.0,278.2 636.5,278.2 640.9,278.1 645.4,278.1 649.8,278.1 654.3,278.1 658.7,278.1 663.2,278.0 667.6,278.0 672.1,278.0 676.5,278.0" stroke="#40c0c0" stroke-width="1.3" fill="none" stroke-linejoin="round"/>
<polyline points="398.4,425.8 399.5,421.8 400.6,417.9 401.7,413.9 402.8,410.1 404.0,406.3 405.1,402.7 406.2,399.1 407.3,395.6 408.4,392.2 409.5,388.9 414.0,376.6 418.4,365.6 422.9,355.9 427.3,347.3 431.8,339.6 436.2,332.9 440.7,326.9 445.1,321.7 449.6,317.0 454.0,313.0 458.5,309.4 462.9,306.2 467.4,303.4 471.8,300.9 476.3,298.8 480.7,296.9 485.2,295.2 489.6,293.8 494.1,292.5 498.5,291.3 503.0,290.3 507.4,289.5 511.9,288.7 516.3,288.0 520.8,287.4 525.2,286.9 529.7,286.5 534.1,286.1 538.6,285.7 543.0,285.4 547.5,285.2 551.9,284.9 556.4,284.7 560.8,284.5 565.3,284.4 569.7,284.2 574.2,284.1 578.6,284.0 583.1,283.9 587.5,283.8 592.0,283.8 596.4,283.7 600.9,283.7 605.3,283.6 609.8,283.6 614.2,283.5 618.7,283.5 623.1,283.5 627.6,283.4 632.0,283.4 636.5,283.4 640.9,283.4 645.4,283.4 649.8,283.4 654.3,283.4 658.7,283.3 663.2,283.3 667.6,283.3 672.1,283.3 676.5,283.3" stroke="#b040d0" stroke-width="1.3" fill="none" stroke-linejoin="round"/>
<polyline points="398.4,425.8 399.5,422.1 400.6,418.2 401.7,414.3 402.8,410.4 404.0,406.5 405.1,402.8 406.2,399.1 407.3,395.5 408.4,391.9 409.5,388.5 414.0,375.8 418.4,364.5 422.9,354.5 427.3,345.8 431.8,338.3 436.2,331.7 440.7,326.0 445.1,321.1 449.6,316.9 454.0,313.2 458.5,310.1 462.9,307.4 467.4,305.1 471.8,303.1 476.3,301.4 480.7,299.9 485.2,298.7 489.6,297.6 494.1,296.7 498.5,296.0 503.0,295.3 507.4,294.8 511.9,294.3 516.3,293.9 520.8,293.5 525.2,293.2 529.7,293.0 534.1,292.8 538.6,292.6 543.0,292.5 547.5,292.3 551.9,292.2 556.4,292.1 560.8,292.0 565.3,292.0 569.7,291.9 574.2,291.9 578.6,291.8 583.1,291.8 587.5,291.8 592.0,291.8 596.4,291.7 600.9,291.7 605.3,291.7 609.8,291.7 614.2,291.7 618.7,291.7 623.1,291.7 627.6,291.7 632.0,291.6 636.5,291.6 640.9,291.6 645.4,291.6 649.8,291.6 654.3,291.6 658.7,291.6 663.2,291.6 667.6,291.6 672.1,291.6 676.5,291.6" stroke="#c0c040" stroke-width="1.3" fill="none" stroke-linejoin="round"/>
<rect x="398.4" y="240.5" width="278.1" height="191" fill="none" stroke="#707070" stroke-width="1.2"/>
<line x1="398.4" y1="240.5" x2="676.5" y2="240.5" stroke="#222" stroke-width="1.1" stroke-dasharray="2,1.2"/>
<text x="395.9" y="433.88" font-family='"Liberation Serif", serif' font-size="6.6" text-anchor="end" fill="#555" textLength="3" lengthAdjust="spacingAndGlyphs">0</text>
<text x="395.9" y="406.59" font-family='"Liberation Serif", serif' font-size="6.6" text-anchor="end" fill="#555" textLength="9" lengthAdjust="spacingAndGlyphs">500</text>
<text x="395.9" y="379.3" font-family='"Liberation Serif", serif' font-size="6.6" text-anchor="end" fill="#555" textLength="12" lengthAdjust="spacingAndGlyphs">1000</text>
<text x="395.9" y="352.02" font-family='"Liberation Serif", serif' font-size="6.6" text-anchor="end" fill="#555" textLength="12" lengthAdjust="spacingAndGlyphs">1500</text>
<text x="395.9" y="324.73" font-family='"Liberation Serif", serif' font-size="6.6" text-anchor="end" fill="#555" textLength="12" lengthAdjust="spacingAndGlyphs">2000</text>
<text x="395.9" y="297.45" font-family='"Liberation Serif", serif' font-size="6.6" text-anchor="end" fill="#555" textLength="12" lengthAdjust="spacingAndGlyphs">2500</text>
<text x="395.9" y="270.16" font-family='"Liberation Serif", serif' font-size="6.6" text-anchor="end" fill="#555" textLength="12" lengthAdjust="spacingAndGlyphs">3000</text>
<text x="395.9" y="242.88" font-family='"Liberation Serif", serif' font-size="6.6" text-anchor="end" fill="#555" textLength="12" lengthAdjust="spacingAndGlyphs">3500</text>
<text x="398.4" y="439.08" font-family='"Liberation Serif", serif' font-size="6.6" text-anchor="middle" fill="#555" textLength="3" lengthAdjust="spacingAndGlyphs">0</text>
<text x="454.02" y="439.08" font-family='"Liberation Serif", serif' font-size="6.6" text-anchor="middle" fill="#555" textLength="3" lengthAdjust="spacingAndGlyphs">5</text>
<text x="509.64" y="439.08" font-family='"Liberation Serif", serif' font-size="6.6" text-anchor="middle" fill="#555" textLength="6" lengthAdjust="spacingAndGlyphs">10</text>
<text x="565.26" y="439.08" font-family='"Liberation Serif", serif' font-size="6.6" text-anchor="middle" fill="#555" textLength="6" lengthAdjust="spacingAndGlyphs">15</text>
<text x="620.88" y="439.08" font-family='"Liberation Serif", serif' font-size="6.6" text-anchor="middle" fill="#555" textLength="6" lengthAdjust="spacingAndGlyphs">20</text>
<text x="676.5" y="439.08" font-family='"Liberation Serif", serif' font-size="6.6" text-anchor="middle" fill="#555" textLength="6" lengthAdjust="spacingAndGlyphs">25</text>
<rect x="574.6" y="243.2" width="55.8" height="165" fill="#fff" stroke="#888" stroke-width="0.9"/>
<line x1="577.8" y1="247.8" x2="595.1" y2="247.8" stroke="#3a3af0" stroke-width="1.6"/>
<text x="598.3" y="250.39" font-family='"Liberation Serif", serif' font-size="7.2" text-anchor="start" fill="#333" textLength="2.8" lengthAdjust="spacingAndGlyphs" stroke="#333" stroke-width="0.15">T</text>
<text x="602.4" y="250.39" font-family='"Liberation Serif", serif' font-size="7.2" text-anchor="start" fill="#333" textLength="2.6" lengthAdjust="spacingAndGlyphs" stroke="#333" stroke-width="0.15">=</text>
<text x="606.5" y="250.39" font-family='"Liberation Serif", serif' font-size="7.2" text-anchor="start" fill="#333" textLength="20.4" lengthAdjust="spacingAndGlyphs" stroke="#333" stroke-width="0.15">14.55°C</text>
<line x1="577.8" y1="255.98" x2="595.1" y2="255.98" stroke="#40a040" stroke-width="1.6"/>
<text x="598.3" y="258.57" font-family='"Liberation Serif", serif' font-size="7.2" text-anchor="start" fill="#333" textLength="2.8" lengthAdjust="spacingAndGlyphs" stroke="#333" stroke-width="0.15">T</text>
<text x="602.4" y="258.57" font-family='"Liberation Serif", serif' font-size="7.2" text-anchor="start" fill="#333" textLength="2.6" lengthAdjust="spacingAndGlyphs" stroke="#333" stroke-width="0.15">=</text>
<text x="606.5" y="258.57" font-family='"Liberation Serif", serif' font-size="7.2" text-anchor="start" fill="#333" textLength="20.4" lengthAdjust="spacingAndGlyphs" stroke="#333" stroke-width="0.15">15.62°C</text>
<line x1="577.8" y1="264.16" x2="595.1" y2="264.16" stroke="#e0e0e0" stroke-width="1.6"/>
<text x="598.3" y="266.75" font-family='"Liberation Serif", serif' font-size="7.2" text-anchor="start" fill="#333" textLength="2.8" lengthAdjust="spacingAndGlyphs" stroke="#333" stroke-width="0.15">T</text>
<text x="602.4" y="266.75" font-family='"Liberation Serif", serif' font-size="7.2" text-anchor="start" fill="#333" textLength="2.6" lengthAdjust="spacingAndGlyphs" stroke="#333" stroke-width="0.15">=</text>
<text x="606.5" y="266.75" font-family='"Liberation Serif", serif' font-size="7.2" text-anchor="start" fill="#333" textLength="20.4" lengthAdjust="spacingAndGlyphs" stroke="#333" stroke-width="0.15">16.62°C</text>
<line x1="577.8" y1="272.34" x2="595.1" y2="272.34" stroke="#40c8c8" stroke-width="1.6"/>
<text x="598.3" y="274.93" font-family='"Liberation Serif", serif' font-size="7.2" text-anchor="start" fill="#333" textLength="2.8" lengthAdjust="spacingAndGlyphs" stroke="#333" stroke-width="0.15">T</text>
<text x="602.4" y="274.93" font-family='"Liberation Serif", serif' font-size="7.2" text-anchor="start" fill="#333" textLength="2.6" lengthAdjust="spacingAndGlyphs" stroke="#333" stroke-width="0.15">=</text>
<text x="606.5" y="274.93" font-family='"Liberation Serif", serif' font-size="7.2" text-anchor="start" fill="#333" textLength="20.4" lengthAdjust="spacingAndGlyphs" stroke="#333" stroke-width="0.15">17.57°C</text>
<line x1="577.8" y1="280.52" x2="595.1" y2="280.52" stroke="#c040d0" stroke-width="1.6"/>
<text x="598.3" y="283.11" font-family='"Liberation Serif", serif' font-size="7.2" text-anchor="start" fill="#333" textLength="2.8" lengthAdjust="spacingAndGlyphs" stroke="#333" stroke-width="0.15">T</text>
<text x="602.4" y="283.11" font-family='"Liberation Serif", serif' font-size="7.2" text-anchor="start" fill="#333" textLength="2.6" lengthAdjust="spacingAndGlyphs" stroke="#333" stroke-width="0.15">=</text>
<text x="606.5" y="283.11" font-family='"Liberation Serif", serif' font-size="7.2" text-anchor="start" fill="#333" textLength="20.4" lengthAdjust="spacingAndGlyphs" stroke="#333" stroke-width="0.15">18.53°C</text>
<line x1="577.8" y1="288.7" x2="595.1" y2="288.7" stroke="#c0c040" stroke-width="1.6"/>
<text x="598.3" y="291.29" font-family='"Liberation Serif", serif' font-size="7.2" text-anchor="start" fill="#333" textLength="2.8" lengthAdjust="spacingAndGlyphs" stroke="#333" stroke-width="0.15">T</text>
<text x="602.4" y="291.29" font-family='"Liberation Serif", serif' font-size="7.2" text-anchor="start" fill="#333" textLength="2.6" lengthAdjust="spacingAndGlyphs" stroke="#333" stroke-width="0.15">=</text>
<text x="606.5" y="291.29" font-family='"Liberation Serif", serif' font-size="7.2" text-anchor="start" fill="#333" textLength="20.4" lengthAdjust="spacingAndGlyphs" stroke="#333" stroke-width="0.15">19.42°C</text>
<line x1="577.8" y1="296.88" x2="595.1" y2="296.88" stroke="#505050" stroke-width="1.6"/>
<text x="598.3" y="299.47" font-family='"Liberation Serif", serif' font-size="7.2" text-anchor="start" fill="#333" textLength="2.8" lengthAdjust="spacingAndGlyphs" stroke="#333" stroke-width="0.15">T</text>
<text x="602.4" y="299.47" font-family='"Liberation Serif", serif' font-size="7.2" text-anchor="start" fill="#333" textLength="2.6" lengthAdjust="spacingAndGlyphs" stroke="#333" stroke-width="0.15">=</text>
<text x="606.5" y="299.47" font-family='"Liberation Serif", serif' font-size="7.2" text-anchor="start" fill="#333" textLength="20.4" lengthAdjust="spacingAndGlyphs" stroke="#333" stroke-width="0.15">20.60°C</text>
<line x1="577.8" y1="305.06" x2="595.1" y2="305.06" stroke="#40c8c8" stroke-width="1.6"/>
<text x="598.3" y="307.65" font-family='"Liberation Serif", serif' font-size="7.2" text-anchor="start" fill="#333" textLength="2.8" lengthAdjust="spacingAndGlyphs" stroke="#333" stroke-width="0.15">T</text>
<text x="602.4" y="307.65" font-family='"Liberation Serif", serif' font-size="7.2" text-anchor="start" fill="#333" textLength="2.6" lengthAdjust="spacingAndGlyphs" stroke="#333" stroke-width="0.15">=</text>
<text x="606.5" y="307.65" font-family='"Liberation Serif", serif' font-size="7.2" text-anchor="start" fill="#333" textLength="20.4" lengthAdjust="spacingAndGlyphs" stroke="#333" stroke-width="0.15">21.52°C</text>
<line x1="577.8" y1="313.24" x2="595.1" y2="313.24" stroke="#40a040" stroke-width="1.6"/>
<text x="598.3" y="315.83" font-family='"Liberation Serif", serif' font-size="7.2" text-anchor="start" fill="#333" textLength="2.8" lengthAdjust="spacingAndGlyphs" stroke="#333" stroke-width="0.15">T</text>
<text x="602.4" y="315.83" font-family='"Liberation Serif", serif' font-size="7.2" text-anchor="start" fill="#333" textLength="2.6" lengthAdjust="spacingAndGlyphs" stroke="#333" stroke-width="0.15">=</text>
<text x="606.5" y="315.83" font-family='"Liberation Serif", serif' font-size="7.2" text-anchor="start" fill="#333" textLength="20.4" lengthAdjust="spacingAndGlyphs" stroke="#333" stroke-width="0.15">22.50°C</text>
<line x1="577.8" y1="321.42" x2="595.1" y2="321.42" stroke="#40f0f0" stroke-width="1.6"/>
<text x="598.3" y="324.01" font-family='"Liberation Serif", serif' font-size="7.2" text-anchor="start" fill="#333" textLength="2.8" lengthAdjust="spacingAndGlyphs" stroke="#333" stroke-width="0.15">T</text>
<text x="602.4" y="324.01" font-family='"Liberation Serif", serif' font-size="7.2" text-anchor="start" fill="#333" textLength="2.6" lengthAdjust="spacingAndGlyphs" stroke="#333" stroke-width="0.15">=</text>
<text x="606.5" y="324.01" font-family='"Liberation Serif", serif' font-size="7.2" text-anchor="start" fill="#333" textLength="20.4" lengthAdjust="spacingAndGlyphs" stroke="#333" stroke-width="0.15">23.65°C</text>
<line x1="577.8" y1="329.6" x2="595.1" y2="329.6" stroke="#40c8c8" stroke-width="1.6"/>
<text x="598.3" y="332.19" font-family='"Liberation Serif", serif' font-size="7.2" text-anchor="start" fill="#333" textLength="2.8" lengthAdjust="spacingAndGlyphs" stroke="#333" stroke-width="0.15">T</text>
<text x="602.4" y="332.19" font-family='"Liberation Serif", serif' font-size="7.2" text-anchor="start" fill="#333" textLength="2.6" lengthAdjust="spacingAndGlyphs" stroke="#333" stroke-width="0.15">=</text>
<text x="606.5" y="332.19" font-family='"Liberation Serif", serif' font-size="7.2" text-anchor="start" fill="#333" textLength="20.4" lengthAdjust="spacingAndGlyphs" stroke="#333" stroke-width="0.15">24.72°C</text>
<line x1="577.8" y1="337.78" x2="595.1" y2="337.78" stroke="#c040d0" stroke-width="1.6"/>
<text x="598.3" y="340.37" font-family='"Liberation Serif", serif' font-size="7.2" text-anchor="start" fill="#333" textLength="2.8" lengthAdjust="spacingAndGlyphs" stroke="#333" stroke-width="0.15">T</text>
<text x="602.4" y="340.37" font-family='"Liberation Serif", serif' font-size="7.2" text-anchor="start" fill="#333" textLength="2.6" lengthAdjust="spacingAndGlyphs" stroke="#333" stroke-width="0.15">=</text>
<text x="606.5" y="340.37" font-family='"Liberation Serif", serif' font-size="7.2" text-anchor="start" fill="#333" textLength="20.4" lengthAdjust="spacingAndGlyphs" stroke="#333" stroke-width="0.15">25.30°C</text>
<line x1="577.8" y1="345.96" x2="595.1" y2="345.96" stroke="#c0c040" stroke-width="1.6"/>
<text x="598.3" y="348.55" font-family='"Liberation Serif", serif' font-size="7.2" text-anchor="start" fill="#333" textLength="2.8" lengthAdjust="spacingAndGlyphs" stroke="#333" stroke-width="0.15">T</text>
<text x="602.4" y="348.55" font-family='"Liberation Serif", serif' font-size="7.2" text-anchor="start" fill="#333" textLength="2.6" lengthAdjust="spacingAndGlyphs" stroke="#333" stroke-width="0.15">=</text>
<text x="606.5" y="348.55" font-family='"Liberation Serif", serif' font-size="7.2" text-anchor="start" fill="#333" textLength="20.4" lengthAdjust="spacingAndGlyphs" stroke="#333" stroke-width="0.15">26.62°C</text>
<line x1="577.8" y1="354.14" x2="595.1" y2="354.14" stroke="#606060" stroke-width="1.6"/>
<text x="598.3" y="356.73" font-family='"Liberation Serif", serif' font-size="7.2" text-anchor="start" fill="#333" textLength="2.8" lengthAdjust="spacingAndGlyphs" stroke="#333" stroke-width="0.15">T</text>
<text x="602.4" y="356.73" font-family='"Liberation Serif", serif' font-size="7.2" text-anchor="start" fill="#333" textLength="2.6" lengthAdjust="spacingAndGlyphs" stroke="#333" stroke-width="0.15">=</text>
<text x="606.5" y="356.73" font-family='"Liberation Serif", serif' font-size="7.2" text-anchor="start" fill="#333" textLength="20.4" lengthAdjust="spacingAndGlyphs" stroke="#333" stroke-width="0.15">27.55°C</text>
<line x1="577.8" y1="362.32" x2="595.1" y2="362.32" stroke="#c0c040" stroke-width="1.6"/>
<text x="598.3" y="364.91" font-family='"Liberation Serif", serif' font-size="7.2" text-anchor="start" fill="#333" textLength="2.8" lengthAdjust="spacingAndGlyphs" stroke="#333" stroke-width="0.15">T</text>
<text x="602.4" y="364.91" font-family='"Liberation Serif", serif' font-size="7.2" text-anchor="start" fill="#333" textLength="2.6" lengthAdjust="spacingAndGlyphs" stroke="#333" stroke-width="0.15">=</text>
<text x="606.5" y="364.91" font-family='"Liberation Serif", serif' font-size="7.2" text-anchor="start" fill="#333" textLength="20.4" lengthAdjust="spacingAndGlyphs" stroke="#333" stroke-width="0.15">28.37°C</text>
<line x1="577.8" y1="370.5" x2="595.1" y2="370.5" stroke="#202020" stroke-width="1.6"/>
<text x="598.3" y="373.09" font-family='"Liberation Serif", serif' font-size="7.2" text-anchor="start" fill="#333" textLength="2.8" lengthAdjust="spacingAndGlyphs" stroke="#333" stroke-width="0.15">T</text>
<text x="602.4" y="373.09" font-family='"Liberation Serif", serif' font-size="7.2" text-anchor="start" fill="#333" textLength="2.6" lengthAdjust="spacingAndGlyphs" stroke="#333" stroke-width="0.15">=</text>
<text x="606.5" y="373.09" font-family='"Liberation Serif", serif' font-size="7.2" text-anchor="start" fill="#333" textLength="20.4" lengthAdjust="spacingAndGlyphs" stroke="#333" stroke-width="0.15">29.65°C</text>
<line x1="577.8" y1="378.68" x2="595.1" y2="378.68" stroke="#f03030" stroke-width="1.6"/>
<text x="598.3" y="381.27" font-family='"Liberation Serif", serif' font-size="7.2" text-anchor="start" fill="#333" textLength="2.8" lengthAdjust="spacingAndGlyphs" stroke="#333" stroke-width="0.15">T</text>
<text x="602.4" y="381.27" font-family='"Liberation Serif", serif' font-size="7.2" text-anchor="start" fill="#333" textLength="2.6" lengthAdjust="spacingAndGlyphs" stroke="#333" stroke-width="0.15">=</text>
<text x="606.5" y="381.27" font-family='"Liberation Serif", serif' font-size="7.2" text-anchor="start" fill="#333" textLength="20.4" lengthAdjust="spacingAndGlyphs" stroke="#333" stroke-width="0.15">31.56°C</text>
<line x1="577.8" y1="386.86" x2="595.1" y2="386.86" stroke="#40c0c0" stroke-width="1.6"/>
<text x="598.3" y="389.45" font-family='"Liberation Serif", serif' font-size="7.2" text-anchor="start" fill="#333" textLength="2.8" lengthAdjust="spacingAndGlyphs" stroke="#333" stroke-width="0.15">T</text>
<text x="602.4" y="389.45" font-family='"Liberation Serif", serif' font-size="7.2" text-anchor="start" fill="#333" textLength="2.6" lengthAdjust="spacingAndGlyphs" stroke="#333" stroke-width="0.15">=</text>
<text x="606.5" y="389.45" font-family='"Liberation Serif", serif' font-size="7.2" text-anchor="start" fill="#333" textLength="20.4" lengthAdjust="spacingAndGlyphs" stroke="#333" stroke-width="0.15">32.57°C</text>
<line x1="577.8" y1="395.04" x2="595.1" y2="395.04" stroke="#b040d0" stroke-width="1.6"/>
<text x="598.3" y="397.63" font-family='"Liberation Serif", serif' font-size="7.2" text-anchor="start" fill="#333" textLength="2.8" lengthAdjust="spacingAndGlyphs" stroke="#333" stroke-width="0.15">T</text>
<text x="602.4" y="397.63" font-family='"Liberation Serif", serif' font-size="7.2" text-anchor="start" fill="#333" textLength="2.6" lengthAdjust="spacingAndGlyphs" stroke="#333" stroke-width="0.15">=</text>
<text x="606.5" y="397.63" font-family='"Liberation Serif", serif' font-size="7.2" text-anchor="start" fill="#333" textLength="20.4" lengthAdjust="spacingAndGlyphs" stroke="#333" stroke-width="0.15">33.35°C</text>
<line x1="577.8" y1="403.22" x2="595.1" y2="403.22" stroke="#c0c040" stroke-width="1.6"/>
<text x="598.3" y="405.81" font-family='"Liberation Serif", serif' font-size="7.2" text-anchor="start" fill="#333" textLength="2.8" lengthAdjust="spacingAndGlyphs" stroke="#333" stroke-width="0.15">T</text>
<text x="602.4" y="405.81" font-family='"Liberation Serif", serif' font-size="7.2" text-anchor="start" fill="#333" textLength="2.6" lengthAdjust="spacingAndGlyphs" stroke="#333" stroke-width="0.15">=</text>
<text x="606.5" y="405.81" font-family='"Liberation Serif", serif' font-size="7.2" text-anchor="start" fill="#333" textLength="20.4" lengthAdjust="spacingAndGlyphs" stroke="#333" stroke-width="0.15">34.35°C</text>
<text x="536.8" y="236.2" font-family='"Liberation Serif", serif' font-size="7.4" font-weight="normal" text-anchor="middle" fill="#333" textLength="118.5" lengthAdjust="spacingAndGlyphs">E(t) vs Time for Different Temperatures</text>
<text x="536.6" y="447.6" font-family='"Liberation Serif", serif' font-size="7.4" text-anchor="middle" fill="#222" textLength="35.3" lengthAdjust="spacingAndGlyphs" fill="#444">Time (days)</text>
<text transform="translate(379.6,332.9) rotate(-90)" font-family='"Liberation Sans", sans-serif' font-size="7" text-anchor="middle" fill="#666" textLength="71.7" lengthAdjust="spacingAndGlyphs">Total number of eggs</text>
<text x="351.3" y="445.4" font-family='"Liberation Serif", serif' font-size="23.4" text-anchor="start" fill="#000">E.</text>
<path d="M445.08 484V659M499.46 484V659M553.84 484V659M608.22 484V659M390.7 637.12H662.6M390.7 615.25H662.6M390.7 593.38H662.6M390.7 571.5H662.6M390.7 549.62H662.6M390.7 527.75H662.6M390.7 505.88H662.6" stroke="#444" stroke-width="0.7" stroke-dasharray="1,2" fill="none"/>
<polyline points="390.7,628.4 391.2,620.9 391.8,614.5 392.3,609.0 392.9,604.3 393.4,600.3 394.0,596.9 394.5,593.9 395.1,591.4 395.6,589.3 396.1,587.4 396.7,585.8 397.2,584.5 397.8,583.3 398.3,582.3 398.9,581.4 399.4,580.6 399.9,580.0 400.5,579.4 401.0,578.9 401.6,578.5 402.1,578.1 402.7,577.8 403.2,577.5 403.8,577.3 404.3,577.0 404.8,576.8 405.4,576.6 405.9,576.5 406.5,576.3 407.0,576.2 407.6,576.1 408.1,576.0 408.6,575.9 409.2,575.8 409.7,575.7 410.3,575.6 410.8,575.5 411.4,575.4 411.9,575.4 412.5,575.3 417.9,574.7 423.3,574.2 428.8,573.8 434.2,573.4 439.6,573.1 445.1,572.8 450.5,572.5 456.0,572.3 461.4,572.0 466.8,571.8 472.3,571.6 477.7,571.5 483.1,571.3 488.6,571.2 494.0,571.1 499.5,571.0 504.9,570.9 510.3,570.8 515.8,570.7 521.2,570.6 526.6,570.6 532.1,570.5 537.5,570.5 543.0,570.4 548.4,570.4 553.8,570.3 559.3,570.3 564.7,570.3 570.2,570.2 575.6,570.2 581.0,570.2 586.5,570.2 591.9,570.1 597.3,570.1 602.8,570.1 608.2,570.1 613.7,570.1 619.1,570.1 624.5,570.1 630.0,570.1 635.4,570.0 640.8,570.0 646.3,570.0 651.7,570.0 657.2,570.0 662.6,570.0" stroke="#3030f0" stroke-width="1.2" fill="none" stroke-linejoin="round"/>
<polyline points="390.7,628.4 391.2,617.8 391.8,608.9 392.3,601.5 392.9,595.2 393.4,589.9 394.0,585.4 394.5,581.6 395.1,578.5 395.6,575.7 396.1,573.4 396.7,571.5 397.2,569.8 397.8,568.4 398.3,567.1 398.9,566.0 399.4,565.1 399.9,564.3 400.5,563.6 401.0,562.9 401.6,562.4 402.1,561.8 402.7,561.4 403.2,561.0 403.8,560.6 404.3,560.2 404.8,559.9 405.4,559.6 405.9,559.3 406.5,559.1 407.0,558.8 407.6,558.6 408.1,558.3 408.6,558.1 409.2,557.9 409.7,557.7 410.3,557.5 410.8,557.3 411.4,557.1 411.9,556.9 412.5,556.7 417.9,555.1 423.3,553.7 428.8,552.6 434.2,551.5 439.6,550.7 445.1,549.9 450.5,549.3 456.0,548.7 461.4,548.2 466.8,547.8 472.3,547.5 477.7,547.2 483.1,546.9 488.6,546.7 494.0,546.5 499.5,546.3 504.9,546.2 510.3,546.0 515.8,545.9 521.2,545.8 526.6,545.8 532.1,545.7 537.5,545.6 543.0,545.6 548.4,545.5 553.8,545.5 559.3,545.5 564.7,545.4 570.2,545.4 575.6,545.4 581.0,545.4 586.5,545.3 591.9,545.3 597.3,545.3 602.8,545.3 608.2,545.3 613.7,545.3 619.1,545.3 624.5,545.3 630.0,545.3 635.4,545.3 640.8,545.3 646.3,545.3 651.7,545.3 657.2,545.3 662.6,545.3" stroke="#60b060" stroke-width="1.2" fill="none" stroke-linejoin="round"/>
<polyline points="390.7,628.4 391.2,612.2 391.8,599.4 392.3,589.2 392.9,581.0 393.4,574.5 394.0,569.3 394.5,565.1 395.1,561.7 395.6,558.9 396.1,556.7 396.7,554.8 397.2,553.3 397.8,552.0 398.3,551.0 398.9,550.1 399.4,549.3 399.9,548.6 400.5,548.0 401.0,547.5 401.6,547.0 402.1,546.6 402.7,546.2 403.2,545.8 403.8,545.5 404.3,545.2 404.8,544.9 405.4,544.6 405.9,544.3 406.5,544.0 407.0,543.7 407.6,543.5 408.1,543.2 408.6,543.0 409.2,542.7 409.7,542.5 410.3,542.3 410.8,542.0 411.4,541.8 411.9,541.6 412.5,541.4 417.9,539.4 423.3,537.8 428.8,536.3 434.2,535.1 439.6,534.0 445.1,533.1 450.5,532.4 456.0,531.7 461.4,531.1 466.8,530.7 472.3,530.2 477.7,529.9 483.1,529.6 488.6,529.3 494.0,529.1 499.5,528.9 504.9,528.8 510.3,528.6 515.8,528.5 521.2,528.4 526.6,528.3 532.1,528.2 537.5,528.2 543.0,528.1 548.4,528.1 553.8,528.0 559.3,528.0 564.7,528.0 570.2,527.9 575.6,527.9 581.0,527.9 586.5,527.9 591.9,527.9 597.3,527.9 602.8,527.9 608.2,527.8 613.7,527.8 619.1,527.8 624.5,527.8 630.0,527.8 635.4,527.8 640.8,527.8 646.3,527.8 651.7,527.8 657.2,527.8 662.6,527.8" stroke="#506050" stroke-width="1.2" fill="none" stroke-linejoin="round"/>
<polyline points="390.7,628.4 391.2,610.2 391.8,595.6 392.3,583.9 392.9,574.5 393.4,567.0 394.0,560.9 394.5,555.9 395.1,551.9 395.6,548.7 396.1,546.0 396.7,543.8 397.2,542.0 397.8,540.5 398.3,539.2 398.9,538.1 399.4,537.2 399.9,536.5 400.5,535.8 401.0,535.2 401.6,534.6 402.1,534.1 402.7,533.7 403.2,533.3 403.8,532.9 404.3,532.6 404.8,532.3 405.4,531.9 405.9,531.7 406.5,531.4 407.0,531.1 407.6,530.8 408.1,530.6 408.6,530.3 409.2,530.1 409.7,529.8 410.3,529.6 410.8,529.4 411.4,529.2 411.9,529.0 412.5,528.7 417.9,526.8 423.3,525.2 428.8,523.9 434.2,522.7 439.6,521.8 445.1,520.9 450.5,520.3 456.0,519.7 461.4,519.2 466.8,518.8 472.3,518.4 477.7,518.1 483.1,517.9 488.6,517.7 494.0,517.5 499.5,517.4 504.9,517.2 510.3,517.1 515.8,517.0 521.2,517.0 526.6,516.9 532.1,516.9 537.5,516.8 543.0,516.8 548.4,516.7 553.8,516.7 559.3,516.7 564.7,516.7 570.2,516.7 575.6,516.6 581.0,516.6 586.5,516.6 591.9,516.6 597.3,516.6 602.8,516.6 608.2,516.6 613.7,516.6 619.1,516.6 624.5,516.6 630.0,516.6 635.4,516.6 640.8,516.6 646.3,516.6 651.7,516.6 657.2,516.6 662.6,516.6" stroke="#80e0e0" stroke-width="1.2" fill="none" stroke-linejoin="round"/>
<polyline points="390.7,628.4 391.2,607.5 391.8,590.8 392.3,577.5 392.9,566.9 393.4,558.4 394.0,551.6 394.5,546.2 395.1,541.8 395.6,538.3 396.1,535.4 396.7,533.1 397.2,531.2 397.8,529.6 398.3,528.3 398.9,527.2 399.4,526.3 399.9,525.5 400.5,524.9 401.0,524.3 401.6,523.8 402.1,523.3 402.7,522.9 403.2,522.5 403.8,522.2 404.3,521.9 404.8,521.6 405.4,521.3 405.9,521.1 406.5,520.8 407.0,520.6 407.6,520.3 408.1,520.1 408.6,519.9 409.2,519.7 409.7,519.5 410.3,519.3 410.8,519.1 411.4,518.9 411.9,518.7 412.5,518.5 417.9,516.9 423.3,515.5 428.8,514.4 434.2,513.4 439.6,512.6 445.1,511.9 450.5,511.3 456.0,510.9 461.4,510.5 466.8,510.1 472.3,509.8 477.7,509.6 483.1,509.4 488.6,509.2 494.0,509.1 499.5,509.0 504.9,508.9 510.3,508.8 515.8,508.7 521.2,508.7 526.6,508.6 532.1,508.6 537.5,508.6 543.0,508.5 548.4,508.5 553.8,508.5 559.3,508.5 564.7,508.5 570.2,508.5 575.6,508.4 581.0,508.4 586.5,508.4 591.9,508.4 597.3,508.4 602.8,508.4 608.2,508.4 613.7,508.4 619.1,508.4 624.5,508.4 630.0,508.4 635.4,508.4 640.8,508.4 646.3,508.4 651.7,508.4 657.2,508.4 662.6,508.4" stroke="#c030d0" stroke-width="1.2" fill="none" stroke-linejoin="round"/>
<polyline points="390.7,628.4 391.2,605.1 391.8,586.7 392.3,571.9 392.9,560.2 393.4,550.9 394.0,543.4 394.5,537.4 395.1,532.6 395.6,528.8 396.1,525.7 396.7,523.2 397.2,521.2 397.8,519.6 398.3,518.3 398.9,517.2 399.4,516.3 399.9,515.6 400.5,515.0 401.0,514.4 401.6,514.0 402.1,513.6 402.7,513.3 403.2,513.0 403.8,512.7 404.3,512.5 404.8,512.3 405.4,512.1 405.9,511.9 406.5,511.7 407.0,511.5 407.6,511.4 408.1,511.2 408.6,511.1 409.2,511.0 409.7,510.8 410.3,510.7 410.8,510.6 411.4,510.5 411.9,510.3 412.5,510.2 417.9,509.2 423.3,508.3 428.8,507.5 434.2,506.9 439.6,506.3 445.1,505.9 450.5,505.5 456.0,505.1 461.4,504.8 466.8,504.6 472.3,504.4 477.7,504.2 483.1,504.1 488.6,503.9 494.0,503.8 499.5,503.7 504.9,503.7 510.3,503.6 515.8,503.5 521.2,503.5 526.6,503.4 532.1,503.4 537.5,503.4 543.0,503.4 548.4,503.3 553.8,503.3 559.3,503.3 564.7,503.3 570.2,503.3 575.6,503.3 581.0,503.3 586.5,503.2 591.9,503.2 597.3,503.2 602.8,503.2 608.2,503.2 613.7,503.2 619.1,503.2 624.5,503.2 630.0,503.2 635.4,503.2 640.8,503.2 646.3,503.2 651.7,503.2 657.2,503.2 662.6,503.2" stroke="#d8d870" stroke-width="1.2" fill="none" stroke-linejoin="round"/>
<polyline points="390.7,628.4 391.2,597.6 391.8,574.7 392.3,557.7 392.9,545.0 393.4,535.5 394.0,528.4 394.5,523.1 395.1,519.2 395.6,516.2 396.1,513.9 396.7,512.2 397.2,510.9 397.8,509.9 398.3,509.1 398.9,508.5 399.4,508.0 399.9,507.6 400.5,507.3 401.0,507.0 401.6,506.8 402.1,506.5 402.7,506.4 403.2,506.2 403.8,506.0 404.3,505.9 404.8,505.8 405.4,505.6 405.9,505.5 406.5,505.4 407.0,505.3 407.6,505.2 408.1,505.1 408.6,505.0 409.2,504.9 409.7,504.8 410.3,504.7 410.8,504.6 411.4,504.5 411.9,504.4 412.5,504.3 417.9,503.6 423.3,502.9 428.8,502.4 434.2,502.0 439.6,501.6 445.1,501.3 450.5,501.1 456.0,500.9 461.4,500.8 466.8,500.6 472.3,500.5 477.7,500.5 483.1,500.4 488.6,500.3 494.0,500.3 499.5,500.2 504.9,500.2 510.3,500.2 515.8,500.2 521.2,500.2 526.6,500.1 532.1,500.1 537.5,500.1 543.0,500.1 548.4,500.1 553.8,500.1 559.3,500.1 564.7,500.1 570.2,500.1 575.6,500.1 581.0,500.1 586.5,500.1 591.9,500.1 597.3,500.1 602.8,500.1 608.2,500.1 613.7,500.1 619.1,500.1 624.5,500.1 630.0,500.1 635.4,500.1 640.8,500.1 646.3,500.1 651.7,500.1 657.2,500.1 662.6,500.1" stroke="#505050" stroke-width="1.2" fill="none" stroke-linejoin="round"/>
<polyline points="390.7,628.4 391.2,588.9 391.8,561.8 392.3,543.3 392.9,530.5 393.4,521.8 394.0,515.8 394.5,511.6 395.1,508.8 395.6,506.8 396.1,505.4 396.7,504.4 397.2,503.7 397.8,503.2 398.3,502.9 398.9,502.6 399.4,502.4 399.9,502.2 400.5,502.1 401.0,502.0 401.6,501.9 402.1,501.8 402.7,501.7 403.2,501.7 403.8,501.6 404.3,501.5 404.8,501.5 405.4,501.4 405.9,501.3 406.5,501.3 407.0,501.2 407.6,501.2 408.1,501.1 408.6,501.1 409.2,501.0 409.7,500.9 410.3,500.9 410.8,500.8 411.4,500.8 411.9,500.8 412.5,500.7 417.9,500.3 423.3,499.9 428.8,499.7 434.2,499.4 439.6,499.2 445.1,499.1 450.5,498.9 456.0,498.8 461.4,498.7 466.8,498.6 472.3,498.6 477.7,498.5 483.1,498.5 488.6,498.5 494.0,498.4 499.5,498.4 504.9,498.4 510.3,498.4 515.8,498.3 521.2,498.3 526.6,498.3 532.1,498.3 537.5,498.3 543.0,498.3 548.4,498.3 553.8,498.3 559.3,498.3 564.7,498.3 570.2,498.3 575.6,498.3 581.0,498.3 586.5,498.3 591.9,498.3 597.3,498.3 602.8,498.3 608.2,498.3 613.7,498.3 619.1,498.3 624.5,498.3 630.0,498.3 635.4,498.3 640.8,498.3 646.3,498.3 651.7,498.3 657.2,498.3 662.6,498.3" stroke="#c0c0c0" stroke-width="1.2" fill="none" stroke-linejoin="round"/>
<polyline points="390.7,628.4 391.2,600.0 391.8,577.9 392.3,560.7 392.9,547.2 393.4,536.8 394.0,528.6 394.5,522.2 395.1,517.2 395.6,513.4 396.1,510.3 396.7,507.9 397.2,506.1 397.8,504.6 398.3,503.5 398.9,502.6 399.4,501.9 399.9,501.3 400.5,500.8 401.0,500.5 401.6,500.2 402.1,500.0 402.7,499.8 403.2,499.6 403.8,499.5 404.3,499.4 404.8,499.3 405.4,499.2 405.9,499.1 406.5,499.1 407.0,499.0 407.6,498.9 408.1,498.9 408.6,498.9 409.2,498.8 409.7,498.8 410.3,498.7 410.8,498.7 411.4,498.7 411.9,498.6 412.5,498.6 417.9,498.3 423.3,498.1 428.8,497.9 434.2,497.8 439.6,497.7 445.1,497.6 450.5,497.5 456.0,497.4 461.4,497.4 466.8,497.3 472.3,497.3 477.7,497.3 483.1,497.2 488.6,497.2 494.0,497.2 499.5,497.2 504.9,497.2 510.3,497.2 515.8,497.2 521.2,497.2 526.6,497.1 532.1,497.1 537.5,497.1 543.0,497.1 548.4,497.1 553.8,497.1 559.3,497.1 564.7,497.1 570.2,497.1 575.6,497.1 581.0,497.1 586.5,497.1 591.9,497.1 597.3,497.1 602.8,497.1 608.2,497.1 613.7,497.1 619.1,497.1 624.5,497.1 630.0,497.1 635.4,497.1 640.8,497.1 646.3,497.1 651.7,497.1 657.2,497.1 662.6,497.1" stroke="#208020" stroke-width="1.2" fill="none" stroke-linejoin="round"/>
<polyline points="390.7,628.4 391.2,602.1 391.8,581.1 392.3,564.4 392.9,551.1 393.4,540.5 394.0,532.0 394.5,525.2 395.1,519.8 395.6,515.5 396.1,512.1 396.7,509.3 397.2,507.1 397.8,505.4 398.3,504.0 398.9,502.8 399.4,501.9 399.9,501.2 400.5,500.6 401.0,500.1 401.6,499.7 402.1,499.4 402.7,499.2 403.2,499.0 403.8,498.8 404.3,498.6 404.8,498.5 405.4,498.4 405.9,498.3 406.5,498.2 407.0,498.2 407.6,498.1 408.1,498.1 408.6,498.0 409.2,498.0 409.7,497.9 410.3,497.9 410.8,497.9 411.4,497.8 411.9,497.8 412.5,497.8 417.9,497.5 423.3,497.3 428.8,497.2 434.2,497.0 439.6,496.9 445.1,496.9 450.5,496.8 456.0,496.7 461.4,496.7 466.8,496.6 472.3,496.6 477.7,496.6 483.1,496.6 488.6,496.5 494.0,496.5 499.5,496.5 504.9,496.5 510.3,496.5 515.8,496.5 521.2,496.5 526.6,496.5 532.1,496.5 537.5,496.5 543.0,496.5 548.4,496.5 553.8,496.5 559.3,496.5 564.7,496.5 570.2,496.5 575.6,496.5 581.0,496.5 586.5,496.5 591.9,496.5 597.3,496.5 602.8,496.5 608.2,496.5 613.7,496.5 619.1,496.5 624.5,496.5 630.0,496.5 635.4,496.5 640.8,496.5 646.3,496.5 651.7,496.5 657.2,496.5 662.6,496.5" stroke="#f06060" stroke-width="1.2" fill="none" stroke-linejoin="round"/>
<polyline points="390.7,628.4 391.2,598.4 391.8,575.3 392.3,557.5 392.9,543.9 393.4,533.4 394.0,525.3 394.5,519.1 395.1,514.3 395.6,510.6 396.1,507.7 396.7,505.5 397.2,503.8 397.8,502.5 398.3,501.5 398.9,500.7 399.4,500.1 399.9,499.6 400.5,499.2 401.0,498.9 401.6,498.7 402.1,498.5 402.7,498.3 403.2,498.2 403.8,498.1 404.3,498.0 404.8,497.9 405.4,497.9 405.9,497.8 406.5,497.8 407.0,497.7 407.6,497.7 408.1,497.7 408.6,497.6 409.2,497.6 409.7,497.6 410.3,497.5 410.8,497.5 411.4,497.5 411.9,497.5 412.5,497.4 417.9,497.2 423.3,497.0 428.8,496.9 434.2,496.8 439.6,496.7 445.1,496.6 450.5,496.5 456.0,496.5 461.4,496.4 466.8,496.4 472.3,496.4 477.7,496.4 483.1,496.3 488.6,496.3 494.0,496.3 499.5,496.3 504.9,496.3 510.3,496.3 515.8,496.3 521.2,496.3 526.6,496.3 532.1,496.3 537.5,496.3 543.0,496.3 548.4,496.3 553.8,496.3 559.3,496.3 564.7,496.3 570.2,496.3 575.6,496.3 581.0,496.3 586.5,496.3 591.9,496.3 597.3,496.3 602.8,496.3 608.2,496.3 613.7,496.3 619.1,496.3 624.5,496.3 630.0,496.3 635.4,496.3 640.8,496.3 646.3,496.3 651.7,496.3 657.2,496.3 662.6,496.3" stroke="#40c8d0" stroke-width="1.2" fill="none" stroke-linejoin="round"/>
<polyline points="390.7,628.4 391.2,600.8 391.8,579.1 392.3,562.0 392.9,548.5 393.4,537.9 394.0,529.4 394.5,522.8 395.1,517.6 395.6,513.4 396.1,510.2 396.7,507.6 397.2,505.5 397.8,503.9 398.3,502.6 398.9,501.6 399.4,500.8 399.9,500.2 400.5,499.6 401.0,499.2 401.6,498.9 402.1,498.6 402.7,498.4 403.2,498.2 403.8,498.1 404.3,498.0 404.8,497.9 405.4,497.8 405.9,497.7 406.5,497.6 407.0,497.6 407.6,497.5 408.1,497.5 408.6,497.4 409.2,497.4 409.7,497.4 410.3,497.3 410.8,497.3 411.4,497.3 411.9,497.2 412.5,497.2 417.9,497.0 423.3,496.8 428.8,496.7 434.2,496.6 439.6,496.5 445.1,496.4 450.5,496.3 456.0,496.3 461.4,496.2 466.8,496.2 472.3,496.2 477.7,496.1 483.1,496.1 488.6,496.1 494.0,496.1 499.5,496.1 504.9,496.1 510.3,496.1 515.8,496.1 521.2,496.1 526.6,496.0 532.1,496.0 537.5,496.0 543.0,496.0 548.4,496.0 553.8,496.0 559.3,496.0 564.7,496.0 570.2,496.0 575.6,496.0 581.0,496.0 586.5,496.0 591.9,496.0 597.3,496.0 602.8,496.0 608.2,496.0 613.7,496.0 619.1,496.0 624.5,496.0 630.0,496.0 635.4,496.0 640.8,496.0 646.3,496.0 651.7,496.0 657.2,496.0 662.6,496.0" stroke="#d050e0" stroke-width="1.2" fill="none" stroke-linejoin="round"/>
<polyline points="390.7,628.4 391.2,596.8 391.8,572.9 392.3,554.8 392.9,541.0 393.4,530.6 394.0,522.7 394.5,516.7 395.1,512.1 395.6,508.7 396.1,506.0 396.7,504.0 397.2,502.5 397.8,501.3 398.3,500.5 398.9,499.8 399.4,499.2 399.9,498.8 400.5,498.5 401.0,498.3 401.6,498.1 402.1,497.9 402.7,497.8 403.2,497.7 403.8,497.6 404.3,497.5 404.8,497.5 405.4,497.4 405.9,497.4 406.5,497.3 407.0,497.3 407.6,497.2 408.1,497.2 408.6,497.2 409.2,497.2 409.7,497.1 410.3,497.1 410.8,497.1 411.4,497.0 411.9,497.0 412.5,497.0 417.9,496.8 423.3,496.6 428.8,496.5 434.2,496.3 439.6,496.2 445.1,496.2 450.5,496.1 456.0,496.1 461.4,496.0 466.8,496.0 472.3,495.9 477.7,495.9 483.1,495.9 488.6,495.9 494.0,495.9 499.5,495.9 504.9,495.9 510.3,495.8 515.8,495.8 521.2,495.8 526.6,495.8 532.1,495.8 537.5,495.8 543.0,495.8 548.4,495.8 553.8,495.8 559.3,495.8 564.7,495.8 570.2,495.8 575.6,495.8 581.0,495.8 586.5,495.8 591.9,495.8 597.3,495.8 602.8,495.8 608.2,495.8 613.7,495.8 619.1,495.8 624.5,495.8 630.0,495.8 635.4,495.8 640.8,495.8 646.3,495.8 651.7,495.8 657.2,495.8 662.6,495.8" stroke="#c8c840" stroke-width="1.2" fill="none" stroke-linejoin="round"/>
<polyline points="390.7,628.4 391.2,599.6 391.8,577.1 392.3,559.7 392.9,546.0 393.4,535.4 394.0,527.1 394.5,520.7 395.1,515.6 395.6,511.7 396.1,508.6 396.7,506.2 397.2,504.3 397.8,502.9 398.3,501.7 398.9,500.8 399.4,500.1 399.9,499.5 400.5,499.1 401.0,498.7 401.6,498.4 402.1,498.2 402.7,498.0 403.2,497.9 403.8,497.8 404.3,497.7 404.8,497.6 405.4,497.5 405.9,497.4 406.5,497.4 407.0,497.3 407.6,497.3 408.1,497.2 408.6,497.2 409.2,497.2 409.7,497.1 410.3,497.1 410.8,497.1 411.4,497.0 411.9,497.0 412.5,497.0 417.9,496.8 423.3,496.6 428.8,496.5 434.2,496.3 439.6,496.2 445.1,496.2 450.5,496.1 456.0,496.1 461.4,496.0 466.8,496.0 472.3,495.9 477.7,495.9 483.1,495.9 488.6,495.9 494.0,495.9 499.5,495.9 504.9,495.9 510.3,495.8 515.8,495.8 521.2,495.8 526.6,495.8 532.1,495.8 537.5,495.8 543.0,495.8 548.4,495.8 553.8,495.8 559.3,495.8 564.7,495.8 570.2,495.8 575.6,495.8 581.0,495.8 586.5,495.8 591.9,495.8 597.3,495.8 602.8,495.8 608.2,495.8 613.7,495.8 619.1,495.8 624.5,495.8 630.0,495.8 635.4,495.8 640.8,495.8 646.3,495.8 651.7,495.8 657.2,495.8 662.6,495.8" stroke="#a0a0a0" stroke-width="1.2" fill="none" stroke-linejoin="round"/>
<polyline points="390.7,628.4 391.2,595.3 391.8,570.7 392.3,552.3 392.9,538.6 393.4,528.4 394.0,520.8 394.5,515.1 395.1,510.8 395.6,507.6 396.1,505.2 396.7,503.5 397.2,502.1 397.8,501.1 398.3,500.3 398.9,499.8 399.4,499.3 399.9,499.0 400.5,498.7 401.0,498.5 401.6,498.4 402.1,498.2 402.7,498.1 403.2,498.1 403.8,498.0 404.3,497.9 404.8,497.9 405.4,497.8 405.9,497.8 406.5,497.7 407.0,497.7 407.6,497.7 408.1,497.6 408.6,497.6 409.2,497.6 409.7,497.6 410.3,497.5 410.8,497.5 411.4,497.5 411.9,497.5 412.5,497.4 417.9,497.2 423.3,497.0 428.8,496.9 434.2,496.8 439.6,496.7 445.1,496.6 450.5,496.5 456.0,496.5 461.4,496.4 466.8,496.4 472.3,496.4 477.7,496.4 483.1,496.3 488.6,496.3 494.0,496.3 499.5,496.3 504.9,496.3 510.3,496.3 515.8,496.3 521.2,496.3 526.6,496.3 532.1,496.3 537.5,496.3 543.0,496.3 548.4,496.3 553.8,496.3 559.3,496.3 564.7,496.3 570.2,496.3 575.6,496.3 581.0,496.3 586.5,496.3 591.9,496.3 597.3,496.3 602.8,496.3 608.2,496.3 613.7,496.3 619.1,496.3 624.5,496.3 630.0,496.3 635.4,496.3 640.8,496.3 646.3,496.3 651.7,496.3 657.2,496.3 662.6,496.3" stroke="#806080" stroke-width="1.2" fill="none" stroke-linejoin="round"/>
<polyline points="390.7,628.4 391.2,598.2 391.8,575.0 392.3,557.2 392.9,543.5 393.4,532.9 394.0,524.8 394.5,518.5 395.1,513.7 395.6,510.0 396.1,507.1 396.7,504.9 397.2,503.2 397.8,501.9 398.3,500.9 398.9,500.1 399.4,499.5 399.9,499.0 400.5,498.6 401.0,498.3 401.6,498.1 402.1,497.9 402.7,497.8 403.2,497.6 403.8,497.5 404.3,497.5 404.8,497.4 405.4,497.3 405.9,497.3 406.5,497.2 407.0,497.2 407.6,497.1 408.1,497.1 408.6,497.1 409.2,497.0 409.7,497.0 410.3,497.0 410.8,497.0 411.4,496.9 411.9,496.9 412.5,496.9 417.9,496.7 423.3,496.5 428.8,496.4 434.2,496.3 439.6,496.2 445.1,496.1 450.5,496.1 456.0,496.0 461.4,496.0 466.8,496.0 472.3,495.9 477.7,495.9 483.1,495.9 488.6,495.9 494.0,495.9 499.5,495.9 504.9,495.8 510.3,495.8 515.8,495.8 521.2,495.8 526.6,495.8 532.1,495.8 537.5,495.8 543.0,495.8 548.4,495.8 553.8,495.8 559.3,495.8 564.7,495.8 570.2,495.8 575.6,495.8 581.0,495.8 586.5,495.8 591.9,495.8 597.3,495.8 602.8,495.8 608.2,495.8 613.7,495.8 619.1,495.8 624.5,495.8 630.0,495.8 635.4,495.8 640.8,495.8 646.3,495.8 651.7,495.8 657.2,495.8 662.6,495.8" stroke="#60a860" stroke-width="1.2" fill="none" stroke-linejoin="round"/>
<polyline points="390.7,628.4 391.2,593.5 391.8,567.9 392.3,549.2 392.9,535.5 393.4,525.4 394.0,518.1 394.5,512.7 395.1,508.7 395.6,505.8 396.1,503.7 396.7,502.1 397.2,501.0 397.8,500.1 398.3,499.5 398.9,499.0 399.4,498.7 399.9,498.4 400.5,498.2 401.0,498.0 401.6,497.9 402.1,497.8 402.7,497.7 403.2,497.6 403.8,497.6 404.3,497.5 404.8,497.5 405.4,497.5 405.9,497.4 406.5,497.4 407.0,497.4 407.6,497.3 408.1,497.3 408.6,497.3 409.2,497.3 409.7,497.2 410.3,497.2 410.8,497.2 411.4,497.2 411.9,497.1 412.5,497.1 417.9,496.9 423.3,496.8 428.8,496.6 434.2,496.5 439.6,496.4 445.1,496.4 450.5,496.3 456.0,496.2 461.4,496.2 466.8,496.2 472.3,496.2 477.7,496.1 483.1,496.1 488.6,496.1 494.0,496.1 499.5,496.1 504.9,496.1 510.3,496.1 515.8,496.1 521.2,496.1 526.6,496.0 532.1,496.0 537.5,496.0 543.0,496.0 548.4,496.0 553.8,496.0 559.3,496.0 564.7,496.0 570.2,496.0 575.6,496.0 581.0,496.0 586.5,496.0 591.9,496.0 597.3,496.0 602.8,496.0 608.2,496.0 613.7,496.0 619.1,496.0 624.5,496.0 630.0,496.0 635.4,496.0 640.8,496.0 646.3,496.0 651.7,496.0 657.2,496.0 662.6,496.0" stroke="#40f0f0" stroke-width="1.2" fill="none" stroke-linejoin="round"/>
<polyline points="390.7,628.4 391.2,596.9 391.8,573.0 392.3,554.9 392.9,541.2 393.4,530.8 394.0,522.9 394.5,516.9 395.1,512.4 395.6,508.9 396.1,506.3 396.7,504.3 397.2,502.8 397.8,501.6 398.3,500.7 398.9,500.0 399.4,499.5 399.9,499.1 400.5,498.8 401.0,498.6 401.6,498.4 402.1,498.2 402.7,498.1 403.2,498.0 403.8,497.9 404.3,497.8 404.8,497.8 405.4,497.7 405.9,497.7 406.5,497.6 407.0,497.6 407.6,497.6 408.1,497.5 408.6,497.5 409.2,497.5 409.7,497.5 410.3,497.4 410.8,497.4 411.4,497.4 411.9,497.4 412.5,497.3 417.9,497.1 423.3,497.0 428.8,496.8 434.2,496.7 439.6,496.6 445.1,496.6 450.5,496.5 456.0,496.5 461.4,496.4 466.8,496.4 472.3,496.4 477.7,496.3 483.1,496.3 488.6,496.3 494.0,496.3 499.5,496.3 504.9,496.3 510.3,496.3 515.8,496.3 521.2,496.3 526.6,496.3 532.1,496.3 537.5,496.3 543.0,496.3 548.4,496.3 553.8,496.3 559.3,496.3 564.7,496.3 570.2,496.3 575.6,496.3 581.0,496.3 586.5,496.3 591.9,496.3 597.3,496.3 602.8,496.3 608.2,496.3 613.7,496.3 619.1,496.3 624.5,496.3 630.0,496.3 635.4,496.3 640.8,496.3 646.3,496.3 651.7,496.3 657.2,496.3 662.6,496.3" stroke="#40c0c0" stroke-width="1.2" fill="none" stroke-linejoin="round"/>
<polyline points="390.7,628.4 391.2,591.6 391.8,565.3 392.3,546.4 392.9,532.8 393.4,523.1 394.0,516.1 394.5,511.1 395.1,507.5 395.6,504.9 396.1,503.1 396.7,501.7 397.2,500.7 397.8,500.0 398.3,499.5 398.9,499.1 399.4,498.8 399.9,498.6 400.5,498.5 401.0,498.3 401.6,498.2 402.1,498.2 402.7,498.1 403.2,498.0 403.8,498.0 404.3,498.0 404.8,497.9 405.4,497.9 405.9,497.9 406.5,497.8 407.0,497.8 407.6,497.8 408.1,497.7 408.6,497.7 409.2,497.7 409.7,497.7 410.3,497.6 410.8,497.6 411.4,497.6 411.9,497.6 412.5,497.6 417.9,497.4 423.3,497.2 428.8,497.1 434.2,497.0 439.6,496.9 445.1,496.8 450.5,496.7 456.0,496.7 461.4,496.6 466.8,496.6 472.3,496.6 477.7,496.6 483.1,496.5 488.6,496.5 494.0,496.5 499.5,496.5 504.9,496.5 510.3,496.5 515.8,496.5 521.2,496.5 526.6,496.5 532.1,496.5 537.5,496.5 543.0,496.5 548.4,496.5 553.8,496.5 559.3,496.5 564.7,496.5 570.2,496.5 575.6,496.5 581.0,496.5 586.5,496.5 591.9,496.5 597.3,496.5 602.8,496.5 608.2,496.5 613.7,496.5 619.1,496.5 624.5,496.5 630.0,496.5 635.4,496.5 640.8,496.5 646.3,496.5 651.7,496.5 657.2,496.5 662.6,496.5" stroke="#c030d0" stroke-width="1.2" fill="none" stroke-linejoin="round"/>
<polyline points="390.7,628.4 391.2,595.4 391.8,570.8 392.3,552.5 392.9,538.8 393.4,528.6 394.0,521.0 394.5,515.3 395.1,511.0 395.6,507.9 396.1,505.5 396.7,503.7 397.2,502.4 397.8,501.4 398.3,500.6 398.9,500.0 399.4,499.6 399.9,499.3 400.5,499.0 401.0,498.8 401.6,498.7 402.1,498.5 402.7,498.4 403.2,498.4 403.8,498.3 404.3,498.2 404.8,498.2 405.4,498.1 405.9,498.1 406.5,498.1 407.0,498.0 407.6,498.0 408.1,498.0 408.6,497.9 409.2,497.9 409.7,497.9 410.3,497.9 410.8,497.8 411.4,497.8 411.9,497.8 412.5,497.8 417.9,497.6 423.3,497.4 428.8,497.3 434.2,497.2 439.6,497.1 445.1,497.0 450.5,497.0 456.0,496.9 461.4,496.9 466.8,496.8 472.3,496.8 477.7,496.8 483.1,496.8 488.6,496.8 494.0,496.7 499.5,496.7 504.9,496.7 510.3,496.7 515.8,496.7 521.2,496.7 526.6,496.7 532.1,496.7 537.5,496.7 543.0,496.7 548.4,496.7 553.8,496.7 559.3,496.7 564.7,496.7 570.2,496.7 575.6,496.7 581.0,496.7 586.5,496.7 591.9,496.7 597.3,496.7 602.8,496.7 608.2,496.7 613.7,496.7 619.1,496.7 624.5,496.7 630.0,496.7 635.4,496.7 640.8,496.7 646.3,496.7 651.7,496.7 657.2,496.7 662.6,496.7" stroke="#c8c840" stroke-width="1.2" fill="none" stroke-linejoin="round"/>
<rect x="390.7" y="484" width="271.9" height="175" fill="none" stroke="#888" stroke-width="1.1"/>
<line x1="390.9" y1="505" x2="390.9" y2="658" stroke="#d8d870" stroke-width="1.2"/>
<text x="389.2" y="661.02" font-family='"Liberation Sans", sans-serif' font-size="5.6" text-anchor="end" fill="#444" textLength="3" lengthAdjust="spacingAndGlyphs">0</text>
<text x="389.2" y="639.14" font-family='"Liberation Sans", sans-serif' font-size="5.6" text-anchor="end" fill="#444" textLength="9" lengthAdjust="spacingAndGlyphs">100</text>
<text x="389.2" y="617.27" font-family='"Liberation Sans", sans-serif' font-size="5.6" text-anchor="end" fill="#444" textLength="9" lengthAdjust="spacingAndGlyphs">200</text>
<text x="389.2" y="595.39" font-family='"Liberation Sans", sans-serif' font-size="5.6" text-anchor="end" fill="#444" textLength="9" lengthAdjust="spacingAndGlyphs">300</text>
<text x="389.2" y="573.52" font-family='"Liberation Sans", sans-serif' font-size="5.6" text-anchor="end" fill="#444" textLength="9" lengthAdjust="spacingAndGlyphs">400</text>
<text x="389.2" y="551.64" font-family='"Liberation Sans", sans-serif' font-size="5.6" text-anchor="end" fill="#444" textLength="9" lengthAdjust="spacingAndGlyphs">500</text>
<text x="389.2" y="529.77" font-family='"Liberation Sans", sans-serif' font-size="5.6" text-anchor="end" fill="#444" textLength="9" lengthAdjust="spacingAndGlyphs">600</text>
<text x="389.2" y="507.89" font-family='"Liberation Sans", sans-serif' font-size="5.6" text-anchor="end" fill="#444" textLength="9" lengthAdjust="spacingAndGlyphs">700</text>
<text x="389.2" y="486.02" font-family='"Liberation Sans", sans-serif' font-size="5.6" text-anchor="end" fill="#444" textLength="9" lengthAdjust="spacingAndGlyphs">800</text>
<text x="390.7" y="665.52" font-family='"Liberation Sans", sans-serif' font-size="5.6" text-anchor="middle" fill="#444" textLength="3" lengthAdjust="spacingAndGlyphs">0</text>
<text x="445.08" y="665.52" font-family='"Liberation Sans", sans-serif' font-size="5.6" text-anchor="middle" fill="#444" textLength="3" lengthAdjust="spacingAndGlyphs">5</text>
<text x="499.46" y="665.52" font-family='"Liberation Sans", sans-serif' font-size="5.6" text-anchor="middle" fill="#444" textLength="6" lengthAdjust="spacingAndGlyphs">10</text>
<text x="553.84" y="665.52" font-family='"Liberation Sans", sans-serif' font-size="5.6" text-anchor="middle" fill="#444" textLength="6" lengthAdjust="spacingAndGlyphs">15</text>
<text x="608.22" y="665.52" font-family='"Liberation Sans", sans-serif' font-size="5.6" text-anchor="middle" fill="#444" textLength="6" lengthAdjust="spacingAndGlyphs">20</text>
<text x="662.6" y="665.52" font-family='"Liberation Sans", sans-serif' font-size="5.6" text-anchor="middle" fill="#444" textLength="6" lengthAdjust="spacingAndGlyphs">25</text>
<rect x="532.6" y="486.4" width="50.8" height="172" fill="#fff" stroke="#555" stroke-width="0.9"/>
<line x1="535.5" y1="491.3" x2="552.7" y2="491.3" stroke="#3030f0" stroke-width="1"/>
<text x="554.4" y="493.17" font-family='"Liberation Sans", sans-serif' font-size="5.2" text-anchor="start" fill="#444" textLength="26.4" lengthAdjust="spacingAndGlyphs">T<tspan font-size="3.2" dy="1.6">w</tspan><tspan dy="-1.6"> = 14.55°C</tspan></text>
<line x1="535.5" y1="499.79" x2="552.7" y2="499.79" stroke="#60b060" stroke-width="1"/>
<text x="554.4" y="501.66" font-family='"Liberation Sans", sans-serif' font-size="5.2" text-anchor="start" fill="#444" textLength="26.4" lengthAdjust="spacingAndGlyphs">T<tspan font-size="3.2" dy="1.6">w</tspan><tspan dy="-1.6"> = 15.62°C</tspan></text>
<line x1="535.5" y1="508.28" x2="552.7" y2="508.28" stroke="#506050" stroke-width="1"/>
<text x="554.4" y="510.15" font-family='"Liberation Sans", sans-serif' font-size="5.2" text-anchor="start" fill="#444" textLength="26.4" lengthAdjust="spacingAndGlyphs">T<tspan font-size="3.2" dy="1.6">w</tspan><tspan dy="-1.6"> = 16.62°C</tspan></text>
<line x1="535.5" y1="516.77" x2="552.7" y2="516.77" stroke="#80e0e0" stroke-width="1"/>
<text x="554.4" y="518.64" font-family='"Liberation Sans", sans-serif' font-size="5.2" text-anchor="start" fill="#444" textLength="26.4" lengthAdjust="spacingAndGlyphs">T<tspan font-size="3.2" dy="1.6">w</tspan><tspan dy="-1.6"> = 17.57°C</tspan></text>
<line x1="535.5" y1="525.26" x2="552.7" y2="525.26" stroke="#c030d0" stroke-width="1"/>
<text x="554.4" y="527.13" font-family='"Liberation Sans", sans-serif' font-size="5.2" text-anchor="start" fill="#444" textLength="26.4" lengthAdjust="spacingAndGlyphs">T<tspan font-size="3.2" dy="1.6">w</tspan><tspan dy="-1.6"> = 18.53°C</tspan></text>
<line x1="535.5" y1="533.75" x2="552.7" y2="533.75" stroke="#d8d870" stroke-width="1"/>
<text x="554.4" y="535.62" font-family='"Liberation Sans", sans-serif' font-size="5.2" text-anchor="start" fill="#444" textLength="26.4" lengthAdjust="spacingAndGlyphs">T<tspan font-size="3.2" dy="1.6">w</tspan><tspan dy="-1.6"> = 19.42°C</tspan></text>
<line x1="535.5" y1="542.24" x2="552.7" y2="542.24" stroke="#505050" stroke-width="1"/>
<text x="554.4" y="544.11" font-family='"Liberation Sans", sans-serif' font-size="5.2" text-anchor="start" fill="#444" textLength="26.4" lengthAdjust="spacingAndGlyphs">T<tspan font-size="3.2" dy="1.6">w</tspan><tspan dy="-1.6"> = 20.60°C</tspan></text>
<line x1="535.5" y1="550.73" x2="552.7" y2="550.73" stroke="#c0c0c0" stroke-width="1"/>
<text x="554.4" y="552.6" font-family='"Liberation Sans", sans-serif' font-size="5.2" text-anchor="start" fill="#444" textLength="26.4" lengthAdjust="spacingAndGlyphs">T<tspan font-size="3.2" dy="1.6">w</tspan><tspan dy="-1.6"> = 21.52°C</tspan></text>
<line x1="535.5" y1="559.22" x2="552.7" y2="559.22" stroke="#208020" stroke-width="1"/>
<text x="554.4" y="561.09" font-family='"Liberation Sans", sans-serif' font-size="5.2" text-anchor="start" fill="#444" textLength="26.4" lengthAdjust="spacingAndGlyphs">T<tspan font-size="3.2" dy="1.6">w</tspan><tspan dy="-1.6"> = 22.50°C</tspan></text>
<line x1="535.5" y1="567.71" x2="552.7" y2="567.71" stroke="#f06060" stroke-width="1"/>
<text x="554.4" y="569.58" font-family='"Liberation Sans", sans-serif' font-size="5.2" text-anchor="start" fill="#444" textLength="26.4" lengthAdjust="spacingAndGlyphs">T<tspan font-size="3.2" dy="1.6">w</tspan><tspan dy="-1.6"> = 23.65°C</tspan></text>
<line x1="535.5" y1="576.2" x2="552.7" y2="576.2" stroke="#40c8d0" stroke-width="1"/>
<text x="554.4" y="578.07" font-family='"Liberation Sans", sans-serif' font-size="5.2" text-anchor="start" fill="#444" textLength="26.4" lengthAdjust="spacingAndGlyphs">T<tspan font-size="3.2" dy="1.6">w</tspan><tspan dy="-1.6"> = 24.72°C</tspan></text>
<line x1="535.5" y1="584.69" x2="552.7" y2="584.69" stroke="#d050e0" stroke-width="1"/>
<text x="554.4" y="586.56" font-family='"Liberation Sans", sans-serif' font-size="5.2" text-anchor="start" fill="#444" textLength="26.4" lengthAdjust="spacingAndGlyphs">T<tspan font-size="3.2" dy="1.6">w</tspan><tspan dy="-1.6"> = 25.30°C</tspan></text>
<line x1="535.5" y1="593.18" x2="552.7" y2="593.18" stroke="#c8c840" stroke-width="1"/>
<text x="554.4" y="595.05" font-family='"Liberation Sans", sans-serif' font-size="5.2" text-anchor="start" fill="#444" textLength="26.4" lengthAdjust="spacingAndGlyphs">T<tspan font-size="3.2" dy="1.6">w</tspan><tspan dy="-1.6"> = 26.62°C</tspan></text>
<line x1="535.5" y1="601.67" x2="552.7" y2="601.67" stroke="#a0a0a0" stroke-width="1"/>
<text x="554.4" y="603.54" font-family='"Liberation Sans", sans-serif' font-size="5.2" text-anchor="start" fill="#444" textLength="26.4" lengthAdjust="spacingAndGlyphs">T<tspan font-size="3.2" dy="1.6">w</tspan><tspan dy="-1.6"> = 27.55°C</tspan></text>
<line x1="535.5" y1="610.16" x2="552.7" y2="610.16" stroke="#806080" stroke-width="1"/>
<text x="554.4" y="612.03" font-family='"Liberation Sans", sans-serif' font-size="5.2" text-anchor="start" fill="#444" textLength="26.4" lengthAdjust="spacingAndGlyphs">T<tspan font-size="3.2" dy="1.6">w</tspan><tspan dy="-1.6"> = 28.37°C</tspan></text>
<line x1="535.5" y1="618.65" x2="552.7" y2="618.65" stroke="#60a860" stroke-width="1"/>
<text x="554.4" y="620.52" font-family='"Liberation Sans", sans-serif' font-size="5.2" text-anchor="start" fill="#444" textLength="26.4" lengthAdjust="spacingAndGlyphs">T<tspan font-size="3.2" dy="1.6">w</tspan><tspan dy="-1.6"> = 29.65°C</tspan></text>
<line x1="535.5" y1="627.14" x2="552.7" y2="627.14" stroke="#40f0f0" stroke-width="1"/>
<text x="554.4" y="629.01" font-family='"Liberation Sans", sans-serif' font-size="5.2" text-anchor="start" fill="#444" textLength="26.4" lengthAdjust="spacingAndGlyphs">T<tspan font-size="3.2" dy="1.6">w</tspan><tspan dy="-1.6"> = 31.55°C</tspan></text>
<line x1="535.5" y1="635.63" x2="552.7" y2="635.63" stroke="#40c0c0" stroke-width="1"/>
<text x="554.4" y="637.5" font-family='"Liberation Sans", sans-serif' font-size="5.2" text-anchor="start" fill="#444" textLength="26.4" lengthAdjust="spacingAndGlyphs">T<tspan font-size="3.2" dy="1.6">w</tspan><tspan dy="-1.6"> = 32.57°C</tspan></text>
<line x1="535.5" y1="644.12" x2="552.7" y2="644.12" stroke="#c030d0" stroke-width="1"/>
<text x="554.4" y="645.99" font-family='"Liberation Sans", sans-serif' font-size="5.2" text-anchor="start" fill="#444" textLength="26.4" lengthAdjust="spacingAndGlyphs">T<tspan font-size="3.2" dy="1.6">w</tspan><tspan dy="-1.6"> = 33.35°C</tspan></text>
<line x1="535.5" y1="652.61" x2="552.7" y2="652.61" stroke="#c8c840" stroke-width="1"/>
<text x="554.4" y="654.48" font-family='"Liberation Sans", sans-serif' font-size="5.2" text-anchor="start" fill="#444" textLength="26.4" lengthAdjust="spacingAndGlyphs">T<tspan font-size="3.2" dy="1.6">w</tspan><tspan dy="-1.6"> = 34.35°C</tspan></text>
<text x="526" y="479.5" font-family='"Liberation Serif", serif' font-size="7.6" font-weight="normal" text-anchor="middle" fill="#222" textLength="117" lengthAdjust="spacingAndGlyphs">P(t) vs Time for Different Temperatures</text>
<text x="526.1" y="672.8" font-family='"Liberation Serif", serif' font-size="7.2" text-anchor="middle" fill="#222" textLength="33.9" lengthAdjust="spacingAndGlyphs">Time (days)</text>
<text transform="translate(375.8,571) rotate(-90)" font-family='"Liberation Sans", sans-serif' font-size="6" text-anchor="middle" fill="#333" textLength="70.5" lengthAdjust="spacingAndGlyphs">Cummulative Number of  Pupae</text>
<text x="351.5" y="676.8" font-family='"Liberation Serif", serif' font-size="23.4" text-anchor="start" fill="#000">F.</text>
<path d="M101.16 705.6V895.3M153.72 705.6V895.3M206.28 705.6V895.3M258.84 705.6V895.3M48.6 868.2H311.4M48.6 841.1H311.4M48.6 814H311.4M48.6 786.9H311.4M48.6 759.8H311.4M48.6 732.7H311.4" stroke="#333" stroke-width="0.8" stroke-dasharray="1.5,1.5" fill="none"/>
<polyline points="48.6,895.3 49.7,895.3 50.7,895.3 51.8,895.3 52.8,895.3 53.9,895.3 54.9,895.3 56.0,895.3 57.0,895.3 58.1,895.3 59.1,895.3 63.3,895.3 67.5,895.3 71.7,895.3 75.9,895.2 80.1,895.2 84.3,895.2 88.5,895.2 92.8,895.2 97.0,895.2 101.2,895.2 105.4,895.2 109.6,895.2 113.8,895.2 118.0,895.2 122.2,895.2 126.4,895.2 130.6,895.2 134.8,895.2 139.0,895.2 143.2,895.2 147.4,895.2 151.6,895.2 155.8,895.2 160.0,895.2 164.2,895.2 168.4,895.2 172.6,895.2 176.8,895.2 181.1,895.2 185.3,895.2 189.5,895.2 193.7,895.2 197.9,895.2 202.1,895.2 206.3,895.2 210.5,895.2 214.7,895.2 218.9,895.2 223.1,895.2 227.3,895.2 231.5,895.2 235.7,895.2 239.9,895.2 244.1,895.2 248.3,895.2 252.5,895.2 256.7,895.2 260.9,895.2 265.1,895.2 269.4,895.2 273.6,895.2 277.8,895.2 282.0,895.2 286.2,895.2 290.4,895.2 294.6,895.2 298.8,895.2 303.0,895.2 307.2,895.2 311.4,895.2" stroke="#3030d0" stroke-width="1.2" fill="none" stroke-linejoin="round"/>
<polyline points="48.6,895.3 49.7,895.3 50.7,895.2 51.8,895.2 52.8,895.2 53.9,895.1 54.9,895.1 56.0,895.1 57.0,895.0 58.1,895.0 59.1,894.9 63.3,894.8 67.5,894.7 71.7,894.6 75.9,894.5 80.1,894.4 84.3,894.3 88.5,894.2 92.8,894.1 97.0,894.1 101.2,894.0 105.4,894.0 109.6,893.9 113.8,893.9 118.0,893.8 122.2,893.8 126.4,893.7 130.6,893.7 134.8,893.7 139.0,893.6 143.2,893.6 147.4,893.6 151.6,893.5 155.8,893.5 160.0,893.5 164.2,893.5 168.4,893.5 172.6,893.4 176.8,893.4 181.1,893.4 185.3,893.4 189.5,893.4 193.7,893.4 197.9,893.4 202.1,893.4 206.3,893.4 210.5,893.3 214.7,893.3 218.9,893.3 223.1,893.3 227.3,893.3 231.5,893.3 235.7,893.3 239.9,893.3 244.1,893.3 248.3,893.3 252.5,893.3 256.7,893.3 260.9,893.3 265.1,893.3 269.4,893.3 273.6,893.3 277.8,893.3 282.0,893.3 286.2,893.3 290.4,893.3 294.6,893.3 298.8,893.3 303.0,893.3 307.2,893.3 311.4,893.3" stroke="#60b060" stroke-width="1.2" fill="none" stroke-linejoin="round"/>
<polyline points="48.6,895.3 49.7,895.3 50.7,895.2 51.8,895.2 52.8,895.1 53.9,895.0 54.9,895.0 56.0,894.9 57.0,894.9 58.1,894.8 59.1,894.8 63.3,894.6 67.5,894.4 71.7,894.3 75.9,894.1 80.1,894.0 84.3,893.8 88.5,893.7 92.8,893.6 97.0,893.5 101.2,893.4 105.4,893.3 109.6,893.2 113.8,893.2 118.0,893.1 122.2,893.0 126.4,893.0 130.6,892.9 134.8,892.9 139.0,892.8 143.2,892.8 147.4,892.8 151.6,892.7 155.8,892.7 160.0,892.7 164.2,892.6 168.4,892.6 172.6,892.6 176.8,892.6 181.1,892.5 185.3,892.5 189.5,892.5 193.7,892.5 197.9,892.5 202.1,892.5 206.3,892.4 210.5,892.4 214.7,892.4 218.9,892.4 223.1,892.4 227.3,892.4 231.5,892.4 235.7,892.4 239.9,892.4 244.1,892.4 248.3,892.4 252.5,892.4 256.7,892.4 260.9,892.4 265.1,892.3 269.4,892.3 273.6,892.3 277.8,892.3 282.0,892.3 286.2,892.3 290.4,892.3 294.6,892.3 298.8,892.3 303.0,892.3 307.2,892.3 311.4,892.3" stroke="#ffff30" stroke-width="1.2" fill="none" stroke-linejoin="round"/>
<polyline points="48.6,895.3 49.7,895.3 50.7,895.2 51.8,895.1 52.8,895.0 53.9,895.0 54.9,894.9 56.0,894.8 57.0,894.8 58.1,894.7 59.1,894.6 63.3,894.4 67.5,894.2 71.7,894.0 75.9,893.8 80.1,893.6 84.3,893.4 88.5,893.3 92.8,893.1 97.0,893.0 101.2,892.9 105.4,892.8 109.6,892.7 113.8,892.6 118.0,892.5 122.2,892.4 126.4,892.4 130.6,892.3 134.8,892.2 139.0,892.2 143.2,892.1 147.4,892.1 151.6,892.0 155.8,892.0 160.0,891.9 164.2,891.9 168.4,891.9 172.6,891.8 176.8,891.8 181.1,891.8 185.3,891.8 189.5,891.7 193.7,891.7 197.9,891.7 202.1,891.7 206.3,891.7 210.5,891.7 214.7,891.6 218.9,891.6 223.1,891.6 227.3,891.6 231.5,891.6 235.7,891.6 239.9,891.6 244.1,891.6 248.3,891.6 252.5,891.6 256.7,891.6 260.9,891.5 265.1,891.5 269.4,891.5 273.6,891.5 277.8,891.5 282.0,891.5 286.2,891.5 290.4,891.5 294.6,891.5 298.8,891.5 303.0,891.5 307.2,891.5 311.4,891.5" stroke="#30c0c0" stroke-width="1.2" fill="none" stroke-linejoin="round"/>
<polyline points="48.6,895.3 49.7,895.3 50.7,895.2 51.8,895.1 52.8,895.0 53.9,894.9 54.9,894.8 56.0,894.8 57.0,894.7 58.1,894.6 59.1,894.5 63.3,894.2 67.5,894.0 71.7,893.7 75.9,893.5 80.1,893.3 84.3,893.1 88.5,892.9 92.8,892.8 97.0,892.6 101.2,892.5 105.4,892.3 109.6,892.2 113.8,892.1 118.0,892.0 122.2,891.9 126.4,891.8 130.6,891.8 134.8,891.7 139.0,891.6 143.2,891.5 147.4,891.5 151.6,891.4 155.8,891.4 160.0,891.3 164.2,891.3 168.4,891.3 172.6,891.2 176.8,891.2 181.1,891.2 185.3,891.1 189.5,891.1 193.7,891.1 197.9,891.1 202.1,891.0 206.3,891.0 210.5,891.0 214.7,891.0 218.9,891.0 223.1,891.0 227.3,890.9 231.5,890.9 235.7,890.9 239.9,890.9 244.1,890.9 248.3,890.9 252.5,890.9 256.7,890.9 260.9,890.9 265.1,890.9 269.4,890.9 273.6,890.9 277.8,890.9 282.0,890.9 286.2,890.8 290.4,890.8 294.6,890.8 298.8,890.8 303.0,890.8 307.2,890.8 311.4,890.8" stroke="#e060e0" stroke-width="1.2" fill="none" stroke-linejoin="round"/>
<polyline points="48.6,895.3 49.7,895.2 50.7,895.1 51.8,895.0 52.8,894.9 53.9,894.8 54.9,894.7 56.0,894.6 57.0,894.5 58.1,894.4 59.1,894.3 63.3,893.9 67.5,893.6 71.7,893.2 75.9,893.0 80.1,892.7 84.3,892.4 88.5,892.2 92.8,892.0 97.0,891.8 101.2,891.6 105.4,891.4 109.6,891.3 113.8,891.1 118.0,891.0 122.2,890.9 126.4,890.8 130.6,890.7 134.8,890.6 139.0,890.5 143.2,890.4 147.4,890.3 151.6,890.3 155.8,890.2 160.0,890.1 164.2,890.1 168.4,890.0 172.6,890.0 176.8,890.0 181.1,889.9 185.3,889.9 189.5,889.8 193.7,889.8 197.9,889.8 202.1,889.8 206.3,889.7 210.5,889.7 214.7,889.7 218.9,889.7 223.1,889.6 227.3,889.6 231.5,889.6 235.7,889.6 239.9,889.6 244.1,889.6 248.3,889.6 252.5,889.6 256.7,889.5 260.9,889.5 265.1,889.5 269.4,889.5 273.6,889.5 277.8,889.5 282.0,889.5 286.2,889.5 290.4,889.5 294.6,889.5 298.8,889.5 303.0,889.5 307.2,889.5 311.4,889.5" stroke="#c0c030" stroke-width="1.2" fill="none" stroke-linejoin="round"/>
<polyline points="48.6,895.3 49.7,895.2 50.7,895.0 51.8,894.8 52.8,894.7 53.9,894.5 54.9,894.3 56.0,894.2 57.0,894.0 58.1,893.8 59.1,893.7 63.3,893.1 67.5,892.5 71.7,892.0 75.9,891.5 80.1,891.1 84.3,890.7 88.5,890.3 92.8,890.0 97.0,889.7 101.2,889.4 105.4,889.1 109.6,888.9 113.8,888.6 118.0,888.4 122.2,888.2 126.4,888.1 130.6,887.9 134.8,887.7 139.0,887.6 143.2,887.5 147.4,887.3 151.6,887.2 155.8,887.1 160.0,887.0 164.2,886.9 168.4,886.9 172.6,886.8 176.8,886.7 181.1,886.7 185.3,886.6 189.5,886.5 193.7,886.5 197.9,886.4 202.1,886.4 206.3,886.4 210.5,886.3 214.7,886.3 218.9,886.3 223.1,886.2 227.3,886.2 231.5,886.2 235.7,886.2 239.9,886.1 244.1,886.1 248.3,886.1 252.5,886.1 256.7,886.1 260.9,886.1 265.1,886.0 269.4,886.0 273.6,886.0 277.8,886.0 282.0,886.0 286.2,886.0 290.4,886.0 294.6,886.0 298.8,886.0 303.0,886.0 307.2,886.0 311.4,886.0" stroke="#404040" stroke-width="1.2" fill="none" stroke-linejoin="round"/>
<polyline points="48.6,895.3 49.7,895.2 50.7,894.9 51.8,894.7 52.8,894.5 53.9,894.2 54.9,894.0 56.0,893.8 57.0,893.6 58.1,893.4 59.1,893.2 63.3,892.4 67.5,891.6 71.7,891.0 75.9,890.3 80.1,889.8 84.3,889.2 88.5,888.7 92.8,888.3 97.0,887.9 101.2,887.5 105.4,887.1 109.6,886.8 113.8,886.5 118.0,886.2 122.2,886.0 126.4,885.7 130.6,885.5 134.8,885.3 139.0,885.1 143.2,885.0 147.4,884.8 151.6,884.7 155.8,884.5 160.0,884.4 164.2,884.3 168.4,884.2 172.6,884.1 176.8,884.0 181.1,883.9 185.3,883.8 189.5,883.7 193.7,883.7 197.9,883.6 202.1,883.6 206.3,883.5 210.5,883.5 214.7,883.4 218.9,883.4 223.1,883.3 227.3,883.3 231.5,883.3 235.7,883.2 239.9,883.2 244.1,883.2 248.3,883.2 252.5,883.1 256.7,883.1 260.9,883.1 265.1,883.1 269.4,883.1 273.6,883.1 277.8,883.0 282.0,883.0 286.2,883.0 290.4,883.0 294.6,883.0 298.8,883.0 303.0,883.0 307.2,883.0 311.4,883.0" stroke="#70d8d8" stroke-width="1.2" fill="none" stroke-linejoin="round"/>
<polyline points="48.6,895.3 49.7,895.2 50.7,894.9 51.8,894.6 52.8,894.3 53.9,894.1 54.9,893.8 56.0,893.6 57.0,893.3 58.1,893.1 59.1,892.8 63.3,891.9 67.5,891.0 71.7,890.2 75.9,889.4 80.1,888.7 84.3,888.1 88.5,887.4 92.8,886.8 97.0,886.3 101.2,885.8 105.4,885.3 109.6,884.9 113.8,884.4 118.0,884.1 122.2,883.7 126.4,883.3 130.6,883.0 134.8,882.7 139.0,882.4 143.2,882.2 147.4,881.9 151.6,881.7 155.8,881.5 160.0,881.3 164.2,881.1 168.4,880.9 172.6,880.8 176.8,880.6 181.1,880.5 185.3,880.3 189.5,880.2 193.7,880.1 197.9,880.0 202.1,879.9 206.3,879.8 210.5,879.7 214.7,879.6 218.9,879.5 223.1,879.4 227.3,879.4 231.5,879.3 235.7,879.2 239.9,879.2 244.1,879.1 248.3,879.1 252.5,879.0 256.7,879.0 260.9,879.0 265.1,878.9 269.4,878.9 273.6,878.9 277.8,878.8 282.0,878.8 286.2,878.8 290.4,878.7 294.6,878.7 298.8,878.7 303.0,878.7 307.2,878.7 311.4,878.6" stroke="#208020" stroke-width="1.2" fill="none" stroke-linejoin="round"/>
<polyline points="48.6,895.3 49.7,895.1 50.7,894.8 51.8,894.5 52.8,894.2 53.9,893.9 54.9,893.6 56.0,893.3 57.0,893.1 58.1,892.8 59.1,892.5 63.3,891.4 67.5,890.4 71.7,889.4 75.9,888.5 80.1,887.6 84.3,886.7 88.5,885.9 92.8,885.1 97.0,884.4 101.2,883.7 105.4,883.1 109.6,882.4 113.8,881.8 118.0,881.3 122.2,880.7 126.4,880.2 130.6,879.7 134.8,879.3 139.0,878.8 143.2,878.4 147.4,878.0 151.6,877.6 155.8,877.3 160.0,876.9 164.2,876.6 168.4,876.3 172.6,876.0 176.8,875.7 181.1,875.4 185.3,875.2 189.5,874.9 193.7,874.7 197.9,874.5 202.1,874.3 206.3,874.1 210.5,873.9 214.7,873.7 218.9,873.5 223.1,873.4 227.3,873.2 231.5,873.1 235.7,872.9 239.9,872.8 244.1,872.7 248.3,872.6 252.5,872.4 256.7,872.3 260.9,872.2 265.1,872.1 269.4,872.0 273.6,872.0 277.8,871.9 282.0,871.8 286.2,871.7 290.4,871.6 294.6,871.6 298.8,871.5 303.0,871.4 307.2,871.4 311.4,871.3" stroke="#c0c030" stroke-width="1.2" fill="none" stroke-linejoin="round"/>
<polyline points="48.6,895.3 49.7,895.1 50.7,894.7 51.8,894.3 52.8,894.0 53.9,893.6 54.9,893.2 56.0,892.9 57.0,892.5 58.1,892.1 59.1,891.8 63.3,890.4 67.5,889.1 71.7,887.9 75.9,886.7 80.1,885.5 84.3,884.4 88.5,883.4 92.8,882.4 97.0,881.4 101.2,880.5 105.4,879.6 109.6,878.8 113.8,878.0 118.0,877.2 122.2,876.5 126.4,875.8 130.6,875.1 134.8,874.5 139.0,873.9 143.2,873.3 147.4,872.7 151.6,872.2 155.8,871.7 160.0,871.2 164.2,870.7 168.4,870.2 172.6,869.8 176.8,869.4 181.1,869.0 185.3,868.6 189.5,868.3 193.7,867.9 197.9,867.6 202.1,867.3 206.3,867.0 210.5,866.7 214.7,866.4 218.9,866.1 223.1,865.9 227.3,865.7 231.5,865.4 235.7,865.2 239.9,865.0 244.1,864.8 248.3,864.6 252.5,864.4 256.7,864.2 260.9,864.1 265.1,863.9 269.4,863.7 273.6,863.6 277.8,863.5 282.0,863.3 286.2,863.2 290.4,863.1 294.6,862.9 298.8,862.8 303.0,862.7 307.2,862.6 311.4,862.5" stroke="#70d8d8" stroke-width="1.2" fill="none" stroke-linejoin="round"/>
<polyline points="48.6,895.3 49.7,895.1 50.7,894.7 51.8,894.4 52.8,894.0 53.9,893.7 54.9,893.3 56.0,892.9 57.0,892.6 58.1,892.3 59.1,891.9 63.3,890.6 67.5,889.3 71.7,888.0 75.9,886.8 80.1,885.6 84.3,884.4 88.5,883.3 92.8,882.3 97.0,881.2 101.2,880.2 105.4,879.3 109.6,878.3 113.8,877.4 118.0,876.6 122.2,875.7 126.4,874.9 130.6,874.1 134.8,873.3 139.0,872.6 143.2,871.9 147.4,871.2 151.6,870.5 155.8,869.9 160.0,869.2 164.2,868.6 168.4,868.0 172.6,867.5 176.8,866.9 181.1,866.4 185.3,865.9 189.5,865.4 193.7,864.9 197.9,864.4 202.1,864.0 206.3,863.5 210.5,863.1 214.7,862.7 218.9,862.3 223.1,861.9 227.3,861.6 231.5,861.2 235.7,860.9 239.9,860.5 244.1,860.2 248.3,859.9 252.5,859.6 256.7,859.3 260.9,859.0 265.1,858.8 269.4,858.5 273.6,858.2 277.8,858.0 282.0,857.8 286.2,857.5 290.4,857.3 294.6,857.1 298.8,856.9 303.0,856.7 307.2,856.5 311.4,856.3" stroke="#b030d0" stroke-width="1.2" fill="none" stroke-linejoin="round"/>
<polyline points="48.6,895.3 49.7,895.1 50.7,894.6 51.8,894.2 52.8,893.7 53.9,893.3 54.9,892.9 56.0,892.4 57.0,892.0 58.1,891.6 59.1,891.2 63.3,889.5 67.5,887.9 71.7,886.3 75.9,884.7 80.1,883.2 84.3,881.7 88.5,880.3 92.8,878.9 97.0,877.5 101.2,876.2 105.4,874.9 109.6,873.6 113.8,872.4 118.0,871.2 122.2,870.0 126.4,868.8 130.6,867.7 134.8,866.6 139.0,865.6 143.2,864.5 147.4,863.5 151.6,862.5 155.8,861.6 160.0,860.6 164.2,859.7 168.4,858.8 172.6,857.9 176.8,857.1 181.1,856.3 185.3,855.4 189.5,854.7 193.7,853.9 197.9,853.1 202.1,852.4 206.3,851.7 210.5,851.0 214.7,850.3 218.9,849.6 223.1,849.0 227.3,848.4 231.5,847.8 235.7,847.2 239.9,846.6 244.1,846.0 248.3,845.4 252.5,844.9 256.7,844.4 260.9,843.9 265.1,843.4 269.4,842.9 273.6,842.4 277.8,841.9 282.0,841.5 286.2,841.0 290.4,840.6 294.6,840.2 298.8,839.7 303.0,839.3 307.2,839.0 311.4,838.6" stroke="#b030d0" stroke-width="1.2" fill="none" stroke-linejoin="round"/>
<polyline points="48.6,895.3 49.7,895.0 50.7,894.5 51.8,893.9 52.8,893.4 53.9,892.9 54.9,892.3 56.0,891.8 57.0,891.3 58.1,890.8 59.1,890.3 63.3,888.2 67.5,886.2 71.7,884.3 75.9,882.4 80.1,880.5 84.3,878.7 88.5,876.9 92.8,875.2 97.0,873.5 101.2,871.9 105.4,870.3 109.6,868.7 113.8,867.2 118.0,865.7 122.2,864.2 126.4,862.8 130.6,861.4 134.8,860.0 139.0,858.7 143.2,857.4 147.4,856.1 151.6,854.8 155.8,853.6 160.0,852.4 164.2,851.3 168.4,850.1 172.6,849.0 176.8,848.0 181.1,846.9 185.3,845.9 189.5,844.9 193.7,843.9 197.9,842.9 202.1,842.0 206.3,841.1 210.5,840.2 214.7,839.3 218.9,838.4 223.1,837.6 227.3,836.8 231.5,836.0 235.7,835.2 239.9,834.5 244.1,833.7 248.3,833.0 252.5,832.3 256.7,831.6 260.9,830.9 265.1,830.3 269.4,829.6 273.6,829.0 277.8,828.4 282.0,827.8 286.2,827.2 290.4,826.6 294.6,826.1 298.8,825.5 303.0,825.0 307.2,824.5 311.4,824.0" stroke="#505050" stroke-width="1.2" fill="none" stroke-linejoin="round"/>
<polyline points="48.6,895.3 49.7,895.0 50.7,894.4 51.8,893.9 52.8,893.3 53.9,892.7 54.9,892.2 56.0,891.6 57.0,891.0 58.1,890.5 59.1,889.9 63.3,887.7 67.5,885.6 71.7,883.5 75.9,881.4 80.1,879.3 84.3,877.3 88.5,875.4 92.8,873.4 97.0,871.6 101.2,869.7 105.4,867.9 109.6,866.1 113.8,864.3 118.0,862.6 122.2,860.9 126.4,859.2 130.6,857.6 134.8,855.9 139.0,854.4 143.2,852.8 147.4,851.3 151.6,849.8 155.8,848.3 160.0,846.9 164.2,845.5 168.4,844.1 172.6,842.7 176.8,841.4 181.1,840.0 185.3,838.7 189.5,837.5 193.7,836.2 197.9,835.0 202.1,833.8 206.3,832.6 210.5,831.5 214.7,830.3 218.9,829.2 223.1,828.1 227.3,827.0 231.5,826.0 235.7,824.9 239.9,823.9 244.1,822.9 248.3,821.9 252.5,820.9 256.7,820.0 260.9,819.1 265.1,818.1 269.4,817.2 273.6,816.3 277.8,815.5 282.0,814.6 286.2,813.8 290.4,813.0 294.6,812.2 298.8,811.4 303.0,810.6 307.2,809.8 311.4,809.1" stroke="#e0e8f8" stroke-width="1.2" fill="none" stroke-linejoin="round"/>
<polyline points="48.6,895.3 49.7,895.0 50.7,894.3 51.8,893.7 52.8,893.0 53.9,892.4 54.9,891.7 56.0,891.1 57.0,890.5 58.1,889.8 59.1,889.2 63.3,886.7 67.5,884.2 71.7,881.7 75.9,879.3 80.1,876.9 84.3,874.6 88.5,872.3 92.8,870.0 97.0,867.7 101.2,865.5 105.4,863.3 109.6,861.1 113.8,859.0 118.0,856.8 122.2,854.8 126.4,852.7 130.6,850.7 134.8,848.7 139.0,846.7 143.2,844.7 147.4,842.8 151.6,840.9 155.8,839.0 160.0,837.2 164.2,835.4 168.4,833.5 172.6,831.8 176.8,830.0 181.1,828.3 185.3,826.6 189.5,824.9 193.7,823.2 197.9,821.6 202.1,820.0 206.3,818.4 210.5,816.8 214.7,815.2 218.9,813.7 223.1,812.2 227.3,810.7 231.5,809.2 235.7,807.8 239.9,806.3 244.1,804.9 248.3,803.5 252.5,802.1 256.7,800.8 260.9,799.4 265.1,798.1 269.4,796.8 273.6,795.5 277.8,794.2 282.0,793.0 286.2,791.7 290.4,790.5 294.6,789.3 298.8,788.1 303.0,786.9 307.2,785.7 311.4,784.6" stroke="#209020" stroke-width="1.2" fill="none" stroke-linejoin="round"/>
<polyline points="48.6,895.3 49.7,894.9 50.7,894.1 51.8,893.4 52.8,892.6 53.9,891.8 54.9,891.1 56.0,890.3 57.0,889.5 58.1,888.8 59.1,888.0 63.3,885.0 67.5,882.0 71.7,879.1 75.9,876.1 80.1,873.2 84.3,870.4 88.5,867.5 92.8,864.7 97.0,861.9 101.2,859.2 105.4,856.4 109.6,853.7 113.8,851.0 118.0,848.4 122.2,845.8 126.4,843.2 130.6,840.6 134.8,838.1 139.0,835.5 143.2,833.0 147.4,830.6 151.6,828.1 155.8,825.7 160.0,823.3 164.2,820.9 168.4,818.6 172.6,816.3 176.8,814.0 181.1,811.7 185.3,809.4 189.5,807.2 193.7,805.0 197.9,802.8 202.1,800.6 206.3,798.5 210.5,796.3 214.7,794.2 218.9,792.2 223.1,790.1 227.3,788.0 231.5,786.0 235.7,784.0 239.9,782.0 244.1,780.1 248.3,778.1 252.5,776.2 256.7,774.3 260.9,772.4 265.1,770.6 269.4,768.7 273.6,766.9 277.8,765.1 282.0,763.3 286.2,761.5 290.4,759.7 294.6,758.0 298.8,756.3 303.0,754.6 307.2,752.9 311.4,751.2" stroke="#f03030" stroke-width="1.2" fill="none" stroke-linejoin="round"/>
<polyline points="48.6,895.3 49.7,894.9 50.7,894.0 51.8,893.2 52.8,892.3 53.9,891.5 54.9,890.7 56.0,889.8 57.0,889.0 58.1,888.2 59.1,887.3 63.3,884.0 67.5,880.7 71.7,877.5 75.9,874.3 80.1,871.1 84.3,868.0 88.5,864.9 92.8,861.8 97.0,858.7 101.2,855.7 105.4,852.7 109.6,849.8 113.8,846.9 118.0,844.0 122.2,841.1 126.4,838.2 130.6,835.4 134.8,832.6 139.0,829.9 143.2,827.1 147.4,824.4 151.6,821.8 155.8,819.1 160.0,816.5 164.2,813.9 168.4,811.3 172.6,808.8 176.8,806.2 181.1,803.7 185.3,801.3 189.5,798.8 193.7,796.4 197.9,794.0 202.1,791.6 206.3,789.3 210.5,787.0 214.7,784.7 218.9,782.4 223.1,780.1 227.3,777.9 231.5,775.7 235.7,773.5 239.9,771.3 244.1,769.1 248.3,767.0 252.5,764.9 256.7,762.8 260.9,760.8 265.1,758.7 269.4,756.7 273.6,754.7 277.8,752.7 282.0,750.7 286.2,748.8 290.4,746.9 294.6,745.0 298.8,743.1 303.0,741.2 307.2,739.4 311.4,737.5" stroke="#30c0c0" stroke-width="1.2" fill="none" stroke-linejoin="round"/>
<polyline points="48.6,895.3 49.7,894.8 50.7,893.9 51.8,893.0 52.8,892.1 53.9,891.2 54.9,890.3 56.0,889.4 57.0,888.5 58.1,887.7 59.1,886.8 63.3,883.2 67.5,879.8 71.7,876.3 75.9,872.9 80.1,869.5 84.3,866.2 88.5,862.9 92.8,859.6 97.0,856.4 101.2,853.2 105.4,850.1 109.6,847.0 113.8,843.9 118.0,840.8 122.2,837.8 126.4,834.8 130.6,831.9 134.8,829.0 139.0,826.1 143.2,823.2 147.4,820.4 151.6,817.6 155.8,814.8 160.0,812.1 164.2,809.4 168.4,806.7 172.6,804.1 176.8,801.5 181.1,798.9 185.3,796.4 189.5,793.8 193.7,791.3 197.9,788.9 202.1,786.4 206.3,784.0 210.5,781.6 214.7,779.3 218.9,776.9 223.1,774.6 227.3,772.3 231.5,770.1 235.7,767.8 239.9,765.6 244.1,763.4 248.3,761.3 252.5,759.1 256.7,757.0 260.9,754.9 265.1,752.9 269.4,750.8 273.6,748.8 277.8,746.8 282.0,744.8 286.2,742.9 290.4,740.9 294.6,739.0 298.8,737.1 303.0,735.3 307.2,733.4 311.4,731.6" stroke="#b030d0" stroke-width="1.2" fill="none" stroke-linejoin="round"/>
<polyline points="48.6,895.3 49.7,894.8 50.7,893.8 51.8,892.9 52.8,891.9 53.9,890.9 54.9,889.9 56.0,889.0 57.0,888.0 58.1,887.1 59.1,886.1 63.3,882.3 67.5,878.6 71.7,874.9 75.9,871.3 80.1,867.7 84.3,864.2 88.5,860.7 92.8,857.2 97.0,853.8 101.2,850.5 105.4,847.2 109.6,843.9 113.8,840.7 118.0,837.5 122.2,834.3 126.4,831.2 130.6,828.2 134.8,825.2 139.0,822.2 143.2,819.3 147.4,816.4 151.6,813.5 155.8,810.7 160.0,807.9 164.2,805.2 168.4,802.4 172.6,799.8 176.8,797.1 181.1,794.5 185.3,792.0 189.5,789.4 193.7,786.9 197.9,784.5 202.1,782.0 206.3,779.6 210.5,777.2 214.7,774.9 218.9,772.6 223.1,770.3 227.3,768.1 231.5,765.8 235.7,763.7 239.9,761.5 244.1,759.4 248.3,757.3 252.5,755.2 256.7,753.1 260.9,751.1 265.1,749.1 269.4,747.2 273.6,745.2 277.8,743.3 282.0,741.4 286.2,739.5 290.4,737.7 294.6,735.9 298.8,734.1 303.0,732.3 307.2,730.6 311.4,728.8" stroke="#484848" stroke-width="1.2" fill="none" stroke-linejoin="round"/>
<rect x="48.6" y="705.6" width="262.8" height="189.7" fill="none" stroke="#707070" stroke-width="1.1"/>
<line x1="48.6" y1="705.6" x2="311.4" y2="705.6" stroke="#222" stroke-width="1.1" stroke-dasharray="2,1.2"/>
<text x="46.5" y="897.6" font-family='"Liberation Sans", sans-serif' font-size="6.4" text-anchor="end" fill="#333" textLength="3.3" lengthAdjust="spacingAndGlyphs">0</text>
<text x="46.5" y="870.5" font-family='"Liberation Sans", sans-serif' font-size="6.4" text-anchor="end" fill="#333" textLength="3.3" lengthAdjust="spacingAndGlyphs">2</text>
<text x="46.5" y="843.4" font-family='"Liberation Sans", sans-serif' font-size="6.4" text-anchor="end" fill="#333" textLength="3.3" lengthAdjust="spacingAndGlyphs">4</text>
<text x="46.5" y="816.3" font-family='"Liberation Sans", sans-serif' font-size="6.4" text-anchor="end" fill="#333" textLength="3.3" lengthAdjust="spacingAndGlyphs">6</text>
<text x="46.5" y="789.2" font-family='"Liberation Sans", sans-serif' font-size="6.4" text-anchor="end" fill="#333" textLength="3.3" lengthAdjust="spacingAndGlyphs">8</text>
<text x="46.5" y="762.1" font-family='"Liberation Sans", sans-serif' font-size="6.4" text-anchor="end" fill="#333" textLength="6.6" lengthAdjust="spacingAndGlyphs">10</text>
<text x="46.5" y="735" font-family='"Liberation Sans", sans-serif' font-size="6.4" text-anchor="end" fill="#333" textLength="6.6" lengthAdjust="spacingAndGlyphs">12</text>
<text x="46.5" y="707.9" font-family='"Liberation Sans", sans-serif' font-size="6.4" text-anchor="end" fill="#333" textLength="6.6" lengthAdjust="spacingAndGlyphs">14</text>
<text x="48.6" y="903" font-family='"Liberation Sans", sans-serif' font-size="6.4" text-anchor="middle" fill="#333" textLength="3.3" lengthAdjust="spacingAndGlyphs">0</text>
<text x="101.16" y="903" font-family='"Liberation Sans", sans-serif' font-size="6.4" text-anchor="middle" fill="#333" textLength="3.3" lengthAdjust="spacingAndGlyphs">5</text>
<text x="153.72" y="903" font-family='"Liberation Sans", sans-serif' font-size="6.4" text-anchor="middle" fill="#333" textLength="6.6" lengthAdjust="spacingAndGlyphs">10</text>
<text x="206.28" y="903" font-family='"Liberation Sans", sans-serif' font-size="6.4" text-anchor="middle" fill="#333" textLength="6.6" lengthAdjust="spacingAndGlyphs">15</text>
<text x="258.84" y="903" font-family='"Liberation Sans", sans-serif' font-size="6.4" text-anchor="middle" fill="#333" textLength="6.6" lengthAdjust="spacingAndGlyphs">20</text>
<text x="311.4" y="903" font-family='"Liberation Sans", sans-serif' font-size="6.4" text-anchor="middle" fill="#333" textLength="6.6" lengthAdjust="spacingAndGlyphs">25</text>
<rect x="137.6" y="711.4" width="56" height="168.7" fill="#fff" stroke="#555" stroke-width="0.9"/>
<line x1="140.7" y1="716.4" x2="158.6" y2="716.4" stroke="#3030d0" stroke-width="1"/>
<text x="160.1" y="718.7" font-family='"Liberation Sans", sans-serif' font-size="6.4" text-anchor="start" fill="#222" textLength="31" lengthAdjust="spacingAndGlyphs">T = 14.55°C</text>
<line x1="140.7" y1="724.74" x2="158.6" y2="724.74" stroke="#60b060" stroke-width="1"/>
<text x="160.1" y="727.04" font-family='"Liberation Sans", sans-serif' font-size="6.4" text-anchor="start" fill="#222" textLength="31" lengthAdjust="spacingAndGlyphs">T = 15.62°C</text>
<line x1="140.7" y1="733.08" x2="158.6" y2="733.08" stroke="#ffff30" stroke-width="1"/>
<text x="160.1" y="735.38" font-family='"Liberation Sans", sans-serif' font-size="6.4" text-anchor="start" fill="#222" textLength="31" lengthAdjust="spacingAndGlyphs">T = 16.62°C</text>
<line x1="140.7" y1="741.42" x2="158.6" y2="741.42" stroke="#30c0c0" stroke-width="1"/>
<text x="160.1" y="743.72" font-family='"Liberation Sans", sans-serif' font-size="6.4" text-anchor="start" fill="#222" textLength="31" lengthAdjust="spacingAndGlyphs">T = 17.57°C</text>
<line x1="140.7" y1="749.76" x2="158.6" y2="749.76" stroke="#e060e0" stroke-width="1.6"/>
<text x="160.1" y="752.06" font-family='"Liberation Sans", sans-serif' font-size="6.4" text-anchor="start" fill="#222" textLength="31" lengthAdjust="spacingAndGlyphs">T = 18.53°C</text>
<line x1="140.7" y1="758.1" x2="158.6" y2="758.1" stroke="#c0c030" stroke-width="1"/>
<text x="160.1" y="760.4" font-family='"Liberation Sans", sans-serif' font-size="6.4" text-anchor="start" fill="#222" textLength="31" lengthAdjust="spacingAndGlyphs">T = 19.42°C</text>
<line x1="140.7" y1="766.44" x2="158.6" y2="766.44" stroke="#404040" stroke-width="1"/>
<text x="160.1" y="768.74" font-family='"Liberation Sans", sans-serif' font-size="6.4" text-anchor="start" fill="#222" textLength="31" lengthAdjust="spacingAndGlyphs">T = 20.60°C</text>
<line x1="140.7" y1="774.78" x2="158.6" y2="774.78" stroke="#70d8d8" stroke-width="1.6"/>
<text x="160.1" y="777.08" font-family='"Liberation Sans", sans-serif' font-size="6.4" text-anchor="start" fill="#222" textLength="31" lengthAdjust="spacingAndGlyphs">T = 21.52°C</text>
<line x1="140.7" y1="783.12" x2="158.6" y2="783.12" stroke="#208020" stroke-width="1"/>
<text x="160.1" y="785.42" font-family='"Liberation Sans", sans-serif' font-size="6.4" text-anchor="start" fill="#222" textLength="31" lengthAdjust="spacingAndGlyphs">T = 22.50°C</text>
<line x1="140.7" y1="791.46" x2="158.6" y2="791.46" stroke="#c0c030" stroke-width="1"/>
<text x="160.1" y="793.76" font-family='"Liberation Sans", sans-serif' font-size="6.4" text-anchor="start" fill="#222" textLength="31" lengthAdjust="spacingAndGlyphs">T = 23.65°C</text>
<line x1="140.7" y1="799.8" x2="158.6" y2="799.8" stroke="#70d8d8" stroke-width="1"/>
<text x="160.1" y="802.1" font-family='"Liberation Sans", sans-serif' font-size="6.4" text-anchor="start" fill="#222" textLength="31" lengthAdjust="spacingAndGlyphs">T = 24.72°C</text>
<line x1="140.7" y1="808.14" x2="158.6" y2="808.14" stroke="#b030d0" stroke-width="1"/>
<text x="160.1" y="810.44" font-family='"Liberation Sans", sans-serif' font-size="6.4" text-anchor="start" fill="#222" textLength="31" lengthAdjust="spacingAndGlyphs">T = 25.30°C</text>
<line x1="140.7" y1="816.48" x2="158.6" y2="816.48" stroke="#b030d0" stroke-width="1"/>
<text x="160.1" y="818.78" font-family='"Liberation Sans", sans-serif' font-size="6.4" text-anchor="start" fill="#222" textLength="31" lengthAdjust="spacingAndGlyphs">T = 26.62°C</text>
<line x1="140.7" y1="824.82" x2="158.6" y2="824.82" stroke="#707070" stroke-width="1.8"/>
<text x="160.1" y="827.12" font-family='"Liberation Sans", sans-serif' font-size="6.4" text-anchor="start" fill="#222" textLength="31" lengthAdjust="spacingAndGlyphs">T = 27.55°C</text>
<line x1="140.7" y1="833.16" x2="158.6" y2="833.16" stroke="#e0e8f8" stroke-width="1"/>
<text x="160.1" y="835.46" font-family='"Liberation Sans", sans-serif' font-size="6.4" text-anchor="start" fill="#222" textLength="31" lengthAdjust="spacingAndGlyphs">T = 28.37°C</text>
<line x1="140.7" y1="841.5" x2="158.6" y2="841.5" stroke="#209020" stroke-width="1"/>
<text x="160.1" y="843.8" font-family='"Liberation Sans", sans-serif' font-size="6.4" text-anchor="start" fill="#222" textLength="31" lengthAdjust="spacingAndGlyphs">T = 29.65°C</text>
<line x1="140.7" y1="849.84" x2="158.6" y2="849.84" stroke="#f07070" stroke-width="1.8"/>
<text x="160.1" y="852.14" font-family='"Liberation Sans", sans-serif' font-size="6.4" text-anchor="start" fill="#222" textLength="31" lengthAdjust="spacingAndGlyphs">T = 31.55°C</text>
<line x1="140.7" y1="858.18" x2="158.6" y2="858.18" stroke="#30c0c0" stroke-width="1"/>
<text x="160.1" y="860.48" font-family='"Liberation Sans", sans-serif' font-size="6.4" text-anchor="start" fill="#222" textLength="31" lengthAdjust="spacingAndGlyphs">T = 32.57°C</text>
<line x1="140.7" y1="866.52" x2="158.6" y2="866.52" stroke="#b030d0" stroke-width="1"/>
<text x="160.1" y="868.82" font-family='"Liberation Sans", sans-serif' font-size="6.4" text-anchor="start" fill="#222" textLength="31" lengthAdjust="spacingAndGlyphs">T = 33.35°C</text>
<line x1="140.7" y1="874.86" x2="158.6" y2="874.86" stroke="#808080" stroke-width="1.8"/>
<text x="160.1" y="877.16" font-family='"Liberation Sans", sans-serif' font-size="6.4" text-anchor="start" fill="#222" textLength="31" lengthAdjust="spacingAndGlyphs">T = 34.35°C</text>
<text x="179.3" y="700.5" font-family='"Liberation Serif", serif' font-size="8.8" font-weight="normal" text-anchor="middle" fill="#222" textLength="144.6" lengthAdjust="spacingAndGlyphs">Am (Am(t)) vs Time for Different Temperatures</text>
<text x="179.1" y="911.9" font-family='"Liberation Serif", serif' font-size="8" text-anchor="middle" fill="#222" textLength="36.1" lengthAdjust="spacingAndGlyphs">Time (days)</text>
<text transform="translate(37,798) rotate(-90)" font-family='"Liberation Serif", serif' font-size="7.8" text-anchor="middle" fill="#333" textLength="156" lengthAdjust="spacingAndGlyphs">Cummulative Number of Ault  Female Mosquitoe</text>
<text x="12.8" y="918" font-family='"Liberation Serif", serif' font-size="23.4" text-anchor="start" fill="#000">G.</text>
<rect x="389" y="482.3" width="3.4" height="3.4" fill="#111"/>
<rect x="524.9" y="482.3" width="3.4" height="3.4" fill="#111"/>
<rect x="660.9" y="482.3" width="3.4" height="3.4" fill="#111"/>
<rect x="389" y="569.8" width="3.4" height="3.4" fill="#111"/>
<rect x="660.9" y="569.8" width="3.4" height="3.4" fill="#111"/>
<rect x="389" y="657.3" width="3.4" height="3.4" fill="#111"/>
<rect x="524.9" y="657.3" width="3.4" height="3.4" fill="#111"/>
<rect x="660.9" y="657.3" width="3.4" height="3.4" fill="#111"/>
<text x="49" y="702.5" font-family='"Liberation Sans", sans-serif' font-size="6" text-anchor="start" fill="#333">× 10</text>
<text x="61.2" y="698" font-family='"Liberation Sans", sans-serif' font-size="4" text-anchor="start" fill="#333">5</text>
</svg>
</body></html>
